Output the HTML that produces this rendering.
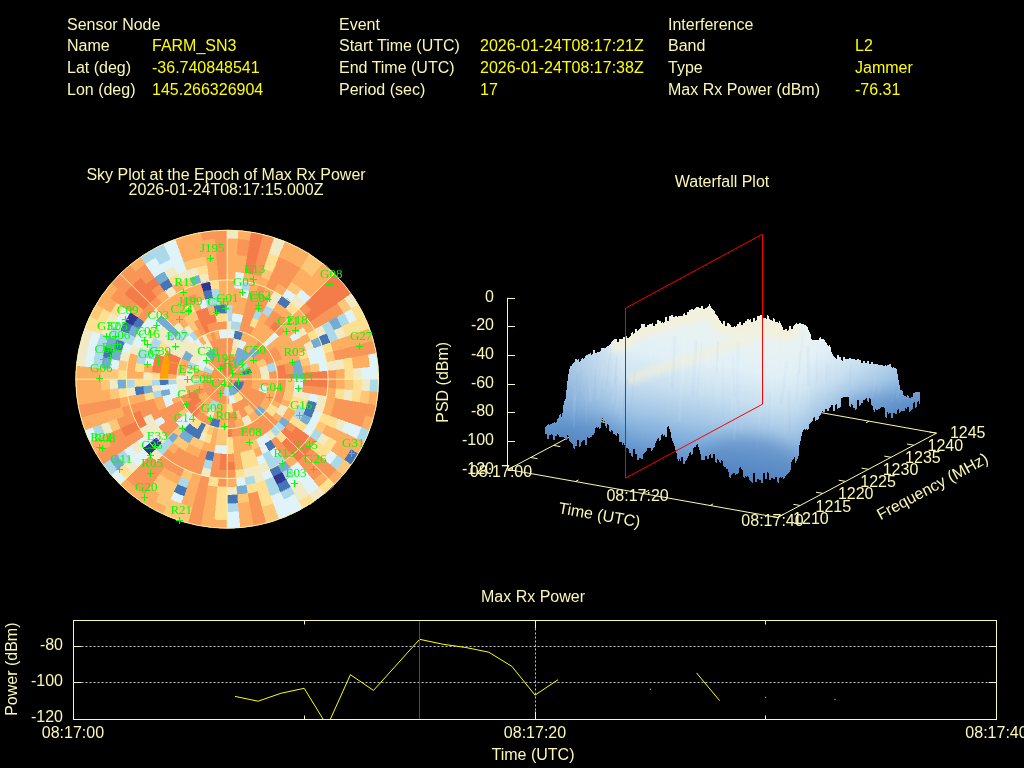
<!DOCTYPE html>
<html><head><meta charset="utf-8"><title>Interference Event</title>
<style>
html,body{margin:0;padding:0;background:#000;overflow:hidden}
svg{display:block;will-change:transform}
text{font-family:"Liberation Sans",sans-serif;font-size:16px}
</style></head><body>
<svg width="1024" height="768" viewBox="0 0 1024 768">
<rect width="1024" height="768" fill="#000"/>
<g shape-rendering="crispEdges">
<ellipse cx="227.2" cy="379.2" rx="151.4" ry="149.0" fill="#fdae61"/>
<path fill="#f47b4a" stroke="#f47b4a" stroke-width="0.4" d="M227.2,370.9L227.5,370.9L227.8,370.9L227.2,379.2L227.2,379.2L227.2,379.2ZM227.2,362.6L227.8,362.7L228.5,362.7L227.8,370.9L227.5,370.9L227.2,370.9ZM227.8,370.9L228.2,371.0L228.5,371.0L227.2,379.2L227.2,379.2L227.2,379.2ZM228.5,362.7L229.1,362.8L229.8,362.8L228.5,371.0L228.2,371.0L227.8,370.9ZM228.5,371.0L228.9,371.1L229.2,371.2L227.2,379.2L227.2,379.2L227.2,379.2ZM229.8,362.8L230.5,363.0L231.2,363.1L229.2,371.2L228.9,371.1L228.5,371.0ZM245.6,264.7L250.4,265.6L255.1,266.6L253.1,274.7L248.7,273.7L244.3,272.9ZM246.9,256.6L252.0,257.5L257.1,258.6L255.1,266.6L250.4,265.6L245.6,264.7ZM248.3,248.4L253.7,249.3L259.1,250.5L257.1,258.6L252.0,257.5L246.9,256.6ZM249.6,240.2L255.3,241.2L261.1,242.5L259.1,250.5L253.7,249.3L248.3,248.4ZM250.9,232.0L257.0,233.1L263.1,234.4L261.1,242.5L255.3,241.2L249.6,240.2ZM229.2,371.2L229.5,371.2L229.8,371.3L227.2,379.2L227.2,379.2L227.2,379.2ZM231.2,363.1L231.8,363.3L232.4,363.5L229.8,371.3L229.5,371.2L229.2,371.2ZM229.8,371.3L230.1,371.4L230.4,371.6L227.2,379.2L227.2,379.2L227.2,379.2ZM232.4,363.5L233.0,363.7L233.6,363.9L230.4,371.6L230.1,371.4L229.8,371.3ZM274.8,321.3L277.9,323.8L280.7,326.5L274.8,332.4L272.2,330.0L269.5,327.7ZM310.5,297.3L314.0,300.9L317.4,304.7L311.0,310.0L307.8,306.5L304.5,303.1ZM316.4,291.4L320.2,295.3L323.8,299.4L317.4,304.7L314.0,300.9L310.5,297.3ZM322.4,285.5L326.4,289.7L330.3,294.1L323.8,299.4L320.2,295.3L316.4,291.4ZM328.3,279.7L332.6,284.1L336.7,288.7L330.3,294.1L326.4,289.7L322.4,285.5ZM334.3,273.8L338.8,278.5L343.2,283.4L336.7,288.7L332.6,284.1L328.3,279.7ZM311.0,310.0L313.9,313.7L316.8,317.5L309.9,322.2L307.3,318.7L304.5,315.3ZM317.4,304.7L320.6,308.7L323.7,312.7L316.8,317.5L313.9,313.7L311.0,310.0ZM323.8,299.4L327.3,303.6L330.5,308.0L323.7,312.7L320.6,308.7L317.4,304.7ZM330.3,294.1L334.0,298.6L337.4,303.2L330.5,308.0L327.3,303.6L323.8,299.4ZM336.7,288.7L340.6,293.5L344.3,298.5L337.4,303.2L334.0,298.6L330.3,294.1ZM343.2,283.4L347.3,288.5L351.2,293.7L344.3,298.5L340.6,293.5L336.7,288.7ZM284.1,364.2L284.7,366.7L285.2,369.1L276.9,370.6L276.5,368.5L275.9,366.3ZM285.2,369.1L285.6,371.6L285.9,374.1L277.5,374.9L277.2,372.7L276.9,370.6ZM285.9,374.1L286.0,376.7L286.1,379.2L277.7,379.2L277.6,377.0L277.5,374.9ZM294.2,373.4L294.4,376.3L294.5,379.2L286.1,379.2L286.0,376.7L285.9,374.1ZM311.0,372.0L311.2,375.6L311.3,379.2L302.9,379.2L302.8,376.0L302.6,372.7ZM319.4,371.3L319.6,375.2L319.7,379.2L311.3,379.2L311.2,375.6L311.0,372.0ZM327.7,370.5L328.0,374.9L328.1,379.2L319.7,379.2L319.6,375.2L319.4,371.3ZM311.3,379.2L311.2,382.8L311.0,386.4L302.6,385.7L302.8,382.4L302.9,379.2ZM319.7,379.2L319.6,383.2L319.4,387.1L311.0,386.4L311.2,382.8L311.3,379.2ZM328.1,379.2L328.0,383.5L327.7,387.9L319.4,387.1L319.6,383.2L319.7,379.2ZM303.0,431.4L300.6,434.6L298.1,437.7L291.6,432.4L293.9,429.6L296.1,426.7ZM309.9,436.2L307.3,439.7L304.5,443.1L298.1,437.7L300.6,434.6L303.0,431.4ZM291.6,432.4L289.2,435.1L286.7,437.7L280.7,431.9L283.0,429.5L285.2,427.1ZM298.1,437.7L295.4,440.7L292.6,443.6L286.7,437.7L289.2,435.1L291.6,432.4ZM304.5,443.1L301.6,446.3L298.6,449.4L292.6,443.6L295.4,440.7L298.1,437.7ZM311.0,448.4L307.8,451.9L304.5,455.3L298.6,449.4L301.6,446.3L304.5,443.1ZM292.6,443.6L289.7,446.3L286.7,449.0L281.3,442.6L284.0,440.2L286.7,437.7ZM298.6,449.4L295.4,452.4L292.1,455.3L286.7,449.0L289.7,446.3L292.6,443.6ZM304.5,455.3L301.1,458.5L297.5,461.6L292.1,455.3L295.4,452.4L298.6,449.4ZM232.3,436.9L229.8,437.1L227.2,437.1L227.2,428.9L229.4,428.8L231.6,428.7ZM235.3,469.9L231.2,470.2L227.2,470.3L227.2,462.0L230.9,461.9L234.5,461.7ZM227.2,462.0L223.5,461.9L219.9,461.7L220.6,453.4L223.9,453.6L227.2,453.7ZM227.2,470.3L223.2,470.2L219.1,469.9L219.9,461.7L223.5,461.9L227.2,462.0ZM194.8,417.2L193.1,415.8L191.5,414.3L197.5,408.5L198.8,409.7L200.2,410.9ZM191.5,414.3L190.0,412.8L188.5,411.1L195.0,405.8L196.2,407.2L197.5,408.5ZM195.0,405.8L193.8,404.4L192.8,402.9L199.6,398.2L200.5,399.4L201.4,400.5ZM188.5,411.1L187.2,409.4L185.9,407.7L192.8,402.9L193.8,404.4L195.0,405.8ZM192.8,402.9L191.7,401.4L190.8,399.9L198.1,395.8L198.8,397.0L199.6,398.2ZM185.9,407.7L184.6,405.9L183.5,404.0L190.8,399.9L191.7,401.4L192.8,402.9ZM190.8,399.9L189.9,398.3L189.1,396.7L196.7,393.2L197.4,394.5L198.1,395.8ZM139.8,428.9L137.7,425.1L135.7,421.2L143.3,417.7L145.1,421.2L147.1,424.7ZM132.5,433.0L130.2,428.9L128.1,424.7L135.7,421.2L137.7,425.1L139.8,428.9ZM125.2,437.1L122.7,432.7L120.5,428.2L128.1,424.7L130.2,428.9L132.5,433.0ZM189.1,396.7L188.3,395.0L187.7,393.4L195.6,390.5L196.1,391.9L196.7,393.2ZM135.7,421.2L133.9,417.2L132.4,413.2L140.3,410.3L141.7,414.0L143.3,417.7ZM159.9,379.2L160.0,376.3L160.2,373.4L168.5,374.1L168.4,376.7L168.3,379.2ZM168.5,374.1L168.8,371.6L169.2,369.1L177.5,370.6L177.2,372.7L176.9,374.9ZM160.2,373.4L160.5,370.6L160.9,367.7L169.2,369.1L168.8,371.6L168.5,374.1ZM151.8,372.7L152.1,369.5L152.7,366.3L160.9,367.7L160.5,370.6L160.2,373.4ZM169.2,369.1L169.7,366.7L170.3,364.2L178.5,366.3L177.9,368.5L177.5,370.6ZM160.9,367.7L161.5,364.9L162.2,362.1L170.3,364.2L169.7,366.7L169.2,369.1ZM152.7,366.3L153.3,363.1L154.1,359.9L162.2,362.1L161.5,364.9L160.9,367.7ZM170.3,364.2L171.0,361.8L171.9,359.4L179.8,362.2L179.1,364.3L178.5,366.3ZM162.2,362.1L163.0,359.3L164.0,356.6L171.9,359.4L171.0,361.8L170.3,364.2ZM154.1,359.9L155.0,356.8L156.1,353.7L164.0,356.6L163.0,359.3L162.2,362.1ZM171.9,359.4L172.8,357.0L173.8,354.7L181.5,358.2L180.6,360.2L179.8,362.2ZM164.0,356.6L165.0,353.9L166.2,351.2L173.8,354.7L172.8,357.0L171.9,359.4ZM137.0,304.7L140.4,300.9L143.9,297.3L149.9,303.1L146.6,306.5L143.4,310.0ZM130.6,299.4L134.2,295.3L138.0,291.4L143.9,297.3L140.4,300.9L137.0,304.7ZM124.1,294.1L128.0,289.7L132.0,285.5L138.0,291.4L134.2,295.3L130.6,299.4ZM143.9,297.3L147.6,293.8L151.5,290.4L156.9,296.8L153.3,299.9L149.9,303.1ZM138.0,291.4L142.0,287.7L146.1,284.1L151.5,290.4L147.6,293.8L143.9,297.3ZM132.0,285.5L136.3,281.6L140.7,277.7L146.1,284.1L142.0,287.7L138.0,291.4ZM146.1,284.1L150.4,280.7L154.8,277.5L159.7,284.3L155.5,287.3L151.5,290.4ZM223.0,372.0L223.3,371.9L223.6,371.7L227.2,379.2L227.2,379.2L227.2,379.2ZM218.8,364.9L219.4,364.5L220.1,364.2L223.6,371.7L223.3,371.9L223.0,372.0ZM223.6,371.7L224.0,371.6L224.3,371.4L227.2,379.2L227.2,379.2L227.2,379.2ZM220.1,364.2L220.8,363.9L221.4,363.6L224.3,371.4L224.0,371.6L223.6,371.7ZM202.3,326.7L204.7,325.7L207.1,324.8L209.9,332.5L207.9,333.3L205.9,334.2ZM198.8,319.2L201.4,318.0L204.2,317.0L207.1,324.8L204.7,325.7L202.3,326.7ZM195.2,311.7L198.2,310.4L201.3,309.2L204.2,317.0L201.4,318.0L198.8,319.2ZM224.3,371.4L224.7,371.3L225.0,371.2L227.2,379.2L227.2,379.2L227.2,379.2ZM221.4,363.6L222.1,363.4L222.8,363.2L225.0,371.2L224.7,371.3L224.3,371.4ZM204.2,317.0L207.0,316.0L209.8,315.2L212.0,323.2L209.5,323.9L207.1,324.8ZM201.3,309.2L204.4,308.1L207.6,307.2L209.8,315.2L207.0,316.0L204.2,317.0ZM225.0,371.2L225.4,371.1L225.7,371.0L227.2,379.2L227.2,379.2L227.2,379.2ZM222.8,363.2L223.6,363.0L224.3,362.9L225.7,371.0L225.4,371.1L225.0,371.2ZM209.8,315.2L212.6,314.5L215.5,314.0L217.0,322.1L214.5,322.6L212.0,323.2ZM225.7,371.0L226.1,371.0L226.5,371.0L227.2,379.2L227.2,379.2L227.2,379.2ZM224.3,362.9L225.0,362.8L225.7,362.7L226.5,371.0L226.1,371.0L225.7,371.0ZM226.5,371.0L226.8,370.9L227.2,370.9L227.2,379.2L227.2,379.2L227.2,379.2ZM225.7,362.7L226.5,362.7L227.2,362.6L227.2,370.9L226.8,370.9L226.5,371.0Z"/>
<path fill="#f99557" stroke="#f99557" stroke-width="0.4" d="M227.2,354.4L228.1,354.4L229.1,354.4L228.5,362.7L227.8,362.7L227.2,362.6ZM227.2,346.1L228.5,346.1L229.7,346.2L229.1,354.4L228.1,354.4L227.2,354.4ZM227.2,337.8L228.8,337.8L230.4,337.9L229.7,346.2L228.5,346.1L227.2,346.1ZM229.1,354.4L230.1,354.5L231.1,354.7L229.8,362.8L229.1,362.8L228.5,362.7ZM229.7,346.2L231.1,346.3L232.5,346.5L231.1,354.7L230.1,354.5L229.1,354.4ZM230.4,337.9L232.1,338.1L233.8,338.3L232.5,346.5L231.1,346.3L229.7,346.2ZM237.3,247.1L242.8,247.6L248.3,248.4L246.9,256.6L241.8,255.9L236.7,255.4ZM237.9,238.9L243.8,239.4L249.6,240.2L248.3,248.4L242.8,247.6L237.3,247.1ZM231.1,354.7L232.2,354.9L233.2,355.1L231.2,363.1L230.5,363.0L229.8,362.8ZM233.2,355.1L234.1,355.3L235.0,355.6L232.4,363.5L231.8,363.3L231.2,363.1ZM241.1,322.9L243.3,323.5L245.5,324.1L242.9,332.0L241.0,331.4L239.2,330.9ZM243.1,314.9L245.6,315.5L248.1,316.3L245.5,324.1L243.3,323.5L241.1,322.9ZM245.1,306.8L247.9,307.6L250.7,308.4L248.1,316.3L245.6,315.5L243.1,314.9ZM247.1,298.8L250.2,299.6L253.3,300.5L250.7,308.4L247.9,307.6L245.1,306.8ZM249.1,290.7L252.5,291.6L255.9,292.7L253.3,300.5L250.2,299.6L247.1,298.8ZM255.1,266.6L259.5,267.7L263.8,269.0L261.2,276.9L257.2,275.7L253.1,274.7ZM257.1,258.6L261.8,259.8L266.4,261.2L263.8,269.0L259.5,267.7L255.1,266.6ZM259.1,250.5L264.1,251.8L269.0,253.3L266.4,261.2L261.8,259.8L257.1,258.6ZM261.1,242.5L266.4,243.9L271.6,245.4L269.0,253.3L264.1,251.8L259.1,250.5ZM263.1,234.4L268.7,235.9L274.2,237.6L271.6,245.4L266.4,243.9L261.1,242.5ZM235.0,355.6L236.0,355.9L236.9,356.3L233.6,363.9L233.0,363.7L232.4,363.5ZM245.5,324.1L247.6,324.9L249.7,325.7L246.5,333.3L244.7,332.6L242.9,332.0ZM248.1,316.3L250.5,317.1L253.0,318.0L249.7,325.7L247.6,324.9L245.5,324.1ZM250.7,308.4L253.5,309.3L256.2,310.4L253.0,318.0L250.5,317.1L248.1,316.3ZM253.3,300.5L256.4,301.6L259.4,302.7L256.2,310.4L253.5,309.3L250.7,308.4ZM255.9,292.7L259.3,293.8L262.6,295.1L259.4,302.7L256.4,301.6L253.3,300.5ZM258.6,284.8L262.2,286.0L265.8,287.4L262.6,295.1L259.3,293.8L255.9,292.7ZM230.4,371.6L230.8,371.7L231.1,371.9L227.2,379.2L227.2,379.2L227.2,379.2ZM233.6,363.9L234.3,364.2L235.0,364.5L231.1,371.9L230.8,371.7L230.4,371.6ZM249.7,325.7L252.1,326.7L254.4,327.8L250.5,335.1L248.5,334.2L246.5,333.3ZM259.4,302.7L262.7,304.2L266.0,305.8L262.2,313.1L259.2,311.7L256.2,310.4ZM262.6,295.1L266.3,296.7L269.9,298.4L266.0,305.8L262.7,304.2L259.4,302.7ZM269.0,279.8L273.4,281.7L277.7,283.7L273.8,291.1L269.9,289.2L265.8,287.4ZM272.3,272.1L277.0,274.2L281.6,276.4L277.7,283.7L273.4,281.7L269.0,279.8ZM275.5,264.5L280.5,266.7L285.5,269.1L281.6,276.4L277.0,274.2L272.3,272.1ZM278.7,256.8L284.1,259.2L289.3,261.7L285.5,269.1L280.5,266.7L275.5,264.5ZM231.1,371.9L231.4,372.0L231.8,372.3L227.2,379.2L227.2,379.2L227.2,379.2ZM235.0,364.5L235.7,364.9L236.4,365.3L231.8,372.3L231.4,372.0L231.1,371.9ZM281.6,276.4L286.5,279.1L291.3,282.0L286.8,288.9L282.3,286.2L277.7,283.7ZM285.5,269.1L290.8,271.9L295.9,275.1L291.3,282.0L286.5,279.1L281.6,276.4ZM289.3,261.7L295.0,264.8L300.5,268.1L295.9,275.1L290.8,271.9L285.5,269.1ZM231.8,372.3L232.1,372.5L232.5,372.8L227.2,379.2L227.2,379.2L227.2,379.2ZM236.4,365.3L237.1,365.8L237.8,366.3L232.5,372.8L232.1,372.5L231.8,372.3ZM268.4,316.7L271.7,318.9L274.8,321.3L269.5,327.7L266.8,325.6L263.8,323.7ZM273.0,309.8L276.6,312.2L280.1,314.9L274.8,321.3L271.7,318.9L268.4,316.7ZM232.5,372.8L232.8,373.0L233.1,373.3L227.2,379.2L227.2,379.2L227.2,379.2ZM237.8,366.3L238.5,366.9L239.1,367.5L233.1,373.3L232.8,373.0L232.5,372.8ZM243.1,359.9L244.1,360.7L245.0,361.6L239.1,367.5L238.5,366.9L237.8,366.3ZM259.0,340.6L261.0,342.3L262.9,344.1L256.9,349.9L255.3,348.4L253.7,347.0ZM280.1,314.9L283.5,317.7L286.7,320.7L280.7,326.5L277.9,323.8L274.8,321.3ZM233.1,373.3L233.4,373.6L233.6,373.9L227.2,379.2L227.2,379.2L227.2,379.2ZM239.1,367.5L239.6,368.0L240.1,368.6L233.6,373.9L233.4,373.6L233.1,373.3ZM245.0,361.6L245.8,362.4L246.5,363.2L240.1,368.6L239.6,368.0L239.1,367.5ZM262.9,344.1L264.4,345.6L265.9,347.3L259.4,352.6L258.2,351.2L256.9,349.9ZM280.7,326.5L283.0,328.9L285.2,331.3L278.7,336.6L276.8,334.5L274.8,332.4ZM304.5,303.1L307.8,306.5L311.0,310.0L304.5,315.3L301.6,312.1L298.6,309.0ZM233.6,373.9L233.9,374.2L234.1,374.5L227.2,379.2L227.2,379.2L227.2,379.2ZM240.1,368.6L240.5,369.1L241.0,369.7L234.1,374.5L233.9,374.2L233.6,373.9ZM259.4,352.6L260.6,354.0L261.6,355.5L254.8,360.2L253.9,359.0L253.0,357.9ZM265.9,347.3L267.2,349.0L268.5,350.7L261.6,355.5L260.6,354.0L259.4,352.6ZM234.1,374.5L234.3,374.8L234.5,375.1L227.2,379.2L227.2,379.2L227.2,379.2ZM241.0,369.7L241.4,370.3L241.8,370.9L234.5,375.1L234.3,374.8L234.1,374.5ZM261.6,355.5L262.7,357.0L263.6,358.5L256.3,362.6L255.6,361.4L254.8,360.2ZM268.5,350.7L269.8,352.5L270.9,354.4L263.6,358.5L262.7,357.0L261.6,355.5ZM275.4,346.0L276.9,348.1L278.2,350.2L270.9,354.4L269.8,352.5L268.5,350.7ZM316.8,317.5L319.4,321.4L321.9,325.4L314.6,329.5L312.3,325.8L309.9,322.2ZM323.7,312.7L326.5,316.9L329.2,321.3L321.9,325.4L319.4,321.4L316.8,317.5ZM330.5,308.0L333.6,312.5L336.5,317.1L329.2,321.3L326.5,316.9L323.7,312.7ZM337.4,303.2L340.7,308.0L343.7,313.0L336.5,317.1L333.6,312.5L330.5,308.0ZM234.5,375.1L234.7,375.4L234.8,375.7L227.2,379.2L227.2,379.2L227.2,379.2ZM241.8,370.9L242.1,371.6L242.4,372.2L234.8,375.7L234.7,375.4L234.5,375.1ZM249.1,366.8L249.6,367.7L250.1,368.7L242.4,372.2L242.1,371.6L241.8,370.9ZM270.9,354.4L272.0,356.3L272.9,358.2L265.3,361.7L264.5,360.1L263.6,358.5ZM278.2,350.2L279.4,352.4L280.6,354.7L272.9,358.2L272.0,356.3L270.9,354.4ZM234.8,375.7L235.0,376.0L235.1,376.4L227.2,379.2L227.2,379.2L227.2,379.2ZM242.4,372.2L242.7,372.9L243.0,373.5L235.1,376.4L235.0,376.0L234.8,375.7ZM272.9,358.2L273.8,360.2L274.6,362.2L266.7,365.0L266.1,363.4L265.3,361.7ZM280.6,354.7L281.6,357.0L282.5,359.4L274.6,362.2L273.8,360.2L272.9,358.2ZM235.1,376.4L235.2,376.7L235.3,377.1L227.2,379.2L227.2,379.2L227.2,379.2ZM243.0,373.5L243.2,374.2L243.4,374.9L235.3,377.1L235.2,376.7L235.1,376.4ZM235.3,377.1L235.4,377.4L235.5,377.8L227.2,379.2L227.2,379.2L227.2,379.2ZM243.4,374.9L243.6,375.6L243.8,376.3L235.5,377.8L235.4,377.4L235.3,377.1ZM251.6,372.8L251.8,373.8L252.0,374.9L243.8,376.3L243.6,375.6L243.4,374.9ZM292.2,362.1L292.9,364.9L293.5,367.7L285.2,369.1L284.7,366.7L284.1,364.2ZM340.9,349.2L342.2,354.1L343.2,359.1L334.9,360.5L334.0,355.9L332.8,351.3ZM349.1,347.1L350.4,352.3L351.4,357.6L343.2,359.1L342.2,354.1L340.9,349.2ZM357.2,344.9L358.6,350.5L359.7,356.2L351.4,357.6L350.4,352.3L349.1,347.1ZM365.3,342.8L366.8,348.7L368.0,354.8L359.7,356.2L358.6,350.5L357.2,344.9ZM373.4,340.6L375.0,347.0L376.3,353.3L368.0,354.8L366.8,348.7L365.3,342.8ZM235.5,377.8L235.5,378.1L235.6,378.5L227.2,379.2L227.2,379.2L227.2,379.2ZM243.8,376.3L243.9,377.0L244.0,377.8L235.6,378.5L235.5,378.1L235.5,377.8ZM252.0,374.9L252.2,376.0L252.3,377.0L244.0,377.8L243.9,377.0L243.8,376.3ZM276.9,370.6L277.2,372.7L277.5,374.9L269.1,375.6L268.9,373.8L268.6,372.0ZM293.5,367.7L293.9,370.6L294.2,373.4L285.9,374.1L285.6,371.6L285.2,369.1ZM235.6,378.5L235.6,378.8L235.6,379.2L227.2,379.2L227.2,379.2L227.2,379.2ZM244.0,377.8L244.0,378.5L244.0,379.2L235.6,379.2L235.6,378.8L235.6,378.5ZM252.3,377.0L252.4,378.1L252.4,379.2L244.0,379.2L244.0,378.5L244.0,377.8ZM277.5,374.9L277.6,377.0L277.7,379.2L269.3,379.2L269.2,377.4L269.1,375.6ZM336.1,369.8L336.4,374.5L336.5,379.2L328.1,379.2L328.0,374.9L327.7,370.5ZM235.6,379.2L235.6,379.6L235.6,379.9L227.2,379.2L227.2,379.2L227.2,379.2ZM244.0,379.2L244.0,379.9L244.0,380.6L235.6,379.9L235.6,379.6L235.6,379.2ZM252.4,379.2L252.4,380.3L252.3,381.4L244.0,380.6L244.0,379.9L244.0,379.2ZM286.1,379.2L286.0,381.7L285.9,384.3L277.5,383.5L277.6,381.4L277.7,379.2ZM336.5,379.2L336.4,383.9L336.1,388.6L327.7,387.9L328.0,383.5L328.1,379.2ZM235.6,379.9L235.5,380.3L235.5,380.6L227.2,379.2L227.2,379.2L227.2,379.2ZM244.0,380.6L243.9,381.4L243.8,382.1L235.5,380.6L235.5,380.3L235.6,379.9ZM252.3,381.4L252.2,382.4L252.0,383.5L243.8,382.1L243.9,381.4L244.0,380.6ZM285.9,384.3L285.6,386.8L285.2,389.3L276.9,387.8L277.2,385.7L277.5,383.5ZM311.0,386.4L310.6,390.0L310.0,393.6L301.7,392.1L302.3,388.9L302.6,385.7ZM319.4,387.1L318.9,391.1L318.3,395.0L310.0,393.6L310.6,390.0L311.0,386.4ZM327.7,387.9L327.3,392.2L326.6,396.4L318.3,395.0L318.9,391.1L319.4,387.1ZM235.5,380.6L235.4,381.0L235.3,381.3L227.2,379.2L227.2,379.2L227.2,379.2ZM252.0,383.5L251.8,384.6L251.6,385.6L243.4,383.5L243.6,382.8L243.8,382.1ZM285.2,389.3L284.7,391.7L284.1,394.2L275.9,392.1L276.5,389.9L276.9,387.8ZM343.2,399.3L342.2,404.3L340.9,409.2L332.8,407.1L334.0,402.5L334.9,397.9ZM351.4,400.8L350.4,406.1L349.1,411.3L340.9,409.2L342.2,404.3L343.2,399.3ZM359.7,402.2L358.6,407.9L357.2,413.5L349.1,411.3L350.4,406.1L351.4,400.8ZM368.0,403.6L366.8,409.7L365.3,415.6L357.2,413.5L358.6,407.9L359.7,402.2ZM376.3,405.1L375.0,411.4L373.4,417.8L365.3,415.6L366.8,409.7L368.0,403.6ZM235.3,381.3L235.2,381.7L235.1,382.0L227.2,379.2L227.2,379.2L227.2,379.2ZM251.6,385.6L251.3,386.7L250.9,387.7L243.0,384.9L243.2,384.2L243.4,383.5ZM284.1,394.2L283.4,396.6L282.5,399.0L274.6,396.2L275.3,394.1L275.9,392.1ZM340.9,409.2L339.5,414.0L337.9,418.8L330.0,416.0L331.5,411.6L332.8,407.1ZM349.1,411.3L347.5,416.5L345.8,421.7L337.9,418.8L339.5,414.0L340.9,409.2ZM357.2,413.5L355.5,419.0L353.7,424.5L345.8,421.7L347.5,416.5L349.1,411.3ZM365.3,415.6L363.6,421.5L361.6,427.3L353.7,424.5L355.5,419.0L357.2,413.5ZM235.1,382.0L235.0,382.4L234.8,382.7L227.2,379.2L227.2,379.2L227.2,379.2ZM250.9,387.7L250.5,388.7L250.1,389.7L242.4,386.2L242.7,385.5L243.0,384.9ZM258.8,390.5L258.3,391.9L257.7,393.2L250.1,389.7L250.5,388.7L250.9,387.7ZM266.7,393.4L266.1,395.0L265.3,396.7L257.7,393.2L258.3,391.9L258.8,390.5ZM282.5,399.0L281.6,401.4L280.6,403.7L272.9,400.2L273.8,398.2L274.6,396.2ZM234.8,382.7L234.7,383.0L234.5,383.3L227.2,379.2L227.2,379.2L227.2,379.2ZM250.1,389.7L249.6,390.7L249.1,391.6L241.8,387.5L242.1,386.8L242.4,386.2ZM257.7,393.2L257.0,394.5L256.3,395.8L249.1,391.6L249.6,390.7L250.1,389.7ZM265.3,396.7L264.5,398.3L263.6,399.9L256.3,395.8L257.0,394.5L257.7,393.2ZM234.5,383.3L234.3,383.6L234.1,383.9L227.2,379.2L227.2,379.2L227.2,379.2ZM249.1,391.6L248.5,392.5L247.9,393.4L241.0,388.7L241.4,388.1L241.8,387.5ZM256.3,395.8L255.6,397.0L254.8,398.2L247.9,393.4L248.5,392.5L249.1,391.6ZM263.6,399.9L262.7,401.4L261.6,402.9L254.8,398.2L255.6,397.0L256.3,395.8ZM234.1,383.9L233.9,384.2L233.6,384.5L227.2,379.2L227.2,379.2L227.2,379.2ZM247.9,393.4L247.2,394.3L246.5,395.2L240.1,389.8L240.5,389.3L241.0,388.7ZM254.8,398.2L253.9,399.4L253.0,400.5L246.5,395.2L247.2,394.3L247.9,393.4ZM261.6,402.9L260.6,404.4L259.4,405.8L253.0,400.5L253.9,399.4L254.8,398.2ZM296.1,426.7L293.9,429.6L291.6,432.4L285.2,427.1L287.3,424.6L289.2,421.9ZM316.8,440.9L313.9,444.7L311.0,448.4L304.5,443.1L307.3,439.7L309.9,436.2ZM233.6,384.5L233.4,384.8L233.1,385.1L227.2,379.2L227.2,379.2L227.2,379.2ZM246.5,395.2L245.8,396.0L245.0,396.8L239.1,390.9L239.6,390.4L240.1,389.8ZM253.0,400.5L252.0,401.6L251.0,402.6L245.0,396.8L245.8,396.0L246.5,395.2ZM259.4,405.8L258.2,407.2L256.9,408.5L251.0,402.6L252.0,401.6L253.0,400.5ZM272.3,416.4L270.6,418.3L268.8,420.2L262.9,414.3L264.4,412.8L265.9,411.1ZM278.7,421.8L276.8,423.9L274.8,426.0L268.8,420.2L270.6,418.3L272.3,416.4ZM317.4,453.7L314.0,457.5L310.5,461.1L304.5,455.3L307.8,451.9L311.0,448.4ZM323.8,459.0L320.2,463.1L316.4,467.0L310.5,461.1L314.0,457.5L317.4,453.7ZM330.3,464.3L326.4,468.7L322.4,472.9L316.4,467.0L320.2,463.1L323.8,459.0ZM336.7,469.7L332.6,474.3L328.3,478.7L322.4,472.9L326.4,468.7L330.3,464.3ZM233.1,385.1L232.9,385.3L232.6,385.5L227.2,379.2L227.2,379.2L227.2,379.2ZM245.0,396.8L244.2,397.5L243.4,398.2L238.0,391.9L238.6,391.4L239.1,390.9ZM251.0,402.6L249.9,403.6L248.8,404.6L243.4,398.2L244.2,397.5L245.0,396.8ZM256.9,408.5L255.6,409.7L254.2,410.9L248.8,404.6L249.9,403.6L251.0,402.6ZM268.8,420.2L267.0,421.9L265.0,423.6L259.6,417.2L261.3,415.8L262.9,414.3ZM274.8,426.0L272.7,428.0L270.5,429.9L265.0,423.6L267.0,421.9L268.8,420.2ZM310.5,461.1L306.8,464.6L302.9,468.0L297.5,461.6L301.1,458.5L304.5,455.3ZM316.4,467.0L312.4,470.7L308.3,474.3L302.9,468.0L306.8,464.6L310.5,461.1ZM322.4,472.9L318.1,476.8L313.7,480.7L308.3,474.3L312.4,470.7L316.4,467.0ZM232.6,385.5L232.3,385.8L232.0,386.0L227.2,379.2L227.2,379.2L227.2,379.2ZM248.8,404.6L247.7,405.5L246.5,406.3L241.7,399.5L242.6,398.9L243.4,398.2ZM265.0,423.6L263.0,425.2L261.0,426.7L256.1,419.9L257.9,418.6L259.6,417.2ZM270.5,429.9L268.2,431.7L265.8,433.4L261.0,426.7L263.0,425.2L265.0,423.6ZM281.3,442.6L278.4,444.9L275.4,447.0L270.6,440.2L273.3,438.3L275.9,436.3ZM286.7,449.0L283.5,451.4L280.3,453.8L275.4,447.0L278.4,444.9L281.3,442.6ZM292.1,455.3L288.6,458.0L285.1,460.6L280.3,453.8L283.5,451.4L286.7,449.0ZM232.0,386.0L231.7,386.2L231.4,386.4L227.2,379.2L227.2,379.2L227.2,379.2ZM246.5,406.3L245.3,407.1L244.0,407.9L239.8,400.7L240.8,400.1L241.7,399.5ZM261.0,426.7L258.8,428.1L256.6,429.4L252.4,422.2L254.3,421.1L256.1,419.9ZM265.8,433.4L263.4,435.1L260.8,436.6L256.6,429.4L258.8,428.1L261.0,426.7ZM231.4,386.4L231.1,386.5L230.8,386.7L227.2,379.2L227.2,379.2L227.2,379.2ZM244.0,407.9L242.7,408.6L241.4,409.2L237.9,401.7L238.9,401.2L239.8,400.7ZM248.2,415.0L246.6,415.9L245.0,416.7L241.4,409.2L242.7,408.6L244.0,407.9ZM256.6,429.4L254.4,430.6L252.1,431.7L248.5,424.2L250.5,423.3L252.4,422.2ZM230.8,386.7L230.4,386.8L230.1,387.0L227.2,379.2L227.2,379.2L227.2,379.2ZM241.4,409.2L240.1,409.8L238.7,410.3L235.8,402.5L236.9,402.1L237.9,401.7ZM245.0,416.7L243.3,417.4L241.6,418.1L238.7,410.3L240.1,409.8L241.4,409.2ZM252.1,431.7L249.7,432.7L247.3,433.6L244.5,425.9L246.5,425.1L248.5,424.2ZM230.1,387.0L229.7,387.1L229.4,387.2L227.2,379.2L227.2,379.2L227.2,379.2ZM238.7,410.3L237.3,410.8L235.9,411.2L233.7,403.2L234.8,402.9L235.8,402.5ZM247.3,433.6L244.9,434.5L242.4,435.2L240.3,427.2L242.4,426.6L244.5,425.9ZM229.4,387.2L229.0,387.3L228.7,387.4L227.2,379.2L227.2,379.2L227.2,379.2ZM235.9,411.2L234.5,411.5L233.0,411.8L231.6,403.7L232.7,403.4L233.7,403.2ZM238.1,419.2L236.3,419.6L234.5,420.0L233.0,411.8L234.5,411.5L235.9,411.2ZM242.4,435.2L239.9,435.8L237.4,436.3L236.0,428.1L238.1,427.7L240.3,427.2ZM259.9,499.1L254.5,500.4L249.1,501.5L247.6,493.3L252.7,492.3L257.7,491.1ZM262.0,507.1L256.3,508.5L250.6,509.6L249.1,501.5L254.5,500.4L259.9,499.1ZM264.2,515.1L258.1,516.6L252.0,517.8L250.6,509.6L256.3,508.5L262.0,507.1ZM266.4,523.1L260.0,524.7L253.5,525.9L252.0,517.8L258.1,516.6L264.2,515.1ZM228.7,387.4L228.3,387.4L227.9,387.4L227.2,379.2L227.2,379.2L227.2,379.2ZM234.5,420.0L232.7,420.2L230.9,420.4L230.1,412.2L231.6,412.0L233.0,411.8ZM236.0,428.1L233.8,428.4L231.6,428.7L230.9,420.4L232.7,420.2L234.5,420.0ZM237.4,436.3L234.9,436.6L232.3,436.9L231.6,428.7L233.8,428.4L236.0,428.1ZM227.9,387.4L227.6,387.5L227.2,387.5L227.2,379.2L227.2,379.2L227.2,379.2ZM229.4,403.9L228.3,404.0L227.2,404.0L227.2,395.8L227.9,395.7L228.7,395.7ZM230.9,420.4L229.0,420.5L227.2,420.6L227.2,412.3L228.7,412.3L230.1,412.2ZM231.6,428.7L229.4,428.8L227.2,428.9L227.2,420.6L229.0,420.5L230.9,420.4ZM234.5,461.7L230.9,461.9L227.2,462.0L227.2,453.7L230.5,453.6L233.8,453.4ZM236.0,478.2L231.6,478.4L227.2,478.5L227.2,470.3L231.2,470.2L235.3,469.9ZM227.2,387.5L226.8,387.5L226.5,387.4L227.2,379.2L227.2,379.2L227.2,379.2ZM227.2,404.0L226.1,404.0L225.0,403.9L225.7,395.7L226.5,395.7L227.2,395.8ZM227.2,478.5L222.8,478.4L218.4,478.2L219.1,469.9L223.2,470.2L227.2,470.3ZM227.2,486.8L222.4,486.7L217.7,486.4L218.4,478.2L222.8,478.4L227.2,478.5ZM226.5,387.4L226.1,387.4L225.7,387.4L227.2,379.2L227.2,379.2L227.2,379.2ZM225.0,403.9L223.9,403.8L222.8,403.7L224.3,395.5L225.0,395.6L225.7,395.7ZM219.9,461.7L216.2,461.3L212.6,460.7L214.1,452.6L217.3,453.1L220.6,453.4ZM219.1,469.9L215.1,469.5L211.1,468.9L212.6,460.7L216.2,461.3L219.9,461.7ZM218.4,478.2L214.0,477.7L209.7,477.0L211.1,468.9L215.1,469.5L219.1,469.9ZM225.7,387.4L225.4,387.3L225.0,387.2L227.2,379.2L227.2,379.2L227.2,379.2ZM222.8,403.7L221.7,403.4L220.7,403.2L222.8,395.2L223.6,395.4L224.3,395.5ZM208.2,485.2L203.5,484.3L198.9,483.1L201.1,475.1L205.4,476.2L209.7,477.0ZM206.8,493.3L201.7,492.3L196.7,491.1L198.9,483.1L203.5,484.3L208.2,485.2ZM205.3,501.5L199.9,500.4L194.5,499.1L196.7,491.1L201.7,492.3L206.8,493.3ZM203.8,509.6L198.1,508.5L192.4,507.1L194.5,499.1L199.9,500.4L205.3,501.5ZM202.4,517.8L196.3,516.6L190.2,515.1L192.4,507.1L198.1,508.5L203.8,509.6ZM200.9,525.9L194.4,524.7L188.0,523.1L190.2,515.1L196.3,516.6L202.4,517.8ZM225.0,387.2L224.7,387.1L224.3,387.0L227.2,379.2L227.2,379.2L227.2,379.2ZM222.8,395.2L222.1,395.0L221.4,394.8L224.3,387.0L224.7,387.1L225.0,387.2ZM220.7,403.2L219.6,402.9L218.6,402.5L221.4,394.8L222.1,395.0L222.8,395.2ZM205.4,459.2L201.9,458.1L198.4,457.0L201.3,449.2L204.4,450.3L207.6,451.2ZM203.3,467.2L199.4,466.0L195.6,464.8L198.4,457.0L201.9,458.1L205.4,459.2ZM201.1,475.1L196.8,473.9L192.7,472.5L195.6,464.8L199.4,466.0L203.3,467.2ZM224.3,387.0L224.0,386.8L223.6,386.7L227.2,379.2L227.2,379.2L227.2,379.2ZM221.4,394.8L220.8,394.5L220.1,394.2L223.6,386.7L224.0,386.8L224.3,387.0ZM218.6,402.5L217.5,402.1L216.5,401.7L220.1,394.2L220.8,394.5L221.4,394.8ZM209.9,425.9L207.9,425.1L205.9,424.2L209.4,416.7L211.1,417.4L212.8,418.1ZM195.6,464.8L191.8,463.3L188.1,461.7L191.7,454.2L195.0,455.7L198.4,457.0ZM192.7,472.5L188.6,471.0L184.5,469.2L188.1,461.7L191.8,463.3L195.6,464.8ZM223.6,386.7L223.3,386.5L223.0,386.4L227.2,379.2L227.2,379.2L227.2,379.2ZM220.1,394.2L219.4,393.9L218.8,393.5L223.0,386.4L223.3,386.5L223.6,386.7ZM216.5,401.7L215.5,401.2L214.6,400.7L218.8,393.5L219.4,393.9L220.1,394.2ZM205.9,424.2L203.9,423.3L202.0,422.2L206.2,415.0L207.8,415.9L209.4,416.7ZM188.1,461.7L184.5,460.0L180.9,458.1L185.1,450.9L188.4,452.6L191.7,454.2ZM184.5,469.2L180.6,467.3L176.7,465.2L180.9,458.1L184.5,460.0L188.1,461.7ZM181.0,476.7L176.7,474.7L172.5,472.4L176.7,465.2L180.6,467.3L184.5,469.2ZM223.0,386.4L222.7,386.2L222.4,386.0L227.2,379.2L227.2,379.2L227.2,379.2ZM218.8,393.5L218.2,393.2L217.6,392.8L222.4,386.0L222.7,386.2L223.0,386.4ZM214.6,400.7L213.6,400.1L212.7,399.5L217.6,392.8L218.2,393.2L218.8,393.5ZM202.0,422.2L200.1,421.1L198.3,419.9L203.1,413.1L204.6,414.1L206.2,415.0ZM180.9,458.1L177.5,456.0L174.1,453.8L179.0,447.0L182.0,449.0L185.1,450.9ZM176.7,465.2L173.0,463.0L169.3,460.6L174.1,453.8L177.5,456.0L180.9,458.1ZM172.5,472.4L168.4,470.0L164.5,467.3L169.3,460.6L173.0,463.0L176.7,465.2ZM222.4,386.0L222.1,385.8L221.8,385.5L227.2,379.2L227.2,379.2L227.2,379.2ZM217.6,392.8L217.0,392.3L216.4,391.9L221.8,385.5L222.1,385.8L222.4,386.0ZM212.7,399.5L211.8,398.9L211.0,398.2L216.4,391.9L217.0,392.3L217.6,392.8ZM198.3,419.9L196.5,418.6L194.8,417.2L200.2,410.9L201.6,412.0L203.1,413.1ZM169.3,460.6L165.8,458.0L162.3,455.3L167.7,449.0L170.9,451.4L174.1,453.8ZM164.5,467.3L160.6,464.6L156.9,461.6L162.3,455.3L165.8,458.0L169.3,460.6ZM159.7,474.1L155.5,471.1L151.5,468.0L156.9,461.6L160.6,464.6L164.5,467.3ZM154.8,480.9L150.4,477.7L146.1,474.3L151.5,468.0L155.5,471.1L159.7,474.1ZM150.0,487.7L145.3,484.3L140.7,480.7L146.1,474.3L150.4,477.7L154.8,480.9ZM145.2,494.5L140.2,490.8L135.3,487.0L140.7,480.7L145.3,484.3L150.0,487.7ZM221.8,385.5L221.5,385.3L221.3,385.1L227.2,379.2L227.2,379.2L227.2,379.2ZM216.4,391.9L215.8,391.4L215.3,390.9L221.3,385.1L221.5,385.3L221.8,385.5ZM211.0,398.2L210.2,397.5L209.4,396.8L215.3,390.9L215.8,391.4L216.4,391.9ZM200.2,410.9L198.8,409.7L197.5,408.5L203.4,402.6L204.5,403.6L205.6,404.6ZM151.5,468.0L147.6,464.6L143.9,461.1L149.9,455.3L153.3,458.5L156.9,461.6ZM146.1,474.3L142.0,470.7L138.0,467.0L143.9,461.1L147.6,464.6L151.5,468.0ZM140.7,480.7L136.3,476.8L132.0,472.9L138.0,467.0L142.0,470.7L146.1,474.3ZM135.3,487.0L130.6,483.0L126.1,478.7L132.0,472.9L136.3,476.8L140.7,480.7ZM221.3,385.1L221.0,384.8L220.8,384.5L227.2,379.2L227.2,379.2L227.2,379.2ZM215.3,390.9L214.8,390.4L214.3,389.8L220.8,384.5L221.0,384.8L221.3,385.1ZM209.4,396.8L208.6,396.0L207.9,395.2L214.3,389.8L214.8,390.4L215.3,390.9ZM197.5,408.5L196.2,407.2L195.0,405.8L201.4,400.5L202.4,401.6L203.4,402.6ZM173.7,431.9L171.4,429.5L169.2,427.1L175.7,421.8L177.6,423.9L179.6,426.0ZM167.7,437.7L165.2,435.1L162.8,432.4L169.2,427.1L171.4,429.5L173.7,431.9ZM220.8,384.5L220.5,384.2L220.3,383.9L227.2,379.2L227.2,379.2L227.2,379.2ZM214.3,389.8L213.9,389.3L213.4,388.7L220.3,383.9L220.5,384.2L220.8,384.5ZM207.9,395.2L207.2,394.3L206.5,393.4L213.4,388.7L213.9,389.3L214.3,389.8ZM175.7,421.8L173.8,419.5L172.1,417.2L179.0,412.4L180.5,414.5L182.1,416.4ZM169.2,427.1L167.1,424.6L165.2,421.9L172.1,417.2L173.8,419.5L175.7,421.8ZM162.8,432.4L160.5,429.6L158.3,426.7L165.2,421.9L167.1,424.6L169.2,427.1ZM220.3,383.9L220.1,383.6L219.9,383.3L227.2,379.2L227.2,379.2L227.2,379.2ZM213.4,388.7L213.0,388.1L212.6,387.5L219.9,383.3L220.1,383.6L220.3,383.9ZM206.5,393.4L205.9,392.5L205.3,391.6L212.6,387.5L213.0,388.1L213.4,388.7ZM179.0,412.4L177.5,410.3L176.2,408.2L183.5,404.0L184.6,405.9L185.9,407.7ZM172.1,417.2L170.4,414.8L168.9,412.3L176.2,408.2L177.5,410.3L179.0,412.4ZM165.2,421.9L163.4,419.2L161.6,416.5L168.9,412.3L170.4,414.8L172.1,417.2ZM137.6,440.9L135.0,437.0L132.5,433.0L139.8,428.9L142.1,432.6L144.5,436.2ZM130.7,445.7L127.9,441.5L125.2,437.1L132.5,433.0L135.0,437.0L137.6,440.9ZM123.9,450.4L120.8,445.9L117.9,441.3L125.2,437.1L127.9,441.5L130.7,445.7ZM117.0,455.2L113.7,450.4L110.7,445.4L117.9,441.3L120.8,445.9L123.9,450.4ZM110.1,459.9L106.6,454.8L103.4,449.6L110.7,445.4L113.7,450.4L117.0,455.2ZM103.2,464.7L99.5,459.3L96.1,453.7L103.4,449.6L106.6,454.8L110.1,459.9ZM219.9,383.3L219.7,383.0L219.6,382.7L227.2,379.2L227.2,379.2L227.2,379.2ZM212.6,387.5L212.3,386.8L212.0,386.2L219.6,382.7L219.7,383.0L219.9,383.3ZM205.3,391.6L204.8,390.7L204.3,389.7L212.0,386.2L212.3,386.8L212.6,387.5ZM198.1,395.8L197.4,394.5L196.7,393.2L204.3,389.7L204.8,390.7L205.3,391.6ZM183.5,404.0L182.4,402.1L181.5,400.2L189.1,396.7L189.9,398.3L190.8,399.9ZM176.2,408.2L175.0,406.0L173.8,403.7L181.5,400.2L182.4,402.1L183.5,404.0ZM168.9,412.3L167.5,409.8L166.2,407.2L173.8,403.7L175.0,406.0L176.2,408.2ZM161.6,416.5L160.1,413.6L158.6,410.7L166.2,407.2L167.5,409.8L168.9,412.3ZM154.4,420.6L152.6,417.4L151.0,414.2L158.6,410.7L160.1,413.6L161.6,416.5ZM117.9,441.3L115.3,436.5L112.9,431.7L120.5,428.2L122.7,432.7L125.2,437.1ZM110.7,445.4L107.8,440.4L105.2,435.2L112.9,431.7L115.3,436.5L117.9,441.3ZM219.6,382.7L219.4,382.4L219.3,382.0L227.2,379.2L227.2,379.2L227.2,379.2ZM212.0,386.2L211.7,385.5L211.4,384.9L219.3,382.0L219.4,382.4L219.6,382.7ZM204.3,389.7L203.9,388.7L203.5,387.7L211.4,384.9L211.7,385.5L212.0,386.2ZM196.7,393.2L196.1,391.9L195.6,390.5L203.5,387.7L203.9,388.7L204.3,389.7ZM181.5,400.2L180.6,398.2L179.8,396.2L187.7,393.4L188.3,395.0L189.1,396.7ZM151.0,414.2L149.5,410.9L148.2,407.5L156.1,404.7L157.3,407.7L158.6,410.7ZM143.3,417.7L141.7,414.0L140.3,410.3L148.2,407.5L149.5,410.9L151.0,414.2ZM128.1,424.7L126.2,420.4L124.4,416.0L132.4,413.2L133.9,417.2L135.7,421.2ZM120.5,428.2L118.4,423.5L116.5,418.8L124.4,416.0L126.2,420.4L128.1,424.7ZM219.3,382.0L219.2,381.7L219.1,381.3L227.2,379.2L227.2,379.2L227.2,379.2ZM211.4,384.9L211.2,384.2L211.0,383.5L219.1,381.3L219.2,381.7L219.3,382.0ZM203.5,387.7L203.1,386.7L202.8,385.6L211.0,383.5L211.2,384.2L211.4,384.9ZM148.2,407.5L147.0,404.1L146.0,400.6L154.1,398.5L155.0,401.6L156.1,404.7ZM140.3,410.3L139.0,406.6L137.8,402.8L146.0,400.6L147.0,404.1L148.2,407.5ZM132.4,413.2L130.9,409.1L129.7,404.9L137.8,402.8L139.0,406.6L140.3,410.3ZM124.4,416.0L122.9,411.6L121.6,407.1L129.7,404.9L130.9,409.1L132.4,413.2ZM219.1,381.3L219.0,381.0L218.9,380.6L227.2,379.2L227.2,379.2L227.2,379.2ZM211.0,383.5L210.8,382.8L210.6,382.1L218.9,380.6L219.0,381.0L219.1,381.3ZM202.8,385.6L202.6,384.6L202.4,383.5L210.6,382.1L210.8,382.8L211.0,383.5ZM113.5,409.2L112.2,404.3L111.2,399.3L119.5,397.9L120.4,402.5L121.6,407.1ZM105.3,411.3L104.0,406.1L103.0,400.8L111.2,399.3L112.2,404.3L113.5,409.2ZM97.2,413.5L95.8,407.9L94.7,402.2L103.0,400.8L104.0,406.1L105.3,411.3ZM89.1,415.6L87.6,409.7L86.4,403.6L94.7,402.2L95.8,407.9L97.2,413.5ZM81.0,417.8L79.4,411.4L78.1,405.1L86.4,403.6L87.6,409.7L89.1,415.6ZM218.9,380.6L218.9,380.3L218.8,379.9L227.2,379.2L227.2,379.2L227.2,379.2ZM210.6,382.1L210.5,381.4L210.4,380.6L218.8,379.9L218.9,380.3L218.9,380.6ZM202.4,383.5L202.2,382.4L202.1,381.4L210.4,380.6L210.5,381.4L210.6,382.1ZM218.8,379.9L218.8,379.6L218.8,379.2L227.2,379.2L227.2,379.2L227.2,379.2ZM210.4,380.6L210.4,379.9L210.4,379.2L218.8,379.2L218.8,379.6L218.8,379.9ZM202.1,381.4L202.0,380.3L202.0,379.2L210.4,379.2L210.4,379.9L210.4,380.6ZM218.8,379.2L218.8,378.8L218.8,378.5L227.2,379.2L227.2,379.2L227.2,379.2ZM210.4,379.2L210.4,378.5L210.4,377.8L218.8,378.5L218.8,378.8L218.8,379.2ZM202.0,379.2L202.0,378.1L202.1,377.0L210.4,377.8L210.4,378.5L210.4,379.2ZM218.8,378.5L218.9,378.1L218.9,377.8L227.2,379.2L227.2,379.2L227.2,379.2ZM210.4,377.8L210.5,377.0L210.6,376.3L218.9,377.8L218.9,378.1L218.8,378.5ZM202.1,377.0L202.2,376.0L202.4,374.9L210.6,376.3L210.5,377.0L210.4,377.8ZM218.9,377.8L219.0,377.4L219.1,377.1L227.2,379.2L227.2,379.2L227.2,379.2ZM210.6,376.3L210.8,375.6L211.0,374.9L219.1,377.1L219.0,377.4L218.9,377.8ZM202.4,374.9L202.6,373.8L202.8,372.8L211.0,374.9L210.8,375.6L210.6,376.3ZM219.1,377.1L219.2,376.7L219.3,376.4L227.2,379.2L227.2,379.2L227.2,379.2ZM211.0,374.9L211.2,374.2L211.4,373.5L219.3,376.4L219.2,376.7L219.1,377.1ZM219.3,376.4L219.4,376.0L219.6,375.7L227.2,379.2L227.2,379.2L227.2,379.2ZM211.4,373.5L211.7,372.9L212.0,372.2L219.6,375.7L219.4,376.0L219.3,376.4ZM219.6,375.7L219.7,375.4L219.9,375.1L227.2,379.2L227.2,379.2L227.2,379.2ZM212.0,372.2L212.3,371.6L212.6,370.9L219.9,375.1L219.7,375.4L219.6,375.7ZM219.9,375.1L220.1,374.8L220.3,374.5L227.2,379.2L227.2,379.2L227.2,379.2ZM212.6,370.9L213.0,370.3L213.4,369.7L220.3,374.5L220.1,374.8L219.9,375.1ZM220.3,374.5L220.5,374.2L220.8,373.9L227.2,379.2L227.2,379.2L227.2,379.2ZM213.4,369.7L213.9,369.1L214.3,368.6L220.8,373.9L220.5,374.2L220.3,374.5ZM137.6,317.5L140.5,313.7L143.4,310.0L149.9,315.3L147.1,318.7L144.5,322.2ZM123.9,308.0L127.1,303.6L130.6,299.4L137.0,304.7L133.8,308.7L130.7,312.7ZM117.0,303.2L120.4,298.6L124.1,294.1L130.6,299.4L127.1,303.6L123.9,308.0ZM110.1,298.5L113.8,293.5L117.7,288.7L124.1,294.1L120.4,298.6L117.0,303.2ZM220.8,373.9L221.0,373.6L221.3,373.3L227.2,379.2L227.2,379.2L227.2,379.2ZM214.3,368.6L214.8,368.0L215.3,367.5L221.3,373.3L221.0,373.6L220.8,373.9ZM207.9,363.2L208.6,362.4L209.4,361.6L215.3,367.5L214.8,368.0L214.3,368.6ZM143.4,310.0L146.6,306.5L149.9,303.1L155.8,309.0L152.8,312.1L149.9,315.3ZM117.7,288.7L121.8,284.1L126.1,279.7L132.0,285.5L128.0,289.7L124.1,294.1ZM111.2,283.4L115.6,278.5L120.1,273.8L126.1,279.7L121.8,284.1L117.7,288.7ZM221.3,373.3L221.5,373.1L221.8,372.9L227.2,379.2L227.2,379.2L227.2,379.2ZM215.3,367.5L215.8,367.0L216.4,366.5L221.8,372.9L221.5,373.1L221.3,373.3ZM209.4,361.6L210.2,360.9L211.0,360.2L216.4,366.5L215.8,367.0L215.3,367.5ZM149.9,303.1L153.3,299.9L156.9,296.8L162.3,303.1L159.0,306.0L155.8,309.0ZM126.1,279.7L130.6,275.4L135.3,271.4L140.7,277.7L136.3,281.6L132.0,285.5ZM120.1,273.8L124.9,269.3L129.9,265.1L135.3,271.4L130.6,275.4L126.1,279.7ZM221.8,372.9L222.1,372.6L222.4,372.4L227.2,379.2L227.2,379.2L227.2,379.2ZM216.4,366.5L217.0,366.1L217.6,365.6L222.4,372.4L222.1,372.6L221.8,372.9ZM211.0,360.2L211.8,359.5L212.7,358.9L217.6,365.6L217.0,366.1L216.4,366.5ZM151.5,290.4L155.5,287.3L159.7,284.3L164.5,291.1L160.6,293.8L156.9,296.8ZM140.7,277.7L145.3,274.1L150.0,270.7L154.8,277.5L150.4,280.7L146.1,284.1ZM135.3,271.4L140.2,267.6L145.2,263.9L150.0,270.7L145.3,274.1L140.7,277.7ZM222.4,372.4L222.7,372.2L223.0,372.0L227.2,379.2L227.2,379.2L227.2,379.2ZM217.6,365.6L218.2,365.2L218.8,364.9L223.0,372.0L222.7,372.2L222.4,372.4ZM212.7,358.9L213.6,358.3L214.6,357.7L218.8,364.9L218.2,365.2L217.6,365.6ZM214.6,357.7L215.5,357.2L216.5,356.7L220.1,364.2L219.4,364.5L218.8,364.9ZM197.8,329.0L200.0,327.8L202.3,326.7L205.9,334.2L203.9,335.1L202.0,336.2ZM193.6,321.8L196.1,320.5L198.8,319.2L202.3,326.7L200.0,327.8L197.8,329.0ZM180.9,300.3L184.5,298.4L188.1,296.7L191.7,304.2L188.4,305.8L185.1,307.5ZM216.5,356.7L217.5,356.3L218.6,355.9L221.4,363.6L220.8,363.9L220.1,364.2ZM213.0,349.2L214.3,348.6L215.7,348.1L218.6,355.9L217.5,356.3L216.5,356.7ZM209.4,341.7L211.1,341.0L212.8,340.3L215.7,348.1L214.3,348.6L213.0,349.2ZM188.1,296.7L191.8,295.1L195.6,293.6L198.4,301.4L195.0,302.7L191.7,304.2ZM218.6,355.9L219.6,355.5L220.7,355.2L222.8,363.2L222.1,363.4L221.4,363.6ZM215.7,348.1L217.1,347.6L218.5,347.2L220.7,355.2L219.6,355.5L218.6,355.9ZM212.8,340.3L214.6,339.7L216.3,339.2L218.5,347.2L217.1,347.6L215.7,348.1ZM209.9,332.5L212.0,331.8L214.1,331.2L216.3,339.2L214.6,339.7L212.8,340.3ZM207.1,324.8L209.5,323.9L212.0,323.2L214.1,331.2L212.0,331.8L209.9,332.5ZM220.7,355.2L221.7,355.0L222.8,354.7L224.3,362.9L223.6,363.0L222.8,363.2ZM218.5,347.2L219.9,346.9L221.4,346.6L222.8,354.7L221.7,355.0L220.7,355.2ZM216.3,339.2L218.1,338.8L219.9,338.4L221.4,346.6L219.9,346.9L218.5,347.2ZM212.0,323.2L214.5,322.6L217.0,322.1L218.4,330.3L216.3,330.7L214.1,331.2ZM222.8,354.7L223.9,354.6L225.0,354.5L225.7,362.7L225.0,362.8L224.3,362.9ZM221.4,346.6L222.8,346.4L224.3,346.2L225.0,354.5L223.9,354.6L222.8,354.7ZM219.9,338.4L221.7,338.2L223.5,338.0L224.3,346.2L222.8,346.4L221.4,346.6ZM217.0,322.1L219.5,321.8L222.1,321.5L222.8,329.7L220.6,330.0L218.4,330.3ZM200.9,232.5L207.4,231.5L214.0,230.8L214.7,239.0L208.5,239.7L202.4,240.6ZM225.0,354.5L226.1,354.4L227.2,354.4L227.2,362.6L226.5,362.7L225.7,362.7ZM224.3,346.2L225.7,346.1L227.2,346.1L227.2,354.4L226.1,354.4L225.0,354.5ZM223.5,338.0L225.4,337.9L227.2,337.8L227.2,346.1L225.7,346.1L224.3,346.2ZM222.1,321.5L224.6,321.3L227.2,321.3L227.2,329.5L225.0,329.6L222.8,329.7ZM217.7,272.0L222.4,271.7L227.2,271.6L227.2,279.9L222.8,280.0L218.4,280.2ZM216.9,263.8L222.1,263.4L227.2,263.3L227.2,271.6L222.4,271.7L217.7,272.0ZM216.2,255.5L221.7,255.2L227.2,255.0L227.2,263.3L222.1,263.4L216.9,263.8ZM215.5,247.3L221.3,246.9L227.2,246.8L227.2,255.0L221.7,255.2L216.2,255.5ZM214.7,239.0L221.0,238.6L227.2,238.5L227.2,246.8L221.3,246.9L215.5,247.3ZM214.0,230.8L220.6,230.3L227.2,230.2L227.2,238.5L221.0,238.6L214.7,239.0Z"/>
<path fill="#e0f3f8" stroke="#e0f3f8" stroke-width="0.4" d="M227.2,329.5L229.1,329.6L231.0,329.7L230.4,337.9L228.8,337.8L227.2,337.8ZM231.0,329.7L233.0,329.9L235.1,330.1L233.8,338.3L232.1,338.1L230.4,337.9ZM232.2,313.2L235.0,313.4L237.7,313.8L236.4,322.0L234.0,321.6L231.6,321.4ZM234.8,280.1L238.9,280.5L243.0,281.1L241.7,289.3L237.9,288.8L234.1,288.4ZM235.4,271.9L239.9,272.3L244.3,272.9L243.0,281.1L238.9,280.5L234.8,280.1ZM237.7,313.8L240.4,314.3L243.1,314.9L241.1,322.9L238.8,322.4L236.4,322.0ZM241.7,289.3L245.4,289.9L249.1,290.7L247.1,298.8L243.8,298.0L240.4,297.4ZM240.3,339.9L241.8,340.4L243.3,341.0L240.1,348.6L238.9,348.1L237.7,347.7ZM243.3,341.0L245.0,341.7L246.6,342.5L242.7,349.8L241.4,349.2L240.1,348.6ZM286.8,288.9L291.5,292.1L296.0,295.6L290.7,302.0L286.5,298.8L282.2,295.9ZM301.3,289.1L306.0,293.1L310.5,297.3L304.5,303.1L300.4,299.2L296.0,295.6ZM268.8,338.2L270.6,340.1L272.3,342.0L265.9,347.3L264.4,345.6L262.9,344.1ZM274.8,332.4L276.8,334.5L278.7,336.6L272.3,342.0L270.6,340.1L268.8,338.2ZM296.1,331.7L298.1,334.7L300.0,337.8L292.8,341.9L291.0,339.2L289.2,336.5ZM351.0,308.8L354.0,314.2L356.8,319.7L349.2,323.2L346.6,318.0L343.7,313.0ZM314.1,348.1L315.4,351.8L316.6,355.6L308.4,357.8L307.4,354.3L306.2,350.9ZM322.0,345.2L323.5,349.3L324.7,353.5L316.6,355.6L315.4,351.8L314.1,348.1ZM316.6,355.6L317.5,359.5L318.3,363.4L310.0,364.8L309.3,361.3L308.4,357.8ZM324.7,353.5L325.7,357.7L326.6,362.0L318.3,363.4L317.5,359.5L316.6,355.6ZM326.6,362.0L327.3,366.2L327.7,370.5L319.4,371.3L318.9,367.3L318.3,363.4ZM376.3,353.3L377.3,359.8L378.0,366.2L369.6,366.9L369.0,360.8L368.0,354.8ZM369.6,366.9L370.1,373.1L370.2,379.2L361.8,379.2L361.6,373.4L361.3,367.7ZM378.0,366.2L378.5,372.7L378.6,379.2L370.2,379.2L370.1,373.1L369.6,366.9ZM302.9,379.2L302.8,382.4L302.6,385.7L294.2,385.0L294.4,382.1L294.5,379.2ZM302.6,385.7L302.3,388.9L301.7,392.1L293.5,390.7L293.9,387.8L294.2,385.0ZM268.6,386.4L268.3,388.2L267.8,389.9L259.7,387.8L260.0,386.4L260.3,384.9ZM318.3,395.0L317.5,398.9L316.6,402.8L308.4,400.6L309.3,397.1L310.0,393.6ZM267.8,389.9L267.3,391.6L266.7,393.4L258.8,390.5L259.3,389.2L259.7,387.8ZM322.0,413.2L320.5,417.2L318.7,421.2L311.1,417.7L312.7,414.0L314.1,410.3ZM353.7,424.5L351.5,429.9L349.2,435.2L341.5,431.7L343.8,426.7L345.8,421.7ZM361.6,427.3L359.3,433.1L356.8,438.7L349.2,435.2L351.5,429.9L353.7,424.5ZM318.7,421.2L316.7,425.1L314.6,428.9L307.3,424.7L309.3,421.2L311.1,417.7ZM314.6,428.9L312.3,432.6L309.9,436.2L303.0,431.4L305.2,428.1L307.3,424.7ZM337.4,455.2L334.0,459.8L330.3,464.3L323.8,459.0L327.3,454.8L330.5,450.4ZM302.9,468.0L298.9,471.1L294.7,474.1L289.9,467.3L293.8,464.6L297.5,461.6ZM308.3,474.3L304.0,477.7L299.6,480.9L294.7,474.1L298.9,471.1L302.9,468.0ZM313.7,480.7L309.1,484.3L304.4,487.7L299.6,480.9L304.0,477.7L308.3,474.3ZM319.1,487.0L314.2,490.8L309.2,494.5L304.4,487.7L309.1,484.3L313.7,480.7ZM270.6,440.2L267.9,442.0L265.0,443.7L260.8,436.6L263.4,435.1L265.8,433.4ZM280.3,453.8L276.9,456.0L273.5,458.1L269.3,450.9L272.4,449.0L275.4,447.0ZM299.6,480.9L295.0,483.9L290.3,486.7L286.1,479.6L290.5,476.9L294.7,474.1ZM265.0,443.7L262.2,445.3L259.2,446.7L255.6,439.2L258.3,437.9L260.8,436.6ZM269.3,450.9L266.0,452.6L262.7,454.2L259.2,446.7L262.2,445.3L265.0,443.7ZM298.7,501.1L293.2,504.0L287.6,506.7L284.1,499.2L289.3,496.7L294.5,493.9ZM302.9,508.2L297.1,511.4L291.2,514.2L287.6,506.7L293.2,504.0L298.7,501.1ZM266.3,461.7L262.6,463.3L258.8,464.8L256.0,457.0L259.4,455.7L262.7,454.2ZM273.4,476.7L269.0,478.6L264.6,480.3L261.7,472.5L265.8,471.0L269.9,469.2ZM284.1,499.2L278.7,501.6L273.2,503.7L270.4,495.9L275.5,493.9L280.5,491.7ZM287.6,506.7L281.9,509.2L276.1,511.4L273.2,503.7L278.7,501.6L284.1,499.2ZM291.2,514.2L285.1,516.9L279.0,519.2L276.1,511.4L281.9,509.2L287.6,506.7ZM235.8,402.5L234.8,402.9L233.7,403.2L231.6,395.2L232.3,395.0L233.0,394.8ZM233.7,403.2L232.7,403.4L231.6,403.7L230.1,395.5L230.8,395.4L231.6,395.2ZM231.6,403.7L230.5,403.8L229.4,403.9L228.7,395.7L229.4,395.6L230.1,395.5ZM246.2,485.2L241.5,485.9L236.7,486.4L236.0,478.2L240.4,477.7L244.7,477.0ZM239.7,519.4L233.4,519.8L227.2,519.9L227.2,511.6L233.1,511.5L238.9,511.1ZM240.4,527.6L233.8,528.1L227.2,528.2L227.2,519.9L233.4,519.8L239.7,519.4ZM227.2,453.7L223.9,453.6L220.6,453.4L221.3,445.2L224.3,445.4L227.2,445.4ZM220.6,453.4L217.3,453.1L214.1,452.6L215.5,444.4L218.4,444.9L221.3,445.2ZM181.2,503.7L175.7,501.6L170.3,499.2L173.9,491.7L178.9,493.9L184.0,495.9ZM189.4,423.6L187.4,421.9L185.6,420.2L191.5,414.3L193.1,415.8L194.8,417.2ZM183.9,429.9L181.7,428.0L179.6,426.0L185.6,420.2L187.4,421.9L189.4,423.6ZM185.6,420.2L183.8,418.3L182.1,416.4L188.5,411.1L190.0,412.8L191.5,414.3ZM179.6,426.0L177.6,423.9L175.7,421.8L182.1,416.4L183.8,418.3L185.6,420.2ZM143.9,461.1L140.4,457.5L137.0,453.7L143.4,448.4L146.6,451.9L149.9,455.3ZM138.0,467.0L134.2,463.1L130.6,459.0L137.0,453.7L140.4,457.5L143.9,461.1ZM120.1,484.6L115.6,479.9L111.2,475.0L117.7,469.7L121.8,474.3L126.1,478.7ZM149.9,443.1L147.1,439.7L144.5,436.2L151.4,431.4L153.8,434.6L156.3,437.7ZM143.4,448.4L140.5,444.7L137.6,440.9L144.5,436.2L147.1,439.7L149.9,443.1ZM130.6,459.0L127.1,454.8L123.9,450.4L130.7,445.7L133.8,449.7L137.0,453.7ZM158.3,426.7L156.3,423.7L154.4,420.6L161.6,416.5L163.4,419.2L165.2,421.9ZM166.2,407.2L165.0,404.5L164.0,401.8L171.9,399.0L172.8,401.4L173.8,403.7ZM90.0,442.2L87.3,436.2L84.9,430.2L92.8,427.3L95.1,433.1L97.6,438.7ZM171.9,399.0L171.0,396.6L170.3,394.2L178.5,392.1L179.1,394.1L179.8,396.2ZM164.0,401.8L163.0,399.1L162.2,396.3L170.3,394.2L171.0,396.6L171.9,399.0ZM170.3,394.2L169.7,391.7L169.2,389.3L177.5,387.8L177.9,389.9L178.5,392.1ZM169.2,389.3L168.8,386.8L168.5,384.3L176.9,383.5L177.2,385.7L177.5,387.8ZM160.9,390.7L160.5,387.8L160.2,385.0L168.5,384.3L168.8,386.8L169.2,389.3ZM176.7,379.2L176.8,377.0L176.9,374.9L185.3,375.6L185.2,377.4L185.1,379.2ZM109.9,369.1L110.5,364.1L111.2,359.1L119.5,360.5L118.8,365.2L118.3,369.8ZM84.8,366.9L85.4,360.8L86.4,354.8L94.7,356.2L93.8,361.9L93.1,367.7ZM144.4,364.8L145.1,361.3L146.0,357.8L154.1,359.9L153.3,363.1L152.7,366.3ZM86.4,354.8L87.6,348.7L89.1,342.8L97.2,344.9L95.8,350.5L94.7,356.2ZM121.6,351.3L122.9,346.8L124.4,342.4L132.4,345.2L130.9,349.3L129.7,353.5ZM89.1,342.8L90.8,336.9L92.8,331.1L100.7,333.9L98.9,339.4L97.2,344.9ZM132.4,345.2L133.9,341.2L135.7,337.2L143.3,340.7L141.7,344.4L140.3,348.1ZM196.7,365.2L197.4,363.9L198.1,362.6L205.3,366.8L204.8,367.7L204.3,368.7ZM135.7,337.2L137.7,333.3L139.8,329.5L147.1,333.7L145.1,337.2L143.3,340.7ZM112.9,326.7L115.3,321.9L117.9,317.1L125.2,321.3L122.7,325.7L120.5,330.2ZM198.1,362.6L198.8,361.4L199.6,360.2L206.5,365.0L205.9,365.9L205.3,366.8ZM139.8,329.5L142.1,325.8L144.5,322.2L151.4,327.0L149.2,330.3L147.1,333.7ZM117.9,317.1L120.8,312.5L123.9,308.0L130.7,312.7L127.9,316.9L125.2,321.3ZM199.6,360.2L200.5,359.0L201.4,357.9L207.9,363.2L207.2,364.1L206.5,365.0ZM151.4,327.0L153.8,323.8L156.3,320.7L162.8,326.0L160.5,328.8L158.3,331.7ZM144.5,322.2L147.1,318.7L149.9,315.3L156.3,320.7L153.8,323.8L151.4,327.0ZM201.4,357.9L202.4,356.8L203.4,355.8L209.4,361.6L208.6,362.4L207.9,363.2ZM185.6,338.2L187.4,336.5L189.4,334.8L194.8,341.2L193.1,342.6L191.5,344.1ZM194.8,341.2L196.5,339.8L198.3,338.5L203.1,345.3L201.6,346.4L200.2,347.5ZM150.0,270.7L154.9,267.5L159.9,264.5L164.1,271.7L159.4,274.5L154.8,277.5ZM145.2,263.9L150.4,260.5L155.7,257.3L159.9,264.5L154.9,267.5L150.0,270.7ZM159.9,264.5L165.1,261.7L170.3,259.2L173.9,266.7L168.9,269.1L164.1,271.7ZM173.9,266.7L178.9,264.5L184.0,262.5L186.9,270.3L182.1,272.1L177.4,274.2ZM170.3,259.2L175.7,256.8L181.2,254.7L184.0,262.5L178.9,264.5L173.9,266.7ZM166.8,251.7L172.5,249.2L178.3,247.0L181.2,254.7L175.7,256.8L170.3,259.2ZM163.2,244.2L169.3,241.5L175.4,239.2L178.3,247.0L172.5,249.2L166.8,251.7ZM198.4,301.4L201.9,300.3L205.4,299.2L207.6,307.2L204.4,308.1L201.3,309.2ZM218.4,330.3L220.6,330.0L222.8,329.7L223.5,338.0L221.7,338.2L219.9,338.4ZM222.8,329.7L225.0,329.6L227.2,329.5L227.2,337.8L225.4,337.9L223.5,338.0Z"/>
<path fill="#f0eac6" stroke="#f0eac6" stroke-width="0.4" d="M227.2,321.3L229.4,321.3L231.6,321.4L231.0,329.7L229.1,329.6L227.2,329.5ZM227.2,230.2L232.9,230.3L238.6,230.6L237.9,238.9L232.6,238.6L227.2,238.5ZM233.8,338.3L235.5,338.6L237.2,339.0L235.2,347.0L233.8,346.7L232.5,346.5ZM237.2,339.0L238.7,339.4L240.3,339.9L237.7,347.7L236.4,347.4L235.2,347.0ZM271.6,245.4L276.8,247.2L281.9,249.2L278.7,256.8L273.9,255.0L269.0,253.3ZM274.2,237.6L279.7,239.5L285.1,241.5L281.9,249.2L276.8,247.2L271.6,245.4ZM269.9,298.4L273.8,300.5L277.6,302.8L273.0,309.8L269.6,307.7L266.0,305.8ZM273.8,291.1L278.0,293.4L282.2,295.9L277.6,302.8L273.8,300.5L269.9,298.4ZM296.0,295.6L300.4,299.2L304.5,303.1L298.6,309.0L294.7,305.4L290.7,302.0ZM303.0,327.0L305.2,330.3L307.3,333.7L300.0,337.8L298.1,334.7L296.1,331.7ZM351.2,293.7L354.9,299.1L358.3,304.7L351.0,308.8L347.8,303.6L344.3,298.5ZM321.9,325.4L324.2,329.5L326.3,333.7L318.7,337.2L316.7,333.3L314.6,329.5ZM311.1,340.7L312.7,344.4L314.1,348.1L306.2,350.9L304.9,347.5L303.4,344.2ZM341.5,326.7L343.8,331.7L345.8,336.7L337.9,339.6L336.0,334.9L333.9,330.2ZM266.7,365.0L267.3,366.8L267.8,368.5L259.7,370.6L259.3,369.2L258.8,367.9ZM267.8,368.5L268.3,370.2L268.6,372.0L260.3,373.5L260.0,372.0L259.7,370.6ZM268.6,372.0L268.9,373.8L269.1,375.6L260.7,376.3L260.6,374.9L260.3,373.5ZM334.9,360.5L335.6,365.2L336.1,369.8L327.7,370.5L327.3,366.2L326.6,362.0ZM343.2,359.1L343.9,364.1L344.5,369.1L336.1,369.8L335.6,365.2L334.9,360.5ZM269.1,375.6L269.2,377.4L269.3,379.2L260.8,379.2L260.8,377.8L260.7,376.3ZM361.3,367.7L361.6,373.4L361.8,379.2L353.4,379.2L353.2,373.8L352.9,368.4ZM370.2,379.2L370.1,385.3L369.6,391.5L361.3,390.7L361.6,385.0L361.8,379.2ZM352.9,390.0L352.3,395.4L351.4,400.8L343.2,399.3L343.9,394.3L344.5,389.3ZM301.7,392.1L301.1,395.3L300.3,398.5L292.2,396.3L292.9,393.5L293.5,390.7ZM310.0,393.6L309.3,397.1L308.4,400.6L300.3,398.5L301.1,395.3L301.7,392.1ZM326.6,396.4L325.7,400.7L324.7,404.9L316.6,402.8L317.5,398.9L318.3,395.0ZM324.7,404.9L323.5,409.1L322.0,413.2L314.1,410.3L315.4,406.6L316.6,402.8ZM345.8,421.7L343.8,426.7L341.5,431.7L333.9,428.2L336.0,423.5L337.9,418.8ZM288.2,407.2L286.9,409.8L285.5,412.3L278.2,408.2L279.4,406.0L280.6,403.7ZM285.5,412.3L284.0,414.8L282.3,417.2L275.4,412.4L276.9,410.3L278.2,408.2ZM329.2,437.1L326.5,441.5L323.7,445.7L316.8,440.9L319.4,437.0L321.9,433.0ZM275.9,436.3L273.3,438.3L270.6,440.2L265.8,433.4L268.2,431.7L270.5,429.9ZM324.5,493.3L319.4,497.4L314.0,501.3L309.2,494.5L314.2,490.8L319.1,487.0ZM304.4,487.7L299.5,490.9L294.5,493.9L290.3,486.7L295.0,483.9L299.6,480.9ZM309.2,494.5L304.0,497.9L298.7,501.1L294.5,493.9L299.5,490.9L304.4,487.7ZM252.4,422.2L250.5,423.3L248.5,424.2L245.0,416.7L246.6,415.9L248.2,415.0ZM248.5,424.2L246.5,425.1L244.5,425.9L241.6,418.1L243.3,417.4L245.0,416.7ZM269.9,469.2L265.8,471.0L261.7,472.5L258.8,464.8L262.6,463.3L266.3,461.7ZM261.7,472.5L257.6,473.9L253.3,475.1L251.1,467.2L255.0,466.0L258.8,464.8ZM264.6,480.3L260.1,481.8L255.5,483.1L253.3,475.1L257.6,473.9L261.7,472.5ZM253.3,475.1L249.0,476.2L244.7,477.0L243.3,468.9L247.2,468.1L251.1,467.2ZM237.5,494.6L232.3,495.0L227.2,495.1L227.2,486.8L232.0,486.7L236.7,486.4ZM209.7,477.0L205.4,476.2L201.1,475.1L203.3,467.2L207.2,468.1L211.1,468.9ZM212.8,418.1L211.1,417.4L209.4,416.7L213.0,409.2L214.3,409.8L215.7,410.3ZM204.2,441.4L201.4,440.4L198.8,439.2L202.3,431.7L204.7,432.7L207.1,433.6ZM209.4,416.7L207.8,415.9L206.2,415.0L210.4,407.9L211.7,408.6L213.0,409.2ZM156.9,461.6L153.3,458.5L149.9,455.3L155.8,449.4L159.0,452.4L162.3,455.3ZM161.8,443.6L159.0,440.7L156.3,437.7L162.8,432.4L165.2,435.1L167.7,437.7ZM132.0,472.9L128.0,468.7L124.1,464.3L130.6,459.0L134.2,463.1L138.0,467.0ZM156.3,437.7L153.8,434.6L151.4,431.4L158.3,426.7L160.5,429.6L162.8,432.4ZM137.0,453.7L133.8,449.7L130.7,445.7L137.6,440.9L140.5,444.7L143.4,448.4ZM151.4,431.4L149.2,428.1L147.1,424.7L154.4,420.6L156.3,423.7L158.3,426.7ZM144.5,436.2L142.1,432.6L139.8,428.9L147.1,424.7L149.2,428.1L151.4,431.4ZM147.1,424.7L145.1,421.2L143.3,417.7L151.0,414.2L152.6,417.4L154.4,420.6ZM105.2,435.2L102.9,429.9L100.7,424.5L108.6,421.7L110.6,426.7L112.9,431.7ZM179.8,396.2L179.1,394.1L178.5,392.1L186.6,389.9L187.1,391.6L187.7,393.4ZM178.5,392.1L177.9,389.9L177.5,387.8L185.8,386.4L186.1,388.2L186.6,389.9ZM185.8,386.4L185.5,384.6L185.3,382.8L193.7,382.1L193.8,383.5L194.1,384.9ZM177.5,387.8L177.2,385.7L176.9,383.5L185.3,382.8L185.5,384.6L185.8,386.4ZM152.7,392.1L152.1,388.9L151.8,385.7L160.2,385.0L160.5,387.8L160.9,390.7ZM127.8,396.4L127.1,392.2L126.7,387.9L135.0,387.1L135.5,391.1L136.1,395.0ZM185.3,382.8L185.2,381.0L185.1,379.2L193.6,379.2L193.6,380.6L193.7,382.1ZM176.9,383.5L176.8,381.4L176.7,379.2L185.1,379.2L185.2,381.0L185.3,382.8ZM109.9,389.3L109.6,384.3L109.4,379.2L117.9,379.2L118.0,383.9L118.3,388.6ZM185.1,379.2L185.2,377.4L185.3,375.6L193.7,376.3L193.6,377.8L193.6,379.2ZM143.1,379.2L143.2,375.6L143.4,372.0L151.8,372.7L151.6,376.0L151.5,379.2ZM185.3,375.6L185.5,373.8L185.8,372.0L194.1,373.5L193.8,374.9L193.7,376.3ZM76.4,366.2L77.1,359.8L78.1,353.3L86.4,354.8L85.4,360.8L84.8,366.9ZM185.8,372.0L186.1,370.2L186.6,368.5L194.7,370.6L194.4,372.0L194.1,373.5ZM119.5,360.5L120.4,355.9L121.6,351.3L129.7,353.5L128.7,357.7L127.8,362.0ZM78.1,353.3L79.4,347.0L81.0,340.6L89.1,342.8L87.6,348.7L86.4,354.8ZM194.7,370.6L195.1,369.2L195.6,367.9L203.5,370.7L203.1,371.7L202.8,372.8ZM129.7,353.5L130.9,349.3L132.4,345.2L140.3,348.1L139.0,351.8L137.8,355.6ZM81.0,340.6L82.8,334.4L84.9,328.2L92.8,331.1L90.8,336.9L89.1,342.8ZM195.6,367.9L196.1,366.5L196.7,365.2L204.3,368.7L203.9,369.7L203.5,370.7ZM156.1,353.7L157.3,350.7L158.6,347.7L166.2,351.2L165.0,353.9L164.0,356.6ZM140.3,348.1L141.7,344.4L143.3,340.7L151.0,344.2L149.5,347.5L148.2,350.9ZM100.7,333.9L102.9,328.5L105.2,323.2L112.9,326.7L110.6,331.7L108.6,336.7ZM189.1,361.7L189.9,360.1L190.8,358.5L198.1,362.6L197.4,363.9L196.7,365.2ZM173.8,354.7L175.0,352.4L176.2,350.2L183.5,354.4L182.4,356.3L181.5,358.2ZM166.2,351.2L167.5,348.6L168.9,346.1L176.2,350.2L175.0,352.4L173.8,354.7ZM143.3,340.7L145.1,337.2L147.1,333.7L154.4,337.8L152.6,341.0L151.0,344.2ZM105.2,323.2L107.8,318.0L110.7,313.0L117.9,317.1L115.3,321.9L112.9,326.7ZM205.3,366.8L205.9,365.9L206.5,365.0L213.4,369.7L213.0,370.3L212.6,370.9ZM190.8,358.5L191.7,357.0L192.8,355.5L199.6,360.2L198.8,361.4L198.1,362.6ZM176.2,350.2L177.5,348.1L179.0,346.0L185.9,350.7L184.6,352.5L183.5,354.4ZM168.9,346.1L170.4,343.6L172.1,341.2L179.0,346.0L177.5,348.1L176.2,350.2ZM161.6,341.9L163.4,339.2L165.2,336.5L172.1,341.2L170.4,343.6L168.9,346.1ZM154.4,337.8L156.3,334.7L158.3,331.7L165.2,336.5L163.4,339.2L161.6,341.9ZM206.5,365.0L207.2,364.1L207.9,363.2L214.3,368.6L213.9,369.1L213.4,369.7ZM192.8,355.5L193.8,354.0L195.0,352.6L201.4,357.9L200.5,359.0L199.6,360.2ZM185.9,350.7L187.2,349.0L188.5,347.3L195.0,352.6L193.8,354.0L192.8,355.5ZM179.0,346.0L180.5,343.9L182.1,342.0L188.5,347.3L187.2,349.0L185.9,350.7ZM172.1,341.2L173.8,338.9L175.7,336.6L182.1,342.0L180.5,343.9L179.0,346.0ZM158.3,331.7L160.5,328.8L162.8,326.0L169.2,331.3L167.1,333.8L165.2,336.5ZM195.0,352.6L196.2,351.2L197.5,349.9L203.4,355.8L202.4,356.8L201.4,357.9ZM188.5,347.3L190.0,345.6L191.5,344.1L197.5,349.9L196.2,351.2L195.0,352.6ZM182.1,342.0L183.8,340.1L185.6,338.2L191.5,344.1L190.0,345.6L188.5,347.3ZM149.9,315.3L152.8,312.1L155.8,309.0L161.8,314.8L159.0,317.7L156.3,320.7ZM203.4,355.8L204.5,354.8L205.6,353.8L211.0,360.2L210.2,360.9L209.4,361.6ZM197.5,349.9L198.8,348.7L200.2,347.5L205.6,353.8L204.5,354.8L203.4,355.8ZM191.5,344.1L193.1,342.6L194.8,341.2L200.2,347.5L198.8,348.7L197.5,349.9ZM173.7,326.5L176.1,324.3L178.5,322.1L183.9,328.5L181.7,330.4L179.6,332.4ZM200.2,347.5L201.6,346.4L203.1,345.3L207.9,352.1L206.7,352.9L205.6,353.8ZM183.9,328.5L186.2,326.7L188.6,325.0L193.4,331.7L191.4,333.2L189.4,334.8ZM203.1,345.3L204.6,344.3L206.2,343.4L210.4,350.5L209.1,351.3L207.9,352.1ZM164.5,291.1L168.4,288.4L172.5,286.0L176.7,293.2L173.0,295.4L169.3,297.8ZM206.2,343.4L207.8,342.5L209.4,341.7L213.0,349.2L211.7,349.8L210.4,350.5ZM202.0,336.2L203.9,335.1L205.9,334.2L209.4,341.7L207.8,342.5L206.2,343.4ZM164.1,271.7L168.9,269.1L173.9,266.7L177.4,274.2L172.8,276.4L168.3,278.8ZM177.4,274.2L182.1,272.1L186.9,270.3L189.8,278.1L185.4,279.8L181.0,281.7ZM186.9,270.3L191.8,268.7L196.7,267.3L198.9,275.3L194.3,276.6L189.8,278.1ZM198.9,275.3L203.5,274.1L208.2,273.2L209.7,281.4L205.4,282.2L201.1,283.3Z"/>
<path fill="#abd9e9" stroke="#abd9e9" stroke-width="0.4" d="M227.2,313.0L229.7,313.0L232.2,313.2L231.6,321.4L229.4,321.3L227.2,321.3ZM227.2,304.7L230.0,304.8L232.9,304.9L232.2,313.2L229.7,313.0L227.2,313.0ZM231.6,321.4L234.0,321.6L236.4,322.0L235.1,330.1L233.0,329.9L231.0,329.7ZM236.4,322.0L238.8,322.4L241.1,322.9L239.2,330.9L237.1,330.5L235.1,330.1ZM243.0,281.1L247.1,281.8L251.1,282.7L249.1,290.7L245.4,289.9L241.7,289.3ZM256.2,310.4L259.2,311.7L262.2,313.1L258.3,320.5L255.6,319.2L253.0,318.0ZM266.0,305.8L269.6,307.7L273.0,309.8L268.4,316.7L265.3,314.8L262.2,313.1ZM246.5,363.2L247.2,364.1L247.9,365.0L241.0,369.7L240.5,369.1L240.1,368.6ZM247.9,365.0L248.5,365.9L249.1,366.8L241.8,370.9L241.4,370.3L241.0,369.7ZM329.2,321.3L331.7,325.7L333.9,330.2L326.3,333.7L324.2,329.5L321.9,325.4ZM343.7,313.0L346.6,318.0L349.2,323.2L341.5,326.7L339.1,321.9L336.5,317.1ZM333.9,330.2L336.0,334.9L337.9,339.6L330.0,342.4L328.2,338.0L326.3,333.7ZM274.6,362.2L275.3,364.3L275.9,366.3L267.8,368.5L267.3,366.8L266.7,365.0ZM275.9,366.3L276.5,368.5L276.9,370.6L268.6,372.0L268.3,370.2L267.8,368.5ZM378.6,379.2L378.5,385.7L378.0,392.2L369.6,391.5L370.1,385.3L370.2,379.2ZM306.2,407.5L304.9,410.9L303.4,414.2L295.8,410.7L297.1,407.7L298.3,404.7ZM369.5,430.2L367.1,436.2L364.4,442.2L356.8,438.7L359.3,433.1L361.6,427.3ZM303.4,414.2L301.8,417.4L300.0,420.6L292.8,416.4L294.3,413.6L295.8,410.7ZM321.9,433.0L319.4,437.0L316.8,440.9L309.9,436.2L312.3,432.6L314.6,428.9ZM344.3,459.9L340.6,464.9L336.7,469.7L330.3,464.3L334.0,459.8L337.4,455.2ZM285.2,427.1L283.0,429.5L280.7,431.9L274.8,426.0L276.8,423.9L278.7,421.8ZM280.7,431.9L278.3,434.1L275.9,436.3L270.5,429.9L272.7,428.0L274.8,426.0ZM285.1,460.6L281.4,463.0L277.7,465.2L273.5,458.1L276.9,456.0L280.3,453.8ZM294.7,474.1L290.5,476.9L286.1,479.6L281.9,472.4L286.0,470.0L289.9,467.3ZM273.5,458.1L269.9,460.0L266.3,461.7L262.7,454.2L266.0,452.6L269.3,450.9ZM277.7,465.2L273.8,467.3L269.9,469.2L266.3,461.7L269.9,460.0L273.5,458.1ZM294.5,493.9L289.3,496.7L284.1,499.2L280.5,491.7L285.5,489.3L290.3,486.7ZM277.0,484.2L272.3,486.3L267.5,488.1L264.6,480.3L269.0,478.6L273.4,476.7ZM280.5,491.7L275.5,493.9L270.4,495.9L267.5,488.1L272.3,486.3L277.0,484.2ZM255.5,483.1L250.9,484.3L246.2,485.2L244.7,477.0L249.0,476.2L253.3,475.1ZM230.1,395.5L229.4,395.6L228.7,395.7L227.9,387.4L228.3,387.4L228.7,387.4ZM228.7,395.7L227.9,395.7L227.2,395.8L227.2,387.5L227.6,387.5L227.9,387.4ZM238.9,511.1L233.1,511.5L227.2,511.6L227.2,503.4L232.7,503.2L238.2,502.9ZM227.2,395.8L226.5,395.7L225.7,395.7L226.5,387.4L226.8,387.5L227.2,387.5ZM225.7,395.7L225.0,395.6L224.3,395.5L225.7,387.4L226.1,387.4L226.5,387.4ZM224.3,395.5L223.6,395.4L222.8,395.2L225.0,387.2L225.4,387.3L225.7,387.4ZM211.1,468.9L207.2,468.1L203.3,467.2L205.4,459.2L209.0,460.0L212.6,460.7ZM215.7,410.3L214.3,409.8L213.0,409.2L216.5,401.7L217.5,402.1L218.6,402.5ZM186.9,488.1L182.1,486.3L177.4,484.2L181.0,476.7L185.4,478.6L189.8,480.3ZM213.0,409.2L211.7,408.6L210.4,407.9L214.6,400.7L215.5,401.2L216.5,401.7ZM210.4,407.9L209.1,407.1L207.9,406.3L212.7,399.5L213.6,400.1L214.6,400.7ZM167.7,449.0L164.7,446.3L161.8,443.6L167.7,437.7L170.4,440.2L173.1,442.6ZM162.3,455.3L159.0,452.4L155.8,449.4L161.8,443.6L164.7,446.3L167.7,449.0ZM124.1,464.3L120.4,459.8L117.0,455.2L123.9,450.4L127.1,454.8L130.6,459.0ZM111.2,475.0L107.1,469.9L103.2,464.7L110.1,459.9L113.8,464.9L117.7,469.7ZM97.6,438.7L95.1,433.1L92.8,427.3L100.7,424.5L102.9,429.9L105.2,435.2ZM154.1,398.5L153.3,395.3L152.7,392.1L160.9,390.7L161.5,393.5L162.2,396.3ZM194.1,384.9L193.8,383.5L193.7,382.1L202.1,381.4L202.2,382.4L202.4,383.5ZM193.7,382.1L193.6,380.6L193.6,379.2L202.0,379.2L202.0,380.3L202.1,381.4ZM168.5,384.3L168.4,381.7L168.3,379.2L176.7,379.2L176.8,381.4L176.9,383.5ZM151.8,385.7L151.6,382.4L151.5,379.2L159.9,379.2L160.0,382.1L160.2,385.0ZM126.7,387.9L126.4,383.5L126.3,379.2L134.7,379.2L134.8,383.2L135.0,387.1ZM93.1,367.7L93.8,361.9L94.7,356.2L103.0,357.6L102.1,363.0L101.5,368.4ZM136.1,363.4L136.9,359.5L137.8,355.6L146.0,357.8L145.1,361.3L144.4,364.8ZM94.7,356.2L95.8,350.5L97.2,344.9L105.3,347.1L104.0,352.3L103.0,357.6ZM202.8,372.8L203.1,371.7L203.5,370.7L211.4,373.5L211.2,374.2L211.0,374.9ZM186.6,368.5L187.1,366.8L187.7,365.0L195.6,367.9L195.1,369.2L194.7,370.6ZM146.0,357.8L147.0,354.3L148.2,350.9L156.1,353.7L155.0,356.8L154.1,359.9ZM137.8,355.6L139.0,351.8L140.3,348.1L148.2,350.9L147.0,354.3L146.0,357.8ZM97.2,344.9L98.9,339.4L100.7,333.9L108.6,336.7L106.9,341.9L105.3,347.1ZM203.5,370.7L203.9,369.7L204.3,368.7L212.0,372.2L211.7,372.9L211.4,373.5ZM187.7,365.0L188.3,363.4L189.1,361.7L196.7,365.2L196.1,366.5L195.6,367.9ZM148.2,350.9L149.5,347.5L151.0,344.2L158.6,347.7L157.3,350.7L156.1,353.7ZM124.4,342.4L126.2,338.0L128.1,333.7L135.7,337.2L133.9,341.2L132.4,345.2ZM116.5,339.6L118.4,334.9L120.5,330.2L128.1,333.7L126.2,338.0L124.4,342.4ZM108.6,336.7L110.6,331.7L112.9,326.7L120.5,330.2L118.4,334.9L116.5,339.6ZM204.3,368.7L204.8,367.7L205.3,366.8L212.6,370.9L212.3,371.6L212.0,372.2ZM151.0,344.2L152.6,341.0L154.4,337.8L161.6,341.9L160.1,344.8L158.6,347.7ZM165.2,336.5L167.1,333.8L169.2,331.3L175.7,336.6L173.8,338.9L172.1,341.2ZM175.7,336.6L177.6,334.5L179.6,332.4L185.6,338.2L183.8,340.1L182.1,342.0ZM179.6,332.4L181.7,330.4L183.9,328.5L189.4,334.8L187.4,336.5L185.6,338.2ZM189.4,334.8L191.4,333.2L193.4,331.7L198.3,338.5L196.5,339.8L194.8,341.2ZM140.4,257.1L145.9,253.5L151.5,250.2L155.7,257.3L150.4,260.5L145.2,263.9ZM155.7,257.3L161.2,254.4L166.8,251.7L170.3,259.2L165.1,261.7L159.9,264.5ZM151.5,250.2L157.3,247.0L163.2,244.2L166.8,251.7L161.2,254.4L155.7,257.3ZM205.4,299.2L209.0,298.4L212.6,297.7L214.1,305.8L210.8,306.5L207.6,307.2ZM212.6,297.7L216.2,297.1L219.9,296.7L220.6,305.0L217.3,305.3L214.1,305.8ZM211.1,289.5L215.1,288.9L219.1,288.5L219.9,296.7L216.2,297.1L212.6,297.7Z"/>
<path fill="#fdae61" stroke="#fdae61" stroke-width="0.4" d="M227.2,296.4L230.4,296.5L233.5,296.7L232.9,304.9L230.0,304.8L227.2,304.7ZM227.2,288.1L230.7,288.2L234.1,288.4L233.5,296.7L230.4,296.5L227.2,296.4ZM227.2,279.9L231.0,279.9L234.8,280.1L234.1,288.4L230.7,288.2L227.2,288.1ZM227.2,271.6L231.3,271.7L235.4,271.9L234.8,280.1L231.0,279.9L227.2,279.9ZM227.2,263.3L231.6,263.4L236.0,263.6L235.4,271.9L231.3,271.7L227.2,271.6ZM227.2,255.0L231.9,255.1L236.7,255.4L236.0,263.6L231.6,263.4L227.2,263.3ZM227.2,246.8L232.2,246.8L237.3,247.1L236.7,255.4L231.9,255.1L227.2,255.0ZM227.2,238.5L232.6,238.6L237.9,238.9L237.3,247.1L232.2,246.8L227.2,246.8ZM232.9,304.9L236.0,305.2L239.0,305.6L237.7,313.8L235.0,313.4L232.2,313.2ZM233.5,296.7L236.9,297.0L240.4,297.4L239.0,305.6L236.0,305.2L232.9,304.9ZM234.1,288.4L237.9,288.8L241.7,289.3L240.4,297.4L236.9,297.0L233.5,296.7ZM236.0,263.6L240.8,264.1L245.6,264.7L244.3,272.9L239.9,272.3L235.4,271.9ZM236.7,255.4L241.8,255.9L246.9,256.6L245.6,264.7L240.8,264.1L236.0,263.6ZM238.6,230.6L244.7,231.2L250.9,232.0L249.6,240.2L243.8,239.4L237.9,238.9ZM239.0,305.6L242.1,306.2L245.1,306.8L243.1,314.9L240.4,314.3L237.7,313.8ZM240.4,297.4L243.8,298.0L247.1,298.8L245.1,306.8L242.1,306.2L239.0,305.6ZM244.3,272.9L248.7,273.7L253.1,274.7L251.1,282.7L247.1,281.8L243.0,281.1ZM251.1,282.7L254.9,283.7L258.6,284.8L255.9,292.7L252.5,291.6L249.1,290.7ZM253.1,274.7L257.2,275.7L261.2,276.9L258.6,284.8L254.9,283.7L251.1,282.7ZM242.9,332.0L244.7,332.6L246.5,333.3L243.3,341.0L241.8,340.4L240.3,339.9ZM261.2,276.9L265.1,278.3L269.0,279.8L265.8,287.4L262.2,286.0L258.6,284.8ZM246.5,333.3L248.5,334.2L250.5,335.1L246.6,342.5L245.0,341.7L243.3,341.0ZM265.8,287.4L269.9,289.2L273.8,291.1L269.9,298.4L266.3,296.7L262.6,295.1ZM281.9,249.2L287.6,251.7L293.2,254.4L289.3,261.7L284.1,259.2L278.7,256.8ZM285.1,241.5L291.2,244.2L297.1,247.0L293.2,254.4L287.6,251.7L281.9,249.2ZM246.6,342.5L248.4,343.4L250.1,344.5L245.5,351.4L244.1,350.6L242.7,349.8ZM250.5,335.1L252.6,336.3L254.7,337.5L250.1,344.5L248.4,343.4L246.6,342.5ZM254.4,327.8L256.9,329.1L259.3,330.6L254.7,337.5L252.6,336.3L250.5,335.1ZM258.3,320.5L261.1,322.0L263.8,323.7L259.3,330.6L256.9,329.1L254.4,327.8ZM262.2,313.1L265.3,314.8L268.4,316.7L263.8,323.7L261.1,322.0L258.3,320.5ZM277.7,283.7L282.3,286.2L286.8,288.9L282.2,295.9L278.0,293.4L273.8,291.1ZM293.2,254.4L299.2,257.6L305.1,261.2L300.5,268.1L295.0,264.8L289.3,261.7ZM297.1,247.0L303.5,250.5L309.7,254.2L305.1,261.2L299.2,257.6L293.2,254.4ZM250.1,344.5L251.9,345.7L253.7,347.0L248.4,353.5L247.0,352.4L245.5,351.4ZM254.7,337.5L256.9,339.0L259.0,340.6L253.7,347.0L251.9,345.7L250.1,344.5ZM259.3,330.6L261.8,332.3L264.3,334.2L259.0,340.6L256.9,339.0L254.7,337.5ZM263.8,323.7L266.8,325.6L269.5,327.7L264.3,334.2L261.8,332.3L259.3,330.6ZM277.6,302.8L281.6,305.5L285.4,308.4L280.1,314.9L276.6,312.2L273.0,309.8ZM295.9,275.1L301.4,278.7L306.6,282.7L301.3,289.1L296.4,285.4L291.3,282.0ZM300.5,268.1L306.3,272.1L311.9,276.3L306.6,282.7L301.4,278.7L295.9,275.1ZM264.3,334.2L266.6,336.1L268.8,338.2L262.9,344.1L261.0,342.3L259.0,340.6ZM269.5,327.7L272.2,330.0L274.8,332.4L268.8,338.2L266.6,336.1L264.3,334.2ZM285.4,308.4L289.1,311.5L292.6,314.8L286.7,320.7L283.5,317.7L280.1,314.9ZM306.6,282.7L311.6,286.9L316.4,291.4L310.5,297.3L306.0,293.1L301.3,289.1ZM311.9,276.3L317.3,280.8L322.4,285.5L316.4,291.4L311.6,286.9L306.6,282.7ZM317.2,269.8L322.9,274.6L328.3,279.7L322.4,285.5L317.3,280.8L311.9,276.3ZM322.5,263.4L328.5,268.5L334.3,273.8L328.3,279.7L322.9,274.6L317.2,269.8ZM251.0,355.8L252.0,356.8L253.0,357.9L246.5,363.2L245.8,362.4L245.0,361.6ZM286.7,320.7L289.2,323.3L291.6,326.0L285.2,331.3L283.0,328.9L280.7,326.5ZM292.6,314.8L295.4,317.7L298.1,320.7L291.6,326.0L289.2,323.3L286.7,320.7ZM298.6,309.0L301.6,312.1L304.5,315.3L298.1,320.7L295.4,317.7L292.6,314.8ZM253.0,357.9L253.9,359.0L254.8,360.2L247.9,365.0L247.2,364.1L246.5,363.2ZM272.3,342.0L273.9,343.9L275.4,346.0L268.5,350.7L267.2,349.0L265.9,347.3ZM278.7,336.6L280.6,338.9L282.3,341.2L275.4,346.0L273.9,343.9L272.3,342.0ZM285.2,331.3L287.3,333.8L289.2,336.5L282.3,341.2L280.6,338.9L278.7,336.6ZM291.6,326.0L293.9,328.8L296.1,331.7L289.2,336.5L287.3,333.8L285.2,331.3ZM298.1,320.7L300.6,323.8L303.0,327.0L296.1,331.7L293.9,328.8L291.6,326.0ZM304.5,315.3L307.3,318.7L309.9,322.2L303.0,327.0L300.6,323.8L298.1,320.7ZM254.8,360.2L255.6,361.4L256.3,362.6L249.1,366.8L248.5,365.9L247.9,365.0ZM282.3,341.2L284.0,343.6L285.5,346.1L278.2,350.2L276.9,348.1L275.4,346.0ZM289.2,336.5L291.0,339.2L292.8,341.9L285.5,346.1L284.0,343.6L282.3,341.2ZM309.9,322.2L312.3,325.8L314.6,329.5L307.3,333.7L305.2,330.3L303.0,327.0ZM256.3,362.6L257.0,363.9L257.7,365.2L250.1,368.7L249.6,367.7L249.1,366.8ZM285.5,346.1L286.9,348.6L288.2,351.2L280.6,354.7L279.4,352.4L278.2,350.2ZM292.8,341.9L294.3,344.8L295.8,347.7L288.2,351.2L286.9,348.6L285.5,346.1ZM300.0,337.8L301.8,341.0L303.4,344.2L295.8,347.7L294.3,344.8L292.8,341.9ZM307.3,333.7L309.3,337.2L311.1,340.7L303.4,344.2L301.8,341.0L300.0,337.8ZM257.7,365.2L258.3,366.5L258.8,367.9L250.9,370.7L250.5,369.7L250.1,368.7ZM288.2,351.2L289.4,353.9L290.4,356.6L282.5,359.4L281.6,357.0L280.6,354.7ZM295.8,347.7L297.1,350.7L298.3,353.7L290.4,356.6L289.4,353.9L288.2,351.2ZM303.4,344.2L304.9,347.5L306.2,350.9L298.3,353.7L297.1,350.7L295.8,347.7ZM258.8,367.9L259.3,369.2L259.7,370.6L251.6,372.8L251.3,371.7L250.9,370.7ZM282.5,359.4L283.4,361.8L284.1,364.2L275.9,366.3L275.3,364.3L274.6,362.2ZM290.4,356.6L291.4,359.3L292.2,362.1L284.1,364.2L283.4,361.8L282.5,359.4ZM298.3,353.7L299.4,356.8L300.3,359.9L292.2,362.1L291.4,359.3L290.4,356.6ZM337.9,339.6L339.5,344.4L340.9,349.2L332.8,351.3L331.5,346.8L330.0,342.4ZM345.8,336.7L347.5,341.9L349.1,347.1L340.9,349.2L339.5,344.4L337.9,339.6ZM353.7,333.9L355.5,339.4L357.2,344.9L349.1,347.1L347.5,341.9L345.8,336.7ZM361.6,331.1L363.6,336.9L365.3,342.8L357.2,344.9L355.5,339.4L353.7,333.9ZM369.5,328.2L371.6,334.4L373.4,340.6L365.3,342.8L363.6,336.9L361.6,331.1ZM259.7,370.6L260.0,372.0L260.3,373.5L252.0,374.9L251.8,373.8L251.6,372.8ZM260.3,373.5L260.6,374.9L260.7,376.3L252.3,377.0L252.2,376.0L252.0,374.9ZM310.0,364.8L310.6,368.4L311.0,372.0L302.6,372.7L302.3,369.5L301.7,366.3ZM359.7,356.2L360.6,361.9L361.3,367.7L352.9,368.4L352.3,363.0L351.4,357.6ZM368.0,354.8L369.0,360.8L369.6,366.9L361.3,367.7L360.6,361.9L359.7,356.2ZM260.7,376.3L260.8,377.8L260.8,379.2L252.4,379.2L252.4,378.1L252.3,377.0ZM344.5,369.1L344.8,374.1L345.0,379.2L336.5,379.2L336.4,374.5L336.1,369.8ZM260.8,379.2L260.8,380.6L260.7,382.1L252.3,381.4L252.4,380.3L252.4,379.2ZM269.3,379.2L269.2,381.0L269.1,382.8L260.7,382.1L260.8,380.6L260.8,379.2ZM277.7,379.2L277.6,381.4L277.5,383.5L269.1,382.8L269.2,381.0L269.3,379.2ZM345.0,379.2L344.8,384.3L344.5,389.3L336.1,388.6L336.4,383.9L336.5,379.2ZM260.7,382.1L260.6,383.5L260.3,384.9L252.0,383.5L252.2,382.4L252.3,381.4ZM269.1,382.8L268.9,384.6L268.6,386.4L260.3,384.9L260.6,383.5L260.7,382.1ZM277.5,383.5L277.2,385.7L276.9,387.8L268.6,386.4L268.9,384.6L269.1,382.8ZM336.1,388.6L335.6,393.2L334.9,397.9L326.6,396.4L327.3,392.2L327.7,387.9ZM378.0,392.2L377.3,398.6L376.3,405.1L368.0,403.6L369.0,397.6L369.6,391.5ZM260.3,384.9L260.0,386.4L259.7,387.8L251.6,385.6L251.8,384.6L252.0,383.5ZM276.9,387.8L276.5,389.9L275.9,392.1L267.8,389.9L268.3,388.2L268.6,386.4ZM334.9,397.9L334.0,402.5L332.8,407.1L324.7,404.9L325.7,400.7L326.6,396.4ZM259.7,387.8L259.3,389.2L258.8,390.5L250.9,387.7L251.3,386.7L251.6,385.6ZM275.9,392.1L275.3,394.1L274.6,396.2L266.7,393.4L267.3,391.6L267.8,389.9ZM332.8,407.1L331.5,411.6L330.0,416.0L322.0,413.2L323.5,409.1L324.7,404.9ZM373.4,417.8L371.6,424.0L369.5,430.2L361.6,427.3L363.6,421.5L365.3,415.6ZM274.6,396.2L273.8,398.2L272.9,400.2L265.3,396.7L266.1,395.0L266.7,393.4ZM290.4,401.8L289.4,404.5L288.2,407.2L280.6,403.7L281.6,401.4L282.5,399.0ZM272.9,400.2L272.0,402.1L270.9,404.0L263.6,399.9L264.5,398.3L265.3,396.7ZM280.6,403.7L279.4,406.0L278.2,408.2L270.9,404.0L272.0,402.1L272.9,400.2ZM295.8,410.7L294.3,413.6L292.8,416.4L285.5,412.3L286.9,409.8L288.2,407.2ZM333.9,428.2L331.7,432.7L329.2,437.1L321.9,433.0L324.2,428.9L326.3,424.7ZM341.5,431.7L339.1,436.5L336.5,441.3L329.2,437.1L331.7,432.7L333.9,428.2ZM349.2,435.2L346.6,440.4L343.7,445.4L336.5,441.3L339.1,436.5L341.5,431.7ZM356.8,438.7L354.0,444.2L351.0,449.6L343.7,445.4L346.6,440.4L349.2,435.2ZM364.4,442.2L361.5,448.0L358.3,453.7L351.0,449.6L354.0,444.2L356.8,438.7ZM270.9,404.0L269.8,405.9L268.5,407.7L261.6,402.9L262.7,401.4L263.6,399.9ZM292.8,416.4L291.0,419.2L289.2,421.9L282.3,417.2L284.0,414.8L285.5,412.3ZM343.7,445.4L340.7,450.4L337.4,455.2L330.5,450.4L333.6,445.9L336.5,441.3ZM351.0,449.6L347.8,454.8L344.3,459.9L337.4,455.2L340.7,450.4L343.7,445.4ZM268.5,407.7L267.2,409.4L265.9,411.1L259.4,405.8L260.6,404.4L261.6,402.9ZM282.3,417.2L280.6,419.5L278.7,421.8L272.3,416.4L273.9,414.5L275.4,412.4ZM343.2,475.0L338.8,479.9L334.3,484.6L328.3,478.7L332.6,474.3L336.7,469.7ZM328.3,478.7L323.8,483.0L319.1,487.0L313.7,480.7L318.1,476.8L322.4,472.9ZM259.6,417.2L257.9,418.6L256.1,419.9L251.3,413.1L252.8,412.0L254.2,410.9ZM297.5,461.6L293.8,464.6L289.9,467.3L285.1,460.6L288.6,458.0L292.1,455.3ZM256.1,419.9L254.3,421.1L252.4,422.2L248.2,415.0L249.8,414.1L251.3,413.1ZM260.8,436.6L258.3,437.9L255.6,439.2L252.1,431.7L254.4,430.6L256.6,429.4ZM255.6,439.2L253.0,440.4L250.2,441.4L247.3,433.6L249.7,432.7L252.1,431.7ZM262.7,454.2L259.4,455.7L256.0,457.0L253.1,449.2L256.2,448.0L259.2,446.7ZM244.5,425.9L242.4,426.6L240.3,427.2L238.1,419.2L239.8,418.7L241.6,418.1ZM250.2,441.4L247.4,442.4L244.6,443.2L242.4,435.2L244.9,434.5L247.3,433.6ZM253.1,449.2L250.0,450.3L246.8,451.2L244.6,443.2L247.4,442.4L250.2,441.4ZM240.3,427.2L238.1,427.7L236.0,428.1L234.5,420.0L236.3,419.6L238.1,419.2ZM244.6,443.2L241.8,443.9L238.9,444.4L237.4,436.3L239.9,435.8L242.4,435.2ZM246.8,451.2L243.6,451.9L240.3,452.6L238.9,444.4L241.8,443.9L244.6,443.2ZM238.9,444.4L236.0,444.9L233.1,445.2L232.3,436.9L234.9,436.6L237.4,436.3ZM240.3,452.6L237.1,453.1L233.8,453.4L233.1,445.2L236.0,444.9L238.9,444.4ZM241.8,460.7L238.2,461.3L234.5,461.7L233.8,453.4L237.1,453.1L240.3,452.6ZM243.3,468.9L239.3,469.5L235.3,469.9L234.5,461.7L238.2,461.3L241.8,460.7ZM250.6,509.6L244.8,510.5L238.9,511.1L238.2,502.9L243.7,502.3L249.1,501.5ZM252.0,517.8L245.9,518.7L239.7,519.4L238.9,511.1L244.8,510.5L250.6,509.6ZM253.5,525.9L247.0,526.9L240.4,527.6L239.7,519.4L245.9,518.7L252.0,517.8ZM236.7,486.4L232.0,486.7L227.2,486.8L227.2,478.5L231.6,478.4L236.0,478.2ZM227.2,412.3L225.7,412.3L224.3,412.2L225.0,403.9L226.1,404.0L227.2,404.0ZM227.2,420.6L225.4,420.5L223.5,420.4L224.3,412.2L225.7,412.3L227.2,412.3ZM227.2,428.9L225.0,428.8L222.8,428.7L223.5,420.4L225.4,420.5L227.2,420.6ZM227.2,528.2L220.6,528.1L214.0,527.6L214.7,519.4L221.0,519.8L227.2,519.9ZM224.3,412.2L222.8,412.0L221.4,411.8L222.8,403.7L223.9,403.8L225.0,403.9ZM223.5,420.4L221.7,420.2L219.9,420.0L221.4,411.8L222.8,412.0L224.3,412.2ZM222.8,428.7L220.6,428.4L218.4,428.1L219.9,420.0L221.7,420.2L223.5,420.4ZM216.9,494.6L211.8,494.1L206.8,493.3L208.2,485.2L212.9,485.9L217.7,486.4ZM216.2,502.9L210.7,502.3L205.3,501.5L206.8,493.3L211.8,494.1L216.9,494.6ZM215.5,511.1L209.6,510.5L203.8,509.6L205.3,501.5L210.7,502.3L216.2,502.9ZM214.7,519.4L208.5,518.7L202.4,517.8L203.8,509.6L209.6,510.5L215.5,511.1ZM214.0,527.6L207.4,526.9L200.9,525.9L202.4,517.8L208.5,518.7L214.7,519.4ZM221.4,411.8L219.9,411.5L218.5,411.2L220.7,403.2L221.7,403.4L222.8,403.7ZM219.9,420.0L218.1,419.6L216.3,419.2L218.5,411.2L219.9,411.5L221.4,411.8ZM217.0,436.3L214.5,435.8L212.0,435.2L214.1,427.2L216.3,427.7L218.4,428.1ZM215.5,444.4L212.6,443.9L209.8,443.2L212.0,435.2L214.5,435.8L217.0,436.3ZM214.1,452.6L210.8,451.9L207.6,451.2L209.8,443.2L212.6,443.9L215.5,444.4ZM218.5,411.2L217.1,410.8L215.7,410.3L218.6,402.5L219.6,402.9L220.7,403.2ZM216.3,419.2L214.6,418.7L212.8,418.1L215.7,410.3L217.1,410.8L218.5,411.2ZM207.6,451.2L204.4,450.3L201.3,449.2L204.2,441.4L207.0,442.4L209.8,443.2ZM198.9,483.1L194.3,481.8L189.8,480.3L192.7,472.5L196.8,473.9L201.1,475.1ZM196.7,491.1L191.8,489.7L186.9,488.1L189.8,480.3L194.3,481.8L198.9,483.1ZM194.5,499.1L189.3,497.6L184.0,495.9L186.9,488.1L191.8,489.7L196.7,491.1ZM192.4,507.1L186.7,505.5L181.2,503.7L184.0,495.9L189.3,497.6L194.5,499.1ZM198.4,457.0L195.0,455.7L191.7,454.2L195.2,446.7L198.2,448.0L201.3,449.2ZM191.7,454.2L188.4,452.6L185.1,450.9L189.3,443.7L192.2,445.3L195.2,446.7ZM177.4,484.2L172.8,482.0L168.3,479.6L172.5,472.4L176.7,474.7L181.0,476.7ZM163.2,514.2L157.3,511.4L151.5,508.2L155.7,501.1L161.2,504.0L166.8,506.7ZM206.2,415.0L204.6,414.1L203.1,413.1L207.9,406.3L209.1,407.1L210.4,407.9ZM168.3,479.6L163.9,476.9L159.7,474.1L164.5,467.3L168.4,470.0L172.5,472.4ZM155.7,501.1L150.4,497.9L145.2,494.5L150.0,487.7L154.9,490.9L159.9,493.9ZM151.5,508.2L145.9,504.9L140.4,501.3L145.2,494.5L150.4,497.9L155.7,501.1ZM207.9,406.3L206.7,405.5L205.6,404.6L211.0,398.2L211.8,398.9L212.7,399.5ZM203.1,413.1L201.6,412.0L200.2,410.9L205.6,404.6L206.7,405.5L207.9,406.3ZM174.1,453.8L170.9,451.4L167.7,449.0L173.1,442.6L176.0,444.9L179.0,447.0ZM140.4,501.3L135.0,497.4L129.9,493.3L135.3,487.0L140.2,490.8L145.2,494.5ZM205.6,404.6L204.5,403.6L203.4,402.6L209.4,396.8L210.2,397.5L211.0,398.2ZM129.9,493.3L124.9,489.1L120.1,484.6L126.1,478.7L130.6,483.0L135.3,487.0ZM203.4,402.6L202.4,401.6L201.4,400.5L207.9,395.2L208.6,396.0L209.4,396.8ZM201.4,400.5L200.5,399.4L199.6,398.2L206.5,393.4L207.2,394.3L207.9,395.2ZM199.6,398.2L198.8,397.0L198.1,395.8L205.3,391.6L205.9,392.5L206.5,393.4ZM103.4,449.6L100.4,444.2L97.6,438.7L105.2,435.2L107.8,440.4L110.7,445.4ZM96.1,453.7L92.9,448.0L90.0,442.2L97.6,438.7L100.4,444.2L103.4,449.6ZM173.8,403.7L172.8,401.4L171.9,399.0L179.8,396.2L180.6,398.2L181.5,400.2ZM158.6,410.7L157.3,407.7L156.1,404.7L164.0,401.8L165.0,404.5L166.2,407.2ZM195.6,390.5L195.1,389.2L194.7,387.8L202.8,385.6L203.1,386.7L203.5,387.7ZM187.7,393.4L187.1,391.6L186.6,389.9L194.7,387.8L195.1,389.2L195.6,390.5ZM156.1,404.7L155.0,401.6L154.1,398.5L162.2,396.3L163.0,399.1L164.0,401.8ZM116.5,418.8L114.9,414.0L113.5,409.2L121.6,407.1L122.9,411.6L124.4,416.0ZM108.6,421.7L106.9,416.5L105.3,411.3L113.5,409.2L114.9,414.0L116.5,418.8ZM100.7,424.5L98.9,419.0L97.2,413.5L105.3,411.3L106.9,416.5L108.6,421.7ZM92.8,427.3L90.8,421.5L89.1,415.6L97.2,413.5L98.9,419.0L100.7,424.5ZM84.9,430.2L82.8,424.0L81.0,417.8L89.1,415.6L90.8,421.5L92.8,427.3ZM194.7,387.8L194.4,386.4L194.1,384.9L202.4,383.5L202.6,384.6L202.8,385.6ZM186.6,389.9L186.1,388.2L185.8,386.4L194.1,384.9L194.4,386.4L194.7,387.8ZM137.8,402.8L136.9,398.9L136.1,395.0L144.4,393.6L145.1,397.1L146.0,400.6ZM129.7,404.9L128.7,400.7L127.8,396.4L136.1,395.0L136.9,398.9L137.8,402.8ZM121.6,407.1L120.4,402.5L119.5,397.9L127.8,396.4L128.7,400.7L129.7,404.9ZM103.0,400.8L102.1,395.4L101.5,390.0L109.9,389.3L110.5,394.3L111.2,399.3ZM94.7,402.2L93.8,396.5L93.1,390.7L101.5,390.0L102.1,395.4L103.0,400.8ZM86.4,403.6L85.4,397.6L84.8,391.5L93.1,390.7L93.8,396.5L94.7,402.2ZM78.1,405.1L77.1,398.6L76.4,392.2L84.8,391.5L85.4,397.6L86.4,403.6ZM93.1,390.7L92.8,385.0L92.6,379.2L101.0,379.2L101.2,384.6L101.5,390.0ZM84.8,391.5L84.3,385.3L84.2,379.2L92.6,379.2L92.8,385.0L93.1,390.7ZM76.4,392.2L75.9,385.7L75.8,379.2L84.2,379.2L84.3,385.3L84.8,391.5ZM193.6,379.2L193.6,377.8L193.7,376.3L202.1,377.0L202.0,378.1L202.0,379.2ZM168.3,379.2L168.4,376.7L168.5,374.1L176.9,374.9L176.8,377.0L176.7,379.2ZM134.7,379.2L134.8,375.2L135.0,371.3L143.4,372.0L143.2,375.6L143.1,379.2ZM126.3,379.2L126.4,374.9L126.7,370.5L135.0,371.3L134.8,375.2L134.7,379.2ZM92.6,379.2L92.8,373.4L93.1,367.7L101.5,368.4L101.2,373.8L101.0,379.2ZM84.2,379.2L84.3,373.1L84.8,366.9L93.1,367.7L92.8,373.4L92.6,379.2ZM75.8,379.2L75.9,372.7L76.4,366.2L84.8,366.9L84.3,373.1L84.2,379.2ZM193.7,376.3L193.8,374.9L194.1,373.5L202.4,374.9L202.2,376.0L202.1,377.0ZM176.9,374.9L177.2,372.7L177.5,370.6L185.8,372.0L185.5,373.8L185.3,375.6ZM143.4,372.0L143.8,368.4L144.4,364.8L152.7,366.3L152.1,369.5L151.8,372.7ZM126.7,370.5L127.1,366.2L127.8,362.0L136.1,363.4L135.5,367.3L135.0,371.3ZM194.1,373.5L194.4,372.0L194.7,370.6L202.8,372.8L202.6,373.8L202.4,374.9ZM177.5,370.6L177.9,368.5L178.5,366.3L186.6,368.5L186.1,370.2L185.8,372.0ZM127.8,362.0L128.7,357.7L129.7,353.5L137.8,355.6L136.9,359.5L136.1,363.4ZM178.5,366.3L179.1,364.3L179.8,362.2L187.7,365.0L187.1,366.8L186.6,368.5ZM179.8,362.2L180.6,360.2L181.5,358.2L189.1,361.7L188.3,363.4L187.7,365.0ZM103.4,308.8L106.6,303.6L110.1,298.5L117.0,303.2L113.7,308.0L110.7,313.0ZM96.1,304.7L99.5,299.1L103.2,293.7L110.1,298.5L106.6,303.6L103.4,308.8ZM130.7,312.7L133.8,308.7L137.0,304.7L143.4,310.0L140.5,313.7L137.6,317.5ZM103.2,293.7L107.1,288.5L111.2,283.4L117.7,288.7L113.8,293.5L110.1,298.5ZM167.7,320.7L170.4,318.2L173.1,315.8L178.5,322.1L176.1,324.3L173.7,326.5ZM161.8,314.8L164.7,312.1L167.7,309.4L173.1,315.8L170.4,318.2L167.7,320.7ZM155.8,309.0L159.0,306.0L162.3,303.1L167.7,309.4L164.7,312.1L161.8,314.8ZM178.5,322.1L181.1,320.1L183.8,318.2L188.6,325.0L186.2,326.7L183.9,328.5ZM173.1,315.8L176.0,313.5L179.0,311.4L183.8,318.2L181.1,320.1L178.5,322.1ZM167.7,309.4L170.9,307.0L174.1,304.6L179.0,311.4L176.0,313.5L173.1,315.8ZM162.3,303.1L165.8,300.4L169.3,297.8L174.1,304.6L170.9,307.0L167.7,309.4ZM156.9,296.8L160.6,293.8L164.5,291.1L169.3,297.8L165.8,300.4L162.3,303.1ZM129.9,265.1L135.0,261.0L140.4,257.1L145.2,263.9L140.2,267.6L135.3,271.4ZM198.3,338.5L200.1,337.3L202.0,336.2L206.2,343.4L204.6,344.3L203.1,345.3ZM193.4,331.7L195.6,330.3L197.8,329.0L202.0,336.2L200.1,337.3L198.3,338.5ZM179.0,311.4L182.0,309.4L185.1,307.5L189.3,314.7L186.5,316.4L183.8,318.2ZM174.1,304.6L177.5,302.4L180.9,300.3L185.1,307.5L182.0,309.4L179.0,311.4ZM169.3,297.8L173.0,295.4L176.7,293.2L180.9,300.3L177.5,302.4L174.1,304.6ZM176.7,293.2L180.6,291.1L184.5,289.2L188.1,296.7L184.5,298.4L180.9,300.3ZM172.5,286.0L176.7,283.7L181.0,281.7L184.5,289.2L180.6,291.1L176.7,293.2ZM205.9,334.2L207.9,333.3L209.9,332.5L212.8,340.3L211.1,341.0L209.4,341.7ZM191.7,304.2L195.0,302.7L198.4,301.4L201.3,309.2L198.2,310.4L195.2,311.7ZM184.5,289.2L188.6,287.4L192.7,285.9L195.6,293.6L191.8,295.1L188.1,296.7ZM195.6,293.6L199.4,292.4L203.3,291.2L205.4,299.2L201.9,300.3L198.4,301.4ZM192.7,285.9L196.8,284.5L201.1,283.3L203.3,291.2L199.4,292.4L195.6,293.6ZM181.2,254.7L186.7,252.9L192.4,251.3L194.5,259.3L189.3,260.8L184.0,262.5ZM178.3,247.0L184.2,245.0L190.2,243.3L192.4,251.3L186.7,252.9L181.2,254.7ZM175.4,239.2L181.7,237.1L188.0,235.3L190.2,243.3L184.2,245.0L178.3,247.0ZM214.1,331.2L216.3,330.7L218.4,330.3L219.9,338.4L218.1,338.8L216.3,339.2ZM207.6,307.2L210.8,306.5L214.1,305.8L215.5,314.0L212.6,314.5L209.8,315.2ZM192.4,251.3L198.1,249.9L203.8,248.8L205.3,256.9L199.9,258.0L194.5,259.3ZM190.2,243.3L196.3,241.8L202.4,240.6L203.8,248.8L198.1,249.9L192.4,251.3ZM188.0,235.3L194.4,233.7L200.9,232.5L202.4,240.6L196.3,241.8L190.2,243.3ZM208.2,273.2L212.9,272.5L217.7,272.0L218.4,280.2L214.0,280.7L209.7,281.4ZM206.8,265.1L211.8,264.3L216.9,263.8L217.7,272.0L212.9,272.5L208.2,273.2ZM205.3,256.9L210.7,256.1L216.2,255.5L216.9,263.8L211.8,264.3L206.8,265.1ZM203.8,248.8L209.6,247.9L215.5,247.3L216.2,255.5L210.7,256.1L205.3,256.9ZM202.4,240.6L208.5,239.7L214.7,239.0L215.5,247.3L209.6,247.9L203.8,248.8ZM219.9,296.7L223.5,296.5L227.2,296.4L227.2,304.7L223.9,304.8L220.6,305.0ZM219.1,288.5L223.2,288.2L227.2,288.1L227.2,296.4L223.5,296.5L219.9,296.7ZM218.4,280.2L222.8,280.0L227.2,279.9L227.2,288.1L223.2,288.2L219.1,288.5Z"/>
<path fill="#fee090" stroke="#fee090" stroke-width="0.4" d="M232.5,346.5L233.8,346.7L235.2,347.0L233.2,355.1L232.2,354.9L231.1,354.7ZM235.2,347.0L236.4,347.4L237.7,347.7L235.0,355.6L234.1,355.3L233.2,355.1ZM266.4,261.2L271.0,262.7L275.5,264.5L272.3,272.1L268.1,270.5L263.8,269.0ZM269.0,253.3L273.9,255.0L278.7,256.8L275.5,264.5L271.0,262.7L266.4,261.2ZM253.0,318.0L255.6,319.2L258.3,320.5L254.4,327.8L252.1,326.7L249.7,325.7ZM290.7,302.0L294.7,305.4L298.6,309.0L292.6,314.8L289.1,311.5L285.4,308.4ZM314.6,329.5L316.7,333.3L318.7,337.2L311.1,340.7L309.3,337.2L307.3,333.7ZM358.3,304.7L361.5,310.4L364.4,316.2L356.8,319.7L354.0,314.2L351.0,308.8ZM349.2,323.2L351.5,328.5L353.7,333.9L345.8,336.7L343.8,331.7L341.5,326.7ZM356.8,319.7L359.3,325.3L361.6,331.1L353.7,333.9L351.5,328.5L349.2,323.2ZM364.4,316.2L367.1,322.2L369.5,328.2L361.6,331.1L359.3,325.3L356.8,319.7ZM306.2,350.9L307.4,354.3L308.4,357.8L300.3,359.9L299.4,356.8L298.3,353.7ZM330.0,342.4L331.5,346.8L332.8,351.3L324.7,353.5L323.5,349.3L322.0,345.2ZM351.4,357.6L352.3,363.0L352.9,368.4L344.5,369.1L343.9,364.1L343.2,359.1ZM352.9,368.4L353.2,373.8L353.4,379.2L345.0,379.2L344.8,374.1L344.5,369.1ZM361.8,379.2L361.6,385.0L361.3,390.7L352.9,390.0L353.2,384.6L353.4,379.2ZM344.5,389.3L343.9,394.3L343.2,399.3L334.9,397.9L335.6,393.2L336.1,388.6ZM361.3,390.7L360.6,396.5L359.7,402.2L351.4,400.8L352.3,395.4L352.9,390.0ZM300.3,398.5L299.4,401.6L298.3,404.7L290.4,401.8L291.4,399.1L292.2,396.3ZM308.4,400.6L307.4,404.1L306.2,407.5L298.3,404.7L299.4,401.6L300.3,398.5ZM298.3,404.7L297.1,407.7L295.8,410.7L288.2,407.2L289.4,404.5L290.4,401.8ZM330.0,416.0L328.2,420.4L326.3,424.7L318.7,421.2L320.5,417.2L322.0,413.2ZM337.9,418.8L336.0,423.5L333.9,428.2L326.3,424.7L328.2,420.4L330.0,416.0ZM278.2,408.2L276.9,410.3L275.4,412.4L268.5,407.7L269.8,405.9L270.9,404.0ZM300.0,420.6L298.1,423.7L296.1,426.7L289.2,421.9L291.0,419.2L292.8,416.4ZM307.3,424.7L305.2,428.1L303.0,431.4L296.1,426.7L298.1,423.7L300.0,420.6ZM336.5,441.3L333.6,445.9L330.5,450.4L323.7,445.7L326.5,441.5L329.2,437.1ZM275.4,412.4L273.9,414.5L272.3,416.4L265.9,411.1L267.2,409.4L268.5,407.7ZM323.7,445.7L320.6,449.7L317.4,453.7L311.0,448.4L313.9,444.7L316.8,440.9ZM330.5,450.4L327.3,454.8L323.8,459.0L317.4,453.7L320.6,449.7L323.7,445.7ZM286.7,437.7L284.0,440.2L281.3,442.6L275.9,436.3L278.3,434.1L280.7,431.9ZM334.3,484.6L329.5,489.1L324.5,493.3L319.1,487.0L323.8,483.0L328.3,478.7ZM243.4,398.2L242.6,398.9L241.7,399.5L236.8,392.8L237.4,392.3L238.0,391.9ZM241.7,399.5L240.8,400.1L239.8,400.7L235.6,393.5L236.2,393.2L236.8,392.8ZM314.0,501.3L308.5,504.9L302.9,508.2L298.7,501.1L304.0,497.9L309.2,494.5ZM239.8,400.7L238.9,401.2L237.9,401.7L234.3,394.2L235.0,393.9L235.6,393.5ZM237.9,401.7L236.9,402.1L235.8,402.5L233.0,394.8L233.6,394.5L234.3,394.2ZM256.0,457.0L252.5,458.1L249.0,459.2L246.8,451.2L250.0,450.3L253.1,449.2ZM258.8,464.8L255.0,466.0L251.1,467.2L249.0,459.2L252.5,458.1L256.0,457.0ZM267.5,488.1L262.6,489.7L257.7,491.1L255.5,483.1L260.1,481.8L264.6,480.3ZM270.4,495.9L265.1,497.6L259.9,499.1L257.7,491.1L262.6,489.7L267.5,488.1ZM273.2,503.7L267.7,505.5L262.0,507.1L259.9,499.1L265.1,497.6L270.4,495.9ZM249.0,459.2L245.4,460.0L241.8,460.7L240.3,452.6L243.6,451.9L246.8,451.2ZM251.1,467.2L247.2,468.1L243.3,468.9L241.8,460.7L245.4,460.0L249.0,459.2ZM257.7,491.1L252.7,492.3L247.6,493.3L246.2,485.2L250.9,484.3L255.5,483.1ZM233.0,411.8L231.6,412.0L230.1,412.2L229.4,403.9L230.5,403.8L231.6,403.7ZM244.7,477.0L240.4,477.7L236.0,478.2L235.3,469.9L239.3,469.5L243.3,468.9ZM230.1,412.2L228.7,412.3L227.2,412.3L227.2,404.0L228.3,404.0L229.4,403.9ZM233.1,445.2L230.1,445.4L227.2,445.4L227.2,437.1L229.8,437.1L232.3,436.9ZM233.8,453.4L230.5,453.6L227.2,453.7L227.2,445.4L230.1,445.4L233.1,445.2ZM227.2,495.1L222.1,495.0L216.9,494.6L217.7,486.4L222.4,486.7L227.2,486.8ZM227.2,503.4L221.7,503.2L216.2,502.9L216.9,494.6L222.1,495.0L227.2,495.1ZM227.2,511.6L221.3,511.5L215.5,511.1L216.2,502.9L221.7,503.2L227.2,503.4ZM227.2,519.9L221.0,519.8L214.7,519.4L215.5,511.1L221.3,511.5L227.2,511.6ZM217.7,486.4L212.9,485.9L208.2,485.2L209.7,477.0L214.0,477.7L218.4,478.2ZM209.8,443.2L207.0,442.4L204.2,441.4L207.1,433.6L209.5,434.5L212.0,435.2ZM207.1,433.6L204.7,432.7L202.3,431.7L205.9,424.2L207.9,425.1L209.9,425.9ZM197.8,429.4L195.6,428.1L193.4,426.7L198.3,419.9L200.1,421.1L202.0,422.2ZM193.4,426.7L191.4,425.2L189.4,423.6L194.8,417.2L196.5,418.6L198.3,419.9ZM126.1,478.7L121.8,474.3L117.7,469.7L124.1,464.3L128.0,468.7L132.0,472.9ZM146.0,400.6L145.1,397.1L144.4,393.6L152.7,392.1L153.3,395.3L154.1,398.5ZM119.5,397.9L118.8,393.2L118.3,388.6L126.7,387.9L127.1,392.2L127.8,396.4ZM143.4,386.4L143.2,382.8L143.1,379.2L151.5,379.2L151.6,382.4L151.8,385.7ZM135.0,387.1L134.8,383.2L134.7,379.2L143.1,379.2L143.2,382.8L143.4,386.4ZM151.5,379.2L151.6,376.0L151.8,372.7L160.2,373.4L160.0,376.3L159.9,379.2ZM117.9,379.2L118.0,374.5L118.3,369.8L126.7,370.5L126.4,374.9L126.3,379.2ZM135.0,371.3L135.5,367.3L136.1,363.4L144.4,364.8L143.8,368.4L143.4,372.0ZM92.8,331.1L95.1,325.3L97.6,319.7L105.2,323.2L102.9,328.5L100.7,333.9ZM84.9,328.2L87.3,322.2L90.0,316.2L97.6,319.7L95.1,325.3L92.8,331.1ZM158.6,347.7L160.1,344.8L161.6,341.9L168.9,346.1L167.5,348.6L166.2,351.2ZM97.6,319.7L100.4,314.2L103.4,308.8L110.7,313.0L107.8,318.0L105.2,323.2ZM147.1,333.7L149.2,330.3L151.4,327.0L158.3,331.7L156.3,334.7L154.4,337.8ZM110.7,313.0L113.7,308.0L117.0,303.2L123.9,308.0L120.8,312.5L117.9,317.1ZM185.1,307.5L188.4,305.8L191.7,304.2L195.2,311.7L192.2,313.1L189.3,314.7ZM168.3,278.8L172.8,276.4L177.4,274.2L181.0,281.7L176.7,283.7L172.5,286.0ZM196.7,267.3L201.7,266.1L206.8,265.1L208.2,273.2L203.5,274.1L198.9,275.3ZM215.5,314.0L218.4,313.5L221.3,313.2L222.1,321.5L219.5,321.8L217.0,322.1ZM209.7,281.4L214.0,280.7L218.4,280.2L219.1,288.5L215.1,288.9L211.1,289.5ZM221.3,313.2L224.3,313.0L227.2,313.0L227.2,321.3L224.6,321.3L222.1,321.5Z"/>
<path fill="#4575b4" stroke="#4575b4" stroke-width="0.4" d="M235.1,330.1L237.1,330.5L239.2,330.9L237.2,339.0L235.5,338.6L233.8,338.3ZM239.2,330.9L241.0,331.4L242.9,332.0L240.3,339.9L238.7,339.4L237.2,339.0ZM282.2,295.9L286.5,298.8L290.7,302.0L285.4,308.4L281.6,305.5L277.6,302.8ZM250.1,368.7L250.5,369.7L250.9,370.7L243.0,373.5L242.7,372.9L242.4,372.2ZM326.3,333.7L328.2,338.0L330.0,342.4L322.0,345.2L320.5,341.2L318.7,337.2ZM250.9,370.7L251.3,371.7L251.6,372.8L243.4,374.9L243.2,374.2L243.0,373.5ZM243.8,382.1L243.6,382.8L243.4,383.5L235.3,381.3L235.4,381.0L235.5,380.6ZM243.4,383.5L243.2,384.2L243.0,384.9L235.1,382.0L235.2,381.7L235.3,381.3ZM316.6,402.8L315.4,406.6L314.1,410.3L306.2,407.5L307.4,404.1L308.4,400.6ZM243.0,384.9L242.7,385.5L242.4,386.2L234.8,382.7L235.0,382.4L235.1,382.0ZM314.1,410.3L312.7,414.0L311.1,417.7L303.4,414.2L304.9,410.9L306.2,407.5ZM242.4,386.2L242.1,386.8L241.8,387.5L234.5,383.3L234.7,383.0L234.8,382.7ZM241.8,387.5L241.4,388.1L241.0,388.7L234.1,383.9L234.3,383.6L234.5,383.3ZM358.3,453.7L354.9,459.3L351.2,464.7L344.3,459.9L347.8,454.8L351.0,449.6ZM241.0,388.7L240.5,389.3L240.1,389.8L233.6,384.5L233.9,384.2L234.1,383.9ZM240.1,389.8L239.6,390.4L239.1,390.9L233.1,385.1L233.4,384.8L233.6,384.5ZM239.1,390.9L238.6,391.4L238.0,391.9L232.6,385.5L232.9,385.3L233.1,385.1ZM275.4,447.0L272.4,449.0L269.3,450.9L265.0,443.7L267.9,442.0L270.6,440.2ZM281.9,472.4L277.7,474.7L273.4,476.7L269.9,469.2L273.8,467.3L277.7,465.2ZM290.3,486.7L285.5,489.3L280.5,491.7L277.0,484.2L281.6,482.0L286.1,479.6ZM238.2,502.9L232.7,503.2L227.2,503.4L227.2,495.1L232.3,495.0L237.5,494.6ZM218.4,428.1L216.3,427.7L214.1,427.2L216.3,419.2L218.1,419.6L219.9,420.0ZM212.6,460.7L209.0,460.0L205.4,459.2L207.6,451.2L210.8,451.9L214.1,452.6ZM214.1,427.2L212.0,426.6L209.9,425.9L212.8,418.1L214.6,418.7L216.3,419.2ZM184.0,495.9L178.9,493.9L173.9,491.7L177.4,484.2L182.1,486.3L186.9,488.1ZM202.3,431.7L200.0,430.6L197.8,429.4L202.0,422.2L203.9,423.3L205.9,424.2ZM198.8,439.2L196.1,437.9L193.6,436.6L197.8,429.4L200.0,430.6L202.3,431.7ZM193.6,436.6L191.0,435.1L188.6,433.4L193.4,426.7L195.6,428.1L197.8,429.4ZM188.6,433.4L186.2,431.7L183.9,429.9L189.4,423.6L191.4,425.2L193.4,426.7ZM136.1,395.0L135.5,391.1L135.0,387.1L143.4,386.4L143.8,390.0L144.4,393.6ZM160.2,385.0L160.0,382.1L159.9,379.2L168.3,379.2L168.4,381.7L168.5,384.3ZM103.0,357.6L104.0,352.3L105.3,347.1L113.5,349.2L112.2,354.1L111.2,359.1ZM113.5,349.2L114.9,344.4L116.5,339.6L124.4,342.4L122.9,346.8L121.6,351.3ZM120.5,330.2L122.7,325.7L125.2,321.3L132.5,325.4L130.2,329.5L128.1,333.7ZM132.5,325.4L135.0,321.4L137.6,317.5L144.5,322.2L142.1,325.8L139.8,329.5ZM159.7,284.3L163.9,281.5L168.3,278.8L172.5,286.0L168.4,288.4L164.5,291.1ZM203.3,291.2L207.2,290.3L211.1,289.5L212.6,297.7L209.0,298.4L205.4,299.2ZM214.1,305.8L217.3,305.3L220.6,305.0L221.3,313.2L218.4,313.5L215.5,314.0ZM220.6,305.0L223.9,304.8L227.2,304.7L227.2,313.0L224.3,313.0L221.3,313.2Z"/>
<path fill="#74add1" stroke="#74add1" stroke-width="0.4" d="M237.7,347.7L238.9,348.1L240.1,348.6L236.9,356.3L236.0,355.9L235.0,355.6ZM236.9,356.3L237.9,356.7L238.9,357.2L235.0,364.5L234.3,364.2L233.6,363.9ZM240.1,348.6L241.4,349.2L242.7,349.8L238.9,357.2L237.9,356.7L236.9,356.3ZM238.9,357.2L239.9,357.7L240.9,358.4L236.4,365.3L235.7,364.9L235.0,364.5ZM242.7,349.8L244.1,350.6L245.5,351.4L240.9,358.4L239.9,357.7L238.9,357.2ZM240.9,358.4L242.0,359.1L243.1,359.9L237.8,366.3L237.1,365.8L236.4,365.3ZM245.5,351.4L247.0,352.4L248.4,353.5L243.1,359.9L242.0,359.1L240.9,358.4ZM248.4,353.5L249.7,354.6L251.0,355.8L245.0,361.6L244.1,360.7L243.1,359.9ZM253.7,347.0L255.3,348.4L256.9,349.9L251.0,355.8L249.7,354.6L248.4,353.5ZM256.9,349.9L258.2,351.2L259.4,352.6L253.0,357.9L252.0,356.8L251.0,355.8ZM336.5,317.1L339.1,321.9L341.5,326.7L333.9,330.2L331.7,325.7L329.2,321.3ZM318.7,337.2L320.5,341.2L322.0,345.2L314.1,348.1L312.7,344.4L311.1,340.7ZM300.3,359.9L301.1,363.1L301.7,366.3L293.5,367.7L292.9,364.9L292.2,362.1ZM301.7,366.3L302.3,369.5L302.6,372.7L294.2,373.4L293.9,370.6L293.5,367.7ZM302.6,372.7L302.8,376.0L302.9,379.2L294.5,379.2L294.4,376.3L294.2,373.4ZM311.1,417.7L309.3,421.2L307.3,424.7L300.0,420.6L301.8,417.4L303.4,414.2ZM289.2,421.9L287.3,424.6L285.2,427.1L278.7,421.8L280.6,419.5L282.3,417.2ZM265.9,411.1L264.4,412.8L262.9,414.3L256.9,408.5L258.2,407.2L259.4,405.8ZM262.9,414.3L261.3,415.8L259.6,417.2L254.2,410.9L255.6,409.7L256.9,408.5ZM238.0,391.9L237.4,392.3L236.8,392.8L232.0,386.0L232.3,385.8L232.6,385.5ZM236.8,392.8L236.2,393.2L235.6,393.5L231.4,386.4L231.7,386.2L232.0,386.0ZM289.9,467.3L286.0,470.0L281.9,472.4L277.7,465.2L281.4,463.0L285.1,460.6ZM235.6,393.5L235.0,393.9L234.3,394.2L230.8,386.7L231.1,386.5L231.4,386.4ZM234.3,394.2L233.6,394.5L233.0,394.8L230.1,387.0L230.4,386.8L230.8,386.7ZM233.0,394.8L232.3,395.0L231.6,395.2L229.4,387.2L229.7,387.1L230.1,387.0ZM231.6,395.2L230.8,395.4L230.1,395.5L228.7,387.4L229.0,387.3L229.4,387.2ZM247.6,493.3L242.6,494.1L237.5,494.6L236.7,486.4L241.5,485.9L246.2,485.2ZM189.3,443.7L186.5,442.0L183.8,440.2L188.6,433.4L191.0,435.1L193.6,436.6ZM183.8,440.2L181.1,438.3L178.5,436.3L183.9,429.9L186.2,431.7L188.6,433.4ZM173.1,442.6L170.4,440.2L167.7,437.7L173.7,431.9L176.1,434.1L178.5,436.3ZM117.7,469.7L113.8,464.9L110.1,459.9L117.0,455.2L120.4,459.8L124.1,464.3ZM162.2,396.3L161.5,393.5L160.9,390.7L169.2,389.3L169.7,391.7L170.3,394.2ZM144.4,393.6L143.8,390.0L143.4,386.4L151.8,385.7L152.1,388.9L152.7,392.1ZM118.3,388.6L118.0,383.9L117.9,379.2L126.3,379.2L126.4,383.5L126.7,387.9ZM101.5,368.4L102.1,363.0L103.0,357.6L111.2,359.1L110.5,364.1L109.9,369.1ZM111.2,359.1L112.2,354.1L113.5,349.2L121.6,351.3L120.4,355.9L119.5,360.5ZM105.3,347.1L106.9,341.9L108.6,336.7L116.5,339.6L114.9,344.4L113.5,349.2ZM181.5,358.2L182.4,356.3L183.5,354.4L190.8,358.5L189.9,360.1L189.1,361.7ZM128.1,333.7L130.2,329.5L132.5,325.4L139.8,329.5L137.7,333.3L135.7,337.2ZM183.5,354.4L184.6,352.5L185.9,350.7L192.8,355.5L191.7,357.0L190.8,358.5ZM169.2,331.3L171.4,328.9L173.7,326.5L179.6,332.4L177.6,334.5L175.7,336.6ZM162.8,326.0L165.2,323.3L167.7,320.7L173.7,326.5L171.4,328.9L169.2,331.3ZM156.3,320.7L159.0,317.7L161.8,314.8L167.7,320.7L165.2,323.3L162.8,326.0ZM205.6,353.8L206.7,352.9L207.9,352.1L212.7,358.9L211.8,359.5L211.0,360.2ZM207.9,352.1L209.1,351.3L210.4,350.5L214.6,357.7L213.6,358.3L212.7,358.9ZM154.8,277.5L159.4,274.5L164.1,271.7L168.3,278.8L163.9,281.5L159.7,284.3ZM210.4,350.5L211.7,349.8L213.0,349.2L216.5,356.7L215.5,357.2L214.6,357.7ZM189.8,278.1L194.3,276.6L198.9,275.3L201.1,283.3L196.8,284.5L192.7,285.9Z"/>
<path fill="#fdc778" stroke="#fdc778" stroke-width="0.4" d="M263.8,269.0L268.1,270.5L272.3,272.1L269.0,279.8L265.1,278.3L261.2,276.9ZM291.3,282.0L296.4,285.4L301.3,289.1L296.0,295.6L291.5,292.1L286.8,288.9ZM305.1,261.2L311.2,265.4L317.2,269.8L311.9,276.3L306.3,272.1L300.5,268.1ZM309.7,254.2L316.2,258.7L322.5,263.4L317.2,269.8L311.2,265.4L305.1,261.2ZM344.3,298.5L347.8,303.6L351.0,308.8L343.7,313.0L340.7,308.0L337.4,303.2ZM263.6,358.5L264.5,360.1L265.3,361.7L257.7,365.2L257.0,363.9L256.3,362.6ZM265.3,361.7L266.1,363.4L266.7,365.0L258.8,367.9L258.3,366.5L257.7,365.2ZM308.4,357.8L309.3,361.3L310.0,364.8L301.7,366.3L301.1,363.1L300.3,359.9ZM332.8,351.3L334.0,355.9L334.9,360.5L326.6,362.0L325.7,357.7L324.7,353.5ZM318.3,363.4L318.9,367.3L319.4,371.3L311.0,372.0L310.6,368.4L310.0,364.8ZM294.5,379.2L294.4,382.1L294.2,385.0L285.9,384.3L286.0,381.7L286.1,379.2ZM353.4,379.2L353.2,384.6L352.9,390.0L344.5,389.3L344.8,384.3L345.0,379.2ZM294.2,385.0L293.9,387.8L293.5,390.7L285.2,389.3L285.6,386.8L285.9,384.3ZM369.6,391.5L369.0,397.6L368.0,403.6L359.7,402.2L360.6,396.5L361.3,390.7ZM293.5,390.7L292.9,393.5L292.2,396.3L284.1,394.2L284.7,391.7L285.2,389.3ZM292.2,396.3L291.4,399.1L290.4,401.8L282.5,399.0L283.4,396.6L284.1,394.2ZM326.3,424.7L324.2,428.9L321.9,433.0L314.6,428.9L316.7,425.1L318.7,421.2ZM351.2,464.7L347.3,469.9L343.2,475.0L336.7,469.7L340.6,464.9L344.3,459.9ZM254.2,410.9L252.8,412.0L251.3,413.1L246.5,406.3L247.7,405.5L248.8,404.6ZM251.3,413.1L249.8,414.1L248.2,415.0L244.0,407.9L245.3,407.1L246.5,406.3ZM259.2,446.7L256.2,448.0L253.1,449.2L250.2,441.4L253.0,440.4L255.6,439.2ZM241.6,418.1L239.8,418.7L238.1,419.2L235.9,411.2L237.3,410.8L238.7,410.3ZM276.1,511.4L270.2,513.4L264.2,515.1L262.0,507.1L267.7,505.5L273.2,503.7ZM279.0,519.2L272.7,521.3L266.4,523.1L264.2,515.1L270.2,513.4L276.1,511.4ZM249.1,501.5L243.7,502.3L238.2,502.9L237.5,494.6L242.6,494.1L247.6,493.3ZM227.2,437.1L224.6,437.1L222.1,436.9L222.8,428.7L225.0,428.8L227.2,428.9ZM227.2,445.4L224.3,445.4L221.3,445.2L222.1,436.9L224.6,437.1L227.2,437.1ZM222.1,436.9L219.5,436.6L217.0,436.3L218.4,428.1L220.6,428.4L222.8,428.7ZM221.3,445.2L218.4,444.9L215.5,444.4L217.0,436.3L219.5,436.6L222.1,436.9ZM212.0,435.2L209.5,434.5L207.1,433.6L209.9,425.9L212.0,426.6L214.1,427.2ZM190.2,515.1L184.2,513.4L178.3,511.4L181.2,503.7L186.7,505.5L192.4,507.1ZM188.0,523.1L181.7,521.3L175.4,519.2L178.3,511.4L184.2,513.4L190.2,515.1ZM201.3,449.2L198.2,448.0L195.2,446.7L198.8,439.2L201.4,440.4L204.2,441.4ZM189.8,480.3L185.4,478.6L181.0,476.7L184.5,469.2L188.6,471.0L192.7,472.5ZM178.3,511.4L172.5,509.2L166.8,506.7L170.3,499.2L175.7,501.6L181.2,503.7ZM175.4,519.2L169.3,516.9L163.2,514.2L166.8,506.7L172.5,509.2L178.3,511.4ZM195.2,446.7L192.2,445.3L189.3,443.7L193.6,436.6L196.1,437.9L198.8,439.2ZM173.9,491.7L168.9,489.3L164.1,486.7L168.3,479.6L172.8,482.0L177.4,484.2ZM170.3,499.2L165.1,496.7L159.9,493.9L164.1,486.7L168.9,489.3L173.9,491.7ZM166.8,506.7L161.2,504.0L155.7,501.1L159.9,493.9L165.1,496.7L170.3,499.2ZM185.1,450.9L182.0,449.0L179.0,447.0L183.8,440.2L186.5,442.0L189.3,443.7ZM164.1,486.7L159.4,483.9L154.8,480.9L159.7,474.1L163.9,476.9L168.3,479.6ZM159.9,493.9L154.9,490.9L150.0,487.7L154.8,480.9L159.4,483.9L164.1,486.7ZM179.0,447.0L176.0,444.9L173.1,442.6L178.5,436.3L181.1,438.3L183.8,440.2ZM178.5,436.3L176.1,434.1L173.7,431.9L179.6,426.0L181.7,428.0L183.9,429.9ZM182.1,416.4L180.5,414.5L179.0,412.4L185.9,407.7L187.2,409.4L188.5,411.1ZM112.9,431.7L110.6,426.7L108.6,421.7L116.5,418.8L118.4,423.5L120.5,428.2ZM111.2,399.3L110.5,394.3L109.9,389.3L118.3,388.6L118.8,393.2L119.5,397.9ZM101.5,390.0L101.2,384.6L101.0,379.2L109.4,379.2L109.6,384.3L109.9,389.3ZM109.4,379.2L109.6,374.1L109.9,369.1L118.3,369.8L118.0,374.5L117.9,379.2ZM101.0,379.2L101.2,373.8L101.5,368.4L109.9,369.1L109.6,374.1L109.4,379.2ZM118.3,369.8L118.8,365.2L119.5,360.5L127.8,362.0L127.1,366.2L126.7,370.5ZM90.0,316.2L92.9,310.4L96.1,304.7L103.4,308.8L100.4,314.2L97.6,319.7ZM188.6,325.0L191.0,323.3L193.6,321.8L197.8,329.0L195.6,330.3L193.4,331.7ZM183.8,318.2L186.5,316.4L189.3,314.7L193.6,321.8L191.0,323.3L188.6,325.0ZM189.3,314.7L192.2,313.1L195.2,311.7L198.8,319.2L196.1,320.5L193.6,321.8ZM181.0,281.7L185.4,279.8L189.8,278.1L192.7,285.9L188.6,287.4L184.5,289.2ZM184.0,262.5L189.3,260.8L194.5,259.3L196.7,267.3L191.8,268.7L186.9,270.3ZM194.5,259.3L199.9,258.0L205.3,256.9L206.8,265.1L201.7,266.1L196.7,267.3Z"/>
<path fill="#313695" stroke="#313695" stroke-width="0.4" d="M286.1,479.6L281.6,482.0L277.0,484.2L273.4,476.7L277.7,474.7L281.9,472.4ZM155.8,449.4L152.8,446.3L149.9,443.1L156.3,437.7L159.0,440.7L161.8,443.6ZM149.9,455.3L146.6,451.9L143.4,448.4L149.9,443.1L152.8,446.3L155.8,449.4ZM125.2,321.3L127.9,316.9L130.7,312.7L137.6,317.5L135.0,321.4L132.5,325.4ZM201.1,283.3L205.4,282.2L209.7,281.4L211.1,289.5L207.2,290.3L203.3,291.2Z"/>
</g>
<path fill="#ffa200" d="M160.2,379.2L160.3,376.9L160.4,374.6L160.6,372.3L160.9,370.0L161.3,367.8L161.7,365.5L162.2,363.3L162.8,361.0L163.5,358.8L164.3,356.7L165.1,354.5L166.0,352.4L167.0,350.3L168.1,350.8L167.4,353.0L168.0,355.7L168.6,358.2L169.4,360.7L170.3,363.1L169.7,365.1L169.3,367.1L168.9,369.1L168.6,371.1L168.3,373.1L168.1,375.1L168.0,377.2L168.0,379.2Z"/>
<line x1="227.2" y1="379.2" x2="171" y2="362" stroke="#ffa200" stroke-width="1"/>
<g fill="none" stroke="#fdf0a8" stroke-width="1">
<ellipse cx="227.2" cy="379.2" rx="50.5" ry="49.7"/>
<ellipse cx="227.2" cy="379.2" rx="100.9" ry="99.3"/>
<ellipse cx="227.2" cy="379.2" rx="151.4" ry="149.0"/>
<line x1="227.2" y1="379.2" x2="227.2" y2="230.2"/>
<line x1="227.2" y1="379.2" x2="334.3" y2="273.8"/>
<line x1="227.2" y1="379.2" x2="378.6" y2="379.2"/>
<line x1="227.2" y1="379.2" x2="334.3" y2="484.6"/>
<line x1="227.2" y1="379.2" x2="227.2" y2="528.2"/>
<line x1="227.2" y1="379.2" x2="120.1" y2="484.6"/>
<line x1="227.2" y1="379.2" x2="75.8" y2="379.2"/>
<line x1="227.2" y1="379.2" x2="120.1" y2="273.8"/>
</g>
<g stroke="#00ff00" stroke-width="1" fill="none">
<path d="M207.0,258.5h7M210.5,255.0v7M180.0,292.5h7M183.5,289.0v7M185.0,311.5h7M188.5,308.0v7M176.0,319.5h7M179.5,316.0v7M213.0,312.5h7M216.5,309.0v7M222.0,308.5h7M225.5,305.0v7M250.0,279.5h7M253.5,276.0v7M239.0,292.5h7M242.5,289.0v7M255.0,305.5h7M258.5,302.0v7M255.0,308.5h7M258.5,305.0v7M326.0,284.5h7M329.5,281.0v7M283.0,331.5h7M286.5,328.0v7M292.0,330.5h7M295.5,327.0v7M250.0,360.5h7M253.5,357.0v7M289.0,362.5h7M292.5,359.0v7M295.0,388.5h7M298.5,385.0v7M266.0,397.5h7M269.5,394.0v7M356.0,346.5h7M359.5,343.0v7M296.0,415.5h7M299.5,412.0v7M302.0,455.5h7M305.5,452.0v7M310.0,469.5h7M313.5,466.0v7M279.0,463.5h7M282.5,460.0v7M291.0,483.5h7M294.5,480.0v7M348.0,453.5h7M351.5,450.0v7M246.0,442.5h7M249.5,439.0v7M217.0,393.5h7M220.5,390.0v7M235.0,381.5h7M238.5,378.0v7M229.0,373.5h7M232.5,370.0v7M217.0,368.5h7M220.5,365.0v7M203.0,360.5h7M206.5,357.0v7M184.0,379.5h7M187.5,376.0v7M196.0,389.5h7M199.5,386.0v7M183.0,404.5h7M186.5,401.0v7M207.0,418.5h7M210.5,415.0v7M221.0,426.5h7M224.5,423.0v7M179.0,428.5h7M182.5,425.0v7M152.0,446.5h7M155.5,443.0v7M147.0,455.5h7M150.5,452.0v7M147.0,473.5h7M150.5,470.0v7M141.0,497.5h7M144.5,494.0v7M176.0,520.5h7M179.5,517.0v7M116.0,469.5h7M119.5,466.0v7M96.0,447.5h7M99.5,444.0v7M99.0,448.5h7M102.5,445.0v7M96.0,378.5h7M99.5,375.0v7M100.0,359.5h7M103.5,356.0v7M107.0,357.5h7M110.5,354.0v7M103.0,336.5h7M106.5,333.0v7M112.0,336.5h7M115.5,333.0v7M114.0,344.5h7M117.5,341.0v7M122.0,319.5h7M125.5,316.0v7M153.0,325.5h7M156.5,322.0v7M141.0,340.5h7M144.5,337.0v7M144.0,344.5h7M147.5,341.0v7M172.0,346.5h7M175.5,343.0v7M144.0,364.5h7M147.5,361.0v7M155.0,361.5h7M158.5,358.0v7"/>
</g>
<g fill="#00ff00" style="font-family:'Liberation Serif',serif;font-size:13px" text-anchor="middle">
<text x="212.2" y="252.0" style="font-family:'Liberation Serif',serif;font-size:13px">J195</text>
<text x="185.2" y="286.0" style="font-family:'Liberation Serif',serif;font-size:13px">R15</text>
<text x="190.2" y="304.8" style="font-family:'Liberation Serif',serif;font-size:13px">J199</text>
<text x="181.4" y="313.0" style="font-family:'Liberation Serif',serif;font-size:13px">C24</text>
<text x="218.0" y="305.9" style="font-family:'Liberation Serif',serif;font-size:13px">C56</text>
<text x="227.4" y="301.8" style="font-family:'Liberation Serif',serif;font-size:13px">G01</text>
<text x="254.9" y="272.9" style="font-family:'Liberation Serif',serif;font-size:13px">E13</text>
<text x="244.1" y="286.0" style="font-family:'Liberation Serif',serif;font-size:13px">G03</text>
<text x="260.0" y="298.9" style="font-family:'Liberation Serif',serif;font-size:13px">C62</text>
<text x="260.6" y="302.4" style="font-family:'Liberation Serif',serif;font-size:13px">C04</text>
<text x="331.3" y="278.2" style="font-family:'Liberation Serif',serif;font-size:13px">G08</text>
<text x="288.2" y="324.9" style="font-family:'Liberation Serif',serif;font-size:13px">C21</text>
<text x="297.3" y="324.3" style="font-family:'Liberation Serif',serif;font-size:13px">E18</text>
<text x="255.2" y="354.3" style="font-family:'Liberation Serif',serif;font-size:13px">C50</text>
<text x="294.3" y="355.8" style="font-family:'Liberation Serif',serif;font-size:13px">R03</text>
<text x="300.6" y="382.2" style="font-family:'Liberation Serif',serif;font-size:13px">J193</text>
<text x="271.2" y="391.1" style="font-family:'Liberation Serif',serif;font-size:13px">G04</text>
<text x="361.1" y="340.0" style="font-family:'Liberation Serif',serif;font-size:13px">G27</text>
<text x="301.1" y="409.0" style="font-family:'Liberation Serif',serif;font-size:13px">G16</text>
<text x="307.2" y="448.7" style="font-family:'Liberation Serif',serif;font-size:13px">C45</text>
<text x="315.2" y="463.1" style="font-family:'Liberation Serif',serif;font-size:13px">G26</text>
<text x="284.4" y="457.2" style="font-family:'Liberation Serif',serif;font-size:13px">R13</text>
<text x="296.1" y="477.2" style="font-family:'Liberation Serif',serif;font-size:13px">E03</text>
<text x="353.3" y="447.2" style="font-family:'Liberation Serif',serif;font-size:13px">G31</text>
<text x="251.2" y="436.0" style="font-family:'Liberation Serif',serif;font-size:13px">E08</text>
<text x="222.2" y="387.0" style="font-family:'Liberation Serif',serif;font-size:13px">C42</text>
<text x="240.5" y="375.1" style="font-family:'Liberation Serif',serif;font-size:13px">C26</text>
<text x="234.0" y="366.9" style="font-family:'Liberation Serif',serif;font-size:13px">R14</text>
<text x="222.4" y="362.0" style="font-family:'Liberation Serif',serif;font-size:13px">J196</text>
<text x="208.0" y="354.6" style="font-family:'Liberation Serif',serif;font-size:13px">C38</text>
<text x="189.1" y="373.2" style="font-family:'Liberation Serif',serif;font-size:13px">E26</text>
<text x="201.4" y="382.9" style="font-family:'Liberation Serif',serif;font-size:13px">C08</text>
<text x="188.2" y="397.9" style="font-family:'Liberation Serif',serif;font-size:13px">C13</text>
<text x="211.9" y="412.0" style="font-family:'Liberation Serif',serif;font-size:13px">G09</text>
<text x="226.3" y="420.2" style="font-family:'Liberation Serif',serif;font-size:13px">R04</text>
<text x="184.5" y="422.0" style="font-family:'Liberation Serif',serif;font-size:13px">C14</text>
<text x="157.2" y="439.9" style="font-family:'Liberation Serif',serif;font-size:13px">E33</text>
<text x="152.0" y="449.4" style="font-family:'Liberation Serif',serif;font-size:13px">C35</text>
<text x="152.2" y="467.0" style="font-family:'Liberation Serif',serif;font-size:13px">R05</text>
<text x="146.2" y="490.9" style="font-family:'Liberation Serif',serif;font-size:13px">G20</text>
<text x="181.3" y="513.8" style="font-family:'Liberation Serif',serif;font-size:13px">R21</text>
<text x="121.2" y="463.0" style="font-family:'Liberation Serif',serif;font-size:13px">G11</text>
<text x="101.1" y="440.8" style="font-family:'Liberation Serif',serif;font-size:13px">R22</text>
<text x="104.7" y="441.8" style="font-family:'Liberation Serif',serif;font-size:13px">R08</text>
<text x="101.2" y="371.9" style="font-family:'Liberation Serif',serif;font-size:13px">G06</text>
<text x="105.4" y="352.9" style="font-family:'Liberation Serif',serif;font-size:13px">C60</text>
<text x="112.2" y="351.0" style="font-family:'Liberation Serif',serif;font-size:13px">E02</text>
<text x="108.2" y="330.0" style="font-family:'Liberation Serif',serif;font-size:13px">G32</text>
<text x="117.2" y="329.7" style="font-family:'Liberation Serif',serif;font-size:13px">E05</text>
<text x="119.4" y="338.5" style="font-family:'Liberation Serif',serif;font-size:13px">C06</text>
<text x="127.6" y="313.5" style="font-family:'Liberation Serif',serif;font-size:13px">C09</text>
<text x="158.3" y="318.8" style="font-family:'Liberation Serif',serif;font-size:13px">C03</text>
<text x="146.3" y="334.6" style="font-family:'Liberation Serif',serif;font-size:13px">C07</text>
<text x="149.2" y="337.6" style="font-family:'Liberation Serif',serif;font-size:13px">C16</text>
<text x="177.0" y="339.9" style="font-family:'Liberation Serif',serif;font-size:13px">E07</text>
<text x="149.2" y="358.1" style="font-family:'Liberation Serif',serif;font-size:13px">G07</text>
<text x="160.1" y="354.8" style="font-family:'Liberation Serif',serif;font-size:13px">C39</text>
</g>
<path d="M508.0,469.5L667.0,385.2L936.5,433.2M530.7,457.5l6.9,1.2M553.4,445.4l6.9,1.2M576.1,433.4l6.9,1.2M598.9,421.3l6.9,1.2M621.6,409.3l6.9,1.2M644.3,397.2l6.9,1.2M667.0,385.2l6.9,1.2M667.0,385.2l-6.2,3.3M801.8,409.2l-6.2,3.3M734.4,397.2l-3.1,1.6M869.1,421.2l-3.1,1.6" stroke="#fbf8b4" stroke-width="1" fill="none"/>
<defs><linearGradient id="wg1" gradientUnits="userSpaceOnUse" x1="625.2" y1="478.2" x2="658.5" y2="291.1"><stop offset="0.000" stop-color="#4a7dbc"/><stop offset="0.104" stop-color="#5587c3"/><stop offset="0.181" stop-color="#6b9bd0"/><stop offset="0.259" stop-color="#82afdc"/><stop offset="0.363" stop-color="#a3c6e6"/><stop offset="0.518" stop-color="#c9e0f0"/><stop offset="0.674" stop-color="#e1f0f7"/><stop offset="0.829" stop-color="#e8f2f2"/><stop offset="0.985" stop-color="#ecf2ec"/></linearGradient><linearGradient id="wg2" gradientUnits="userSpaceOnUse" x1="779.0" y1="505.6" x2="690.0" y2="337.7"><stop offset="0.000" stop-color="#4a7dbc"/><stop offset="0.093" stop-color="#5587c3"/><stop offset="0.163" stop-color="#6b9bd0"/><stop offset="0.233" stop-color="#82afdc"/><stop offset="0.326" stop-color="#a3c6e6"/><stop offset="0.465" stop-color="#c9e0f0"/><stop offset="0.605" stop-color="#e1f0f7"/><stop offset="0.744" stop-color="#e8f2f2"/><stop offset="0.884" stop-color="#ecf2ec"/></linearGradient><clipPath id="wfc"><path d="M545,427.0L546,427.0L546,426.0L547,426.0L547,425.0L548,425.0L548,424.0L549,424.0L549,425.0L550,425.0L550,424.0L551,424.0L551,424.0L552,424.0L552,423.0L553,423.0L553,423.0L554,423.0L554,422.0L555,422.0L555,423.0L556,423.0L556,422.0L557,422.0L557,419.0L558,419.0L558,418.0L559,418.0L559,415.0L560,415.0L560,414.0L561,414.0L561,417.0L562,417.0L562,413.0L563,413.0L563,405.0L564,405.0L564,401.0L565,401.0L565,399.0L566,399.0L566,390.0L567,390.0L567,381.0L568,381.0L568,374.0L569,374.0L569,369.0L570,369.0L570,366.0L571,366.0L571,366.0L572,366.0L572,364.0L573,364.0L573,363.0L574,363.0L574,362.0L575,362.0L575,359.0L576,359.0L576,359.0L577,359.0L577,360.0L578,360.0L578,359.0L579,359.0L579,362.0L580,362.0L580,361.0L581,361.0L581,359.0L582,359.0L582,358.0L583,358.0L583,359.0L584,359.0L584,358.0L585,358.0L585,356.0L586,356.0L586,355.0L587,355.0L587,355.0L588,355.0L588,354.0L589,354.0L589,354.0L590,354.0L590,353.0L591,353.0L591,355.0L592,355.0L592,354.0L593,354.0L593,350.0L594,350.0L594,350.0L595,350.0L595,353.0L596,353.0L596,353.0L597,353.0L597,352.0L598,352.0L598,352.0L599,352.0L599,352.0L600,352.0L600,351.0L601,351.0L601,348.0L602,348.0L602,348.0L603,348.0L603,348.0L604,348.0L604,348.0L605,348.0L605,348.0L606,348.0L606,347.0L607,347.0L607,346.0L608,346.0L608,346.0L609,346.0L609,345.0L610,345.0L610,344.0L611,344.0L611,342.0L612,342.0L612,341.0L613,341.0L613,340.0L614,340.0L614,339.0L615,339.0L615,339.0L616,339.0L616,339.0L617,339.0L617,342.0L618,342.0L618,342.0L619,342.0L619,339.0L620,339.0L620,339.0L621,339.0L621,339.0L622,339.0L622,339.0L623,339.0L623,337.0L624,337.0L624,337.0L625,337.0L625,337.0L626,337.0L626,336.0L627,336.0L627,338.0L628,338.0L628,338.0L629,338.0L629,337.0L630,337.0L630,336.0L631,336.0L631,333.0L632,333.0L632,332.0L633,332.0L633,334.0L634,334.0L634,333.0L635,333.0L635,329.0L636,329.0L636,329.0L637,329.0L637,331.0L638,331.0L638,330.0L639,330.0L639,329.0L640,329.0L640,328.0L641,328.0L641,324.0L642,324.0L642,324.0L643,324.0L643,324.0L644,324.0L644,324.0L645,324.0L645,327.0L646,327.0L646,327.0L647,327.0L647,325.0L648,325.0L648,325.0L649,325.0L649,324.0L650,324.0L650,324.0L651,324.0L651,324.0L652,324.0L652,323.0L653,323.0L653,326.0L654,326.0L654,326.0L655,326.0L655,324.0L656,324.0L656,324.0L657,324.0L657,320.0L658,320.0L658,320.0L659,320.0L659,321.0L660,321.0L660,321.0L661,321.0L661,323.0L662,323.0L662,322.0L663,322.0L663,323.0L664,323.0L664,322.0L665,322.0L665,317.0L666,317.0L666,317.0L667,317.0L667,321.0L668,321.0L668,321.0L669,321.0L669,316.0L670,316.0L670,316.0L671,316.0L671,315.0L672,315.0L672,315.0L673,315.0L673,317.0L674,317.0L674,317.0L675,317.0L675,316.0L676,316.0L676,316.0L677,316.0L677,317.0L678,317.0L678,316.0L679,316.0L679,316.0L680,316.0L680,316.0L681,316.0L681,316.0L682,316.0L682,316.0L683,316.0L683,314.0L684,314.0L684,313.0L685,313.0L685,315.0L686,315.0L686,315.0L687,315.0L687,312.0L688,312.0L688,312.0L689,312.0L689,310.0L690,310.0L690,310.0L691,310.0L691,309.0L692,309.0L692,309.0L693,309.0L693,310.0L694,310.0L694,309.0L695,309.0L695,308.0L696,308.0L696,307.0L697,307.0L697,307.0L698,307.0L698,307.0L699,307.0L699,308.0L700,308.0L700,308.0L701,308.0L701,306.0L702,306.0L702,306.0L703,306.0L703,309.0L704,309.0L704,309.0L705,309.0L705,308.0L706,308.0L706,308.0L707,308.0L707,307.0L708,307.0L708,306.0L709,306.0L709,304.0L710,304.0L710,306.0L711,306.0L711,308.0L712,308.0L712,309.0L713,309.0L713,310.0L714,310.0L714,311.0L715,311.0L715,314.0L716,314.0L716,315.0L717,315.0L717,316.0L718,316.0L718,318.0L719,318.0L719,320.0L720,320.0L720,321.0L721,321.0L721,323.0L722,323.0L722,324.0L723,324.0L723,321.0L724,321.0L724,321.0L725,321.0L725,326.0L726,326.0L726,326.0L727,326.0L727,323.0L728,323.0L728,323.0L729,323.0L729,324.0L730,324.0L730,325.0L731,325.0L731,327.0L732,327.0L732,327.0L733,327.0L733,327.0L734,327.0L734,326.0L735,326.0L735,327.0L736,327.0L736,326.0L737,326.0L737,324.0L738,324.0L738,324.0L739,324.0L739,322.0L740,322.0L740,322.0L741,322.0L741,325.0L742,325.0L742,325.0L743,325.0L743,323.0L744,323.0L744,323.0L745,323.0L745,321.0L746,321.0L746,321.0L747,321.0L747,319.0L748,319.0L748,319.0L749,319.0L749,320.0L750,320.0L750,319.0L751,319.0L751,322.0L752,322.0L752,322.0L753,322.0L753,318.0L754,318.0L754,318.0L755,318.0L755,321.0L756,321.0L756,320.0L757,320.0L757,316.0L758,316.0L758,316.0L759,316.0L759,316.0L760,316.0L760,315.0L761,315.0L761,315.0L762,315.0L762,315.0L763,315.0L763,318.0L764,318.0L764,318.0L765,318.0L765,318.0L766,318.0L766,319.0L767,319.0L767,315.0L768,315.0L768,316.0L769,316.0L769,319.0L770,319.0L770,320.0L771,320.0L771,320.0L772,320.0L772,321.0L773,321.0L773,318.0L774,318.0L774,319.0L775,319.0L775,322.0L776,322.0L776,322.0L777,322.0L777,322.0L778,322.0L778,323.0L779,323.0L779,321.0L780,321.0L780,323.0L781,323.0L781,325.0L782,325.0L782,327.0L783,327.0L783,330.0L784,330.0L784,330.0L785,330.0L785,329.0L786,329.0L786,329.0L787,329.0L787,331.0L788,331.0L788,330.0L789,330.0L789,326.0L790,326.0L790,326.0L791,326.0L791,329.0L792,329.0L792,329.0L793,329.0L793,326.0L794,326.0L794,325.0L795,325.0L795,324.0L796,324.0L796,323.0L797,323.0L797,324.0L798,324.0L798,324.0L799,324.0L799,323.0L800,323.0L800,323.0L801,323.0L801,324.0L802,324.0L802,324.0L803,324.0L803,324.0L804,324.0L804,325.0L805,325.0L805,325.0L806,325.0L806,326.0L807,326.0L807,327.0L808,327.0L808,330.0L809,330.0L809,332.0L810,332.0L810,334.0L811,334.0L811,339.0L812,339.0L812,340.0L813,340.0L813,340.0L814,340.0L814,340.0L815,340.0L815,340.0L816,340.0L816,340.0L817,340.0L817,340.0L818,340.0L818,340.0L819,340.0L819,338.0L820,338.0L820,337.0L821,337.0L821,339.0L822,339.0L822,339.0L823,339.0L823,339.0L824,339.0L824,340.0L825,340.0L825,342.0L826,342.0L826,343.0L827,343.0L827,345.0L828,345.0L828,346.0L829,346.0L829,345.0L830,345.0L830,347.0L831,347.0L831,352.0L832,352.0L832,354.0L833,354.0L833,356.0L834,356.0L834,357.0L835,357.0L835,358.0L836,358.0L836,359.0L837,359.0L837,355.0L838,355.0L838,355.0L839,355.0L839,357.0L840,357.0L840,357.0L841,357.0L841,360.0L842,360.0L842,361.0L843,361.0L843,357.0L844,357.0L844,357.0L845,357.0L845,359.0L846,359.0L846,359.0L847,359.0L847,359.0L848,359.0L848,359.0L849,359.0L849,358.0L850,358.0L850,358.0L851,358.0L851,359.0L852,359.0L852,359.0L853,359.0L853,359.0L854,359.0L854,359.0L855,359.0L855,360.0L856,360.0L856,360.0L857,360.0L857,359.0L858,359.0L858,359.0L859,359.0L859,360.0L860,360.0L860,360.0L861,360.0L861,363.0L862,363.0L862,363.0L863,363.0L863,361.0L864,361.0L864,361.0L865,361.0L865,363.0L866,363.0L866,363.0L867,363.0L867,361.0L868,361.0L868,361.0L869,361.0L869,364.0L870,364.0L870,364.0L871,364.0L871,362.0L872,362.0L872,362.0L873,362.0L873,364.0L874,364.0L874,364.0L875,364.0L875,364.0L876,364.0L876,364.0L877,364.0L877,364.0L878,364.0L878,365.0L879,365.0L879,365.0L880,365.0L880,365.0L881,365.0L881,365.0L882,365.0L882,365.0L883,365.0L883,366.0L884,366.0L884,366.0L885,366.0L885,365.0L886,365.0L886,366.0L887,366.0L887,365.0L888,365.0L888,365.0L889,365.0L889,364.0L890,364.0L890,364.0L891,364.0L891,367.0L892,367.0L892,368.0L893,368.0L893,367.0L894,367.0L894,368.0L895,368.0L895,368.0L896,368.0L896,369.0L897,369.0L897,374.0L898,374.0L898,380.0L899,380.0L899,385.0L900,385.0L900,390.0L901,390.0L901,390.0L902,390.0L902,391.0L903,391.0L903,395.0L904,395.0L904,396.0L905,396.0L905,396.0L906,396.0L906,397.0L907,397.0L907,395.0L908,395.0L908,396.0L909,396.0L909,398.0L910,398.0L910,398.0L911,398.0L911,397.0L912,397.0L912,397.0L913,397.0L913,393.0L914,393.0L914,393.0L915,393.0L915,392.0L916,392.0L916,392.0L917,392.0L917,392.0L918,392.0L918,392.0L919,392.0L919,392.0L920,392.0L920,404.0L919,404.0L919,401.0L918,401.0L918,402.0L917,402.0L917,407.0L916,407.0L916,408.0L915,408.0L915,402.0L914,402.0L914,403.0L913,403.0L913,409.0L912,409.0L912,410.0L911,410.0L911,411.0L910,411.0L910,412.0L909,412.0L909,407.0L908,407.0L908,407.0L907,407.0L907,409.0L906,409.0L906,408.0L905,408.0L905,411.0L904,411.0L904,411.0L903,411.0L903,411.0L902,411.0L902,411.0L901,411.0L901,412.0L900,412.0L900,413.0L899,413.0L899,409.0L898,409.0L898,410.0L897,410.0L897,414.0L896,414.0L896,414.0L895,414.0L895,413.0L894,413.0L894,413.0L893,413.0L893,418.0L892,418.0L892,418.0L891,418.0L891,413.0L890,413.0L890,413.0L889,413.0L889,414.0L888,414.0L888,412.0L887,412.0L887,418.0L886,418.0L886,417.0L885,417.0L885,408.0L884,408.0L884,407.0L883,407.0L883,407.0L882,407.0L882,407.0L881,407.0L881,408.0L880,408.0L880,409.0L879,409.0L879,409.0L878,409.0L878,410.0L877,410.0L877,410.0L876,410.0L876,409.0L875,409.0L875,412.0L874,412.0L874,410.0L873,410.0L873,406.0L872,406.0L872,405.0L871,405.0L871,399.0L870,399.0L870,398.0L869,398.0L869,402.0L868,402.0L868,401.0L867,401.0L867,398.0L866,398.0L866,399.0L865,399.0L865,400.0L864,400.0L864,400.0L863,400.0L863,403.0L862,403.0L862,403.0L861,403.0L861,405.0L860,405.0L860,406.0L859,406.0L859,400.0L858,400.0L858,400.0L857,400.0L857,409.0L856,409.0L856,410.0L855,410.0L855,408.0L854,408.0L854,408.0L853,408.0L853,405.0L852,405.0L852,404.0L851,404.0L851,407.0L850,407.0L850,406.0L849,406.0L849,397.0L848,397.0L848,397.0L847,397.0L847,397.0L846,397.0L846,397.0L845,397.0L845,397.0L844,397.0L844,397.0L843,397.0L843,398.0L842,398.0L842,398.0L841,398.0L841,407.0L840,407.0L840,408.0L839,408.0L839,408.0L838,408.0L838,409.0L837,409.0L837,404.0L836,404.0L836,405.0L835,405.0L835,411.0L834,411.0L834,411.0L833,411.0L833,405.0L832,405.0L832,405.0L831,405.0L831,407.0L830,407.0L830,408.0L829,408.0L829,411.0L828,411.0L828,411.0L827,411.0L827,409.0L826,409.0L826,409.0L825,409.0L825,412.0L824,412.0L824,412.0L823,412.0L823,411.0L822,411.0L822,412.0L821,412.0L821,415.0L820,415.0L820,416.0L819,416.0L819,419.0L818,419.0L818,420.0L817,420.0L817,420.0L816,420.0L816,421.0L815,421.0L815,417.0L814,417.0L814,418.0L813,418.0L813,421.0L812,421.0L812,422.0L811,422.0L811,423.0L810,423.0L810,424.0L809,424.0L809,429.0L808,429.0L808,430.0L807,430.0L807,429.0L806,429.0L806,430.0L805,430.0L805,429.0L804,429.0L804,430.0L803,430.0L803,432.0L802,432.0L802,436.0L801,436.0L801,441.0L800,441.0L800,445.0L799,445.0L799,456.0L798,456.0L798,459.0L797,459.0L797,461.0L796,461.0L796,463.0L795,463.0L795,457.0L794,457.0L794,459.0L793,459.0L793,460.0L792,460.0L792,462.0L791,462.0L791,470.0L790,470.0L790,472.0L789,472.0L789,473.0L788,473.0L788,474.0L787,474.0L787,475.0L786,475.0L786,476.0L785,476.0L785,478.0L784,478.0L784,479.0L783,479.0L783,477.0L782,477.0L782,478.0L781,478.0L781,477.0L780,477.0L780,478.0L779,478.0L779,483.0L778,483.0L778,482.0L777,482.0L777,477.0L776,477.0L776,477.0L775,477.0L775,479.0L774,479.0L774,479.0L773,479.0L773,478.0L772,478.0L772,478.0L771,478.0L771,480.0L770,480.0L770,480.0L769,480.0L769,473.0L768,473.0L768,472.0L767,472.0L767,479.0L766,479.0L766,479.0L765,479.0L765,473.0L764,473.0L764,473.0L763,473.0L763,483.0L762,483.0L762,483.0L761,483.0L761,480.0L760,480.0L760,480.0L759,480.0L759,479.0L758,479.0L758,479.0L757,479.0L757,482.0L756,482.0L756,482.0L755,482.0L755,473.0L754,473.0L754,473.0L753,473.0L753,483.0L752,483.0L752,482.0L751,482.0L751,481.0L750,481.0L750,480.0L749,480.0L749,477.0L748,477.0L748,476.0L747,476.0L747,477.0L746,477.0L746,476.0L745,476.0L745,478.0L744,478.0L744,477.0L743,477.0L743,470.0L742,470.0L742,469.0L741,469.0L741,467.0L740,467.0L740,468.0L739,468.0L739,473.0L738,473.0L738,474.0L737,474.0L737,474.0L736,474.0L736,475.0L735,475.0L735,473.0L734,473.0L734,473.0L733,473.0L733,474.0L732,474.0L732,475.0L731,475.0L731,478.0L730,478.0L730,477.0L729,477.0L729,472.0L728,472.0L728,469.0L727,469.0L727,469.0L726,469.0L726,467.0L725,467.0L725,467.0L724,467.0L724,466.0L723,466.0L723,461.0L722,461.0L722,460.0L721,460.0L721,463.0L720,463.0L720,462.0L719,462.0L719,460.0L718,460.0L718,459.0L717,459.0L717,463.0L716,463.0L716,462.0L715,462.0L715,454.0L714,454.0L714,454.0L713,454.0L713,458.0L712,458.0L712,458.0L711,458.0L711,454.0L710,454.0L710,455.0L709,455.0L709,459.0L708,459.0L708,459.0L707,459.0L707,456.0L706,456.0L706,456.0L705,456.0L705,460.0L704,460.0L704,460.0L703,460.0L703,460.0L702,460.0L702,460.0L701,460.0L701,454.0L700,454.0L700,450.0L699,450.0L699,447.0L698,447.0L698,444.0L697,444.0L697,445.0L696,445.0L696,447.0L695,447.0L695,447.0L694,447.0L694,448.0L693,448.0L693,454.0L692,454.0L692,455.0L691,455.0L691,452.0L690,452.0L690,453.0L689,453.0L689,456.0L688,456.0L688,458.0L687,458.0L687,460.0L686,460.0L686,461.0L685,461.0L685,464.0L684,464.0L684,464.0L683,464.0L683,457.0L682,457.0L682,457.0L681,457.0L681,461.0L680,461.0L680,459.0L679,459.0L679,461.0L678,461.0L678,459.0L677,459.0L677,453.0L676,453.0L676,450.0L675,450.0L675,446.0L674,446.0L674,443.0L673,443.0L673,441.0L672,441.0L672,438.0L671,438.0L671,432.0L670,432.0L670,429.0L669,429.0L669,426.0L668,426.0L668,427.0L667,427.0L667,437.0L666,437.0L666,437.0L665,437.0L665,435.0L664,435.0L664,436.0L663,436.0L663,434.0L662,434.0L662,435.0L661,435.0L661,440.0L660,440.0L660,441.0L659,441.0L659,438.0L658,438.0L658,439.0L657,439.0L657,441.0L656,441.0L656,443.0L655,443.0L655,447.0L654,447.0L654,448.0L653,448.0L653,450.0L652,450.0L652,451.0L651,451.0L651,448.0L650,448.0L650,448.0L649,448.0L649,448.0L648,448.0L648,448.0L647,448.0L647,451.0L646,451.0L646,452.0L645,452.0L645,453.0L644,453.0L644,454.0L643,454.0L643,459.0L642,459.0L642,459.0L641,459.0L641,458.0L640,458.0L640,458.0L639,458.0L639,460.0L638,460.0L638,460.0L637,460.0L637,454.0L636,454.0L636,454.0L635,454.0L635,449.0L634,449.0L634,449.0L633,449.0L633,457.0L632,457.0L632,456.0L631,456.0L631,453.0L630,453.0L630,453.0L629,453.0L629,449.0L628,449.0L628,448.0L627,448.0L627,448.0L626,448.0L626,445.0L625,445.0L625,445.0L624,445.0L624,443.0L623,443.0L623,445.0L622,445.0L622,442.0L621,442.0L621,442.0L620,442.0L620,442.0L619,442.0L619,434.0L618,434.0L618,433.0L617,433.0L617,436.0L616,436.0L616,435.0L615,435.0L615,434.0L614,434.0L614,434.0L613,434.0L613,431.0L612,431.0L612,430.0L611,430.0L611,432.0L610,432.0L610,431.0L609,431.0L609,425.0L608,425.0L608,424.0L607,424.0L607,428.0L606,428.0L606,426.0L605,426.0L605,421.0L604,421.0L604,422.0L603,422.0L603,418.0L602,418.0L602,420.0L601,420.0L601,428.0L600,428.0L600,429.0L599,429.0L599,427.0L598,427.0L598,428.0L597,428.0L597,427.0L596,427.0L596,428.0L595,428.0L595,433.0L594,433.0L594,435.0L593,435.0L593,435.0L592,435.0L592,437.0L591,437.0L591,437.0L590,437.0L590,438.0L589,438.0L589,438.0L588,438.0L588,437.0L587,437.0L587,445.0L586,445.0L586,445.0L585,445.0L585,440.0L584,440.0L584,440.0L583,440.0L583,441.0L582,441.0L582,442.0L581,442.0L581,446.0L580,446.0L580,447.0L579,447.0L579,440.0L578,440.0L578,440.0L577,440.0L577,446.0L576,446.0L576,446.0L575,446.0L575,449.0L574,449.0L574,448.0L573,448.0L573,444.0L572,444.0L572,443.0L571,443.0L571,442.0L570,442.0L570,441.0L569,441.0L569,436.0L568,436.0L568,435.0L567,435.0L567,440.0L566,440.0L566,440.0L565,440.0L565,438.0L564,438.0L564,437.0L563,437.0L563,437.0L562,437.0L562,437.0L561,437.0L561,437.0L560,437.0L560,437.0L559,437.0L559,435.0L558,435.0L558,434.0L557,434.0L557,436.0L556,436.0L556,436.0L555,436.0L555,440.0L554,440.0L554,440.0L553,440.0L553,435.0L552,435.0L552,434.0L551,434.0L551,435.0L550,435.0L550,435.0L549,435.0L549,439.0L548,439.0L548,439.0L547,439.0L547,434.0L546,434.0L546,434.0L545,434.0Z"/></clipPath><linearGradient id="wmg" gradientUnits="userSpaceOnUse" x1="778" y1="0" x2="815" y2="0"><stop offset="0" stop-color="#000"/><stop offset="1" stop-color="#fff"/></linearGradient><mask id="wm" maskUnits="userSpaceOnUse" x="500" y="250" width="450" height="260"><rect x="500" y="250" width="450" height="260" fill="url(#wmg)"/></mask><filter id="wb" x="-5%" y="-50%" width="110%" height="200%"><feGaussianBlur stdDeviation="3"/></filter><linearGradient id="wl" gradientUnits="userSpaceOnUse" x1="560" y1="0" x2="622" y2="0"><stop offset="0" stop-color="#5587c3" stop-opacity="0.35"/><stop offset="1" stop-color="#5587c3" stop-opacity="0"/></linearGradient><filter id="wb2" x="-50%" y="-50%" width="200%" height="200%"><feGaussianBlur stdDeviation="8"/></filter></defs>
<g clip-path="url(#wfc)"><rect x="540" y="290" width="390" height="200" fill="url(#wg1)"/><rect x="540" y="290" width="390" height="200" fill="url(#wg2)" mask="url(#wm)"/><rect x="540" y="290" width="90" height="200" fill="url(#wl)"/><ellipse cx="748" cy="466" rx="52" ry="30" fill="#4a7dbc" fill-opacity="0.5" filter="url(#wb2)"/><ellipse cx="880" cy="408" rx="40" ry="14" fill="#4a7dbc" fill-opacity="0.4" filter="url(#wb2)"/><ellipse cx="585" cy="436" rx="40" ry="18" fill="#4a7dbc" fill-opacity="0.35" filter="url(#wb2)"/><polyline filter="url(#wb)" fill="none" stroke="#f5f0d6" stroke-width="11" stroke-opacity="0.85" points="612,347.3 618,345.7 624,344.0 630,339.5 636,334.6 642,331.4 648,330.2 654,328.8 660,326.6 666,324.5 672,322.4 678,320.4 684,318.4 690,316.6 696,314.9 702,313.2 708,311.5 714,317.3 720,327.1 726,329.3 732,330.2 738,329.0 744,327.6 750,325.4 756,323.4 762,321.7 768,323.0 774,324.5 780,329.7 786,334.7 792,332.1 798,329.6"/><polyline filter="url(#wb)" fill="none" stroke="#f5f0d6" stroke-width="10" stroke-opacity="0.6" points="628,380 650,372 677,363 700,356 720,348 742,340 761,334 779,331"/><path d="M617,376L611.1,395" stroke="#6b9bd0" stroke-opacity="0.05" stroke-width="2"/><path d="M834,373L835.3,392" stroke="#ffffff" stroke-opacity="0.03" stroke-width="2"/><path d="M623,348L618.0,377" stroke="#ffffff" stroke-opacity="0.04" stroke-width="3"/><path d="M702,343L696.7,398" stroke="#6b9bd0" stroke-opacity="0.06" stroke-width="1"/><path d="M663,347L663.4,373" stroke="#ffffff" stroke-opacity="0.06" stroke-width="1"/><path d="M881,384L877.7,395" stroke="#ffffff" stroke-opacity="0.05" stroke-width="3"/><path d="M707,356L708.8,389" stroke="#ffffff" stroke-opacity="0.07" stroke-width="2"/><path d="M595,361L590.6,401" stroke="#ffffff" stroke-opacity="0.05" stroke-width="3"/><path d="M826,367L820.3,386" stroke="#ffffff" stroke-opacity="0.07" stroke-width="1"/><path d="M828,364L825.6,382" stroke="#6b9bd0" stroke-opacity="0.04" stroke-width="3"/><path d="M823,360L824.9,394" stroke="#ffffff" stroke-opacity="0.06" stroke-width="2"/><path d="M671,367L667.8,417" stroke="#ffffff" stroke-opacity="0.05" stroke-width="1"/><path d="M636,336L630.4,384" stroke="#ffffff" stroke-opacity="0.05" stroke-width="3"/><path d="M829,368L823.4,387" stroke="#ffffff" stroke-opacity="0.06" stroke-width="2"/><path d="M650,346L651.8,371" stroke="#ffffff" stroke-opacity="0.07" stroke-width="2"/><path d="M695,318L689.0,383" stroke="#ffffff" stroke-opacity="0.04" stroke-width="3"/><path d="M612,365L612.2,397" stroke="#ffffff" stroke-opacity="0.04" stroke-width="1"/><path d="M705,370L701.4,407" stroke="#ffffff" stroke-opacity="0.05" stroke-width="2"/><path d="M613,370L612.7,403" stroke="#ffffff" stroke-opacity="0.06" stroke-width="3"/><path d="M736,380L735.1,433" stroke="#ffffff" stroke-opacity="0.06" stroke-width="1"/><path d="M832,370L832.0,393" stroke="#ffffff" stroke-opacity="0.07" stroke-width="1"/><path d="M869,378L863.3,395" stroke="#ffffff" stroke-opacity="0.03" stroke-width="2"/><path d="M623,361L622.0,397" stroke="#ffffff" stroke-opacity="0.06" stroke-width="2"/><path d="M820,351L818.0,376" stroke="#ffffff" stroke-opacity="0.06" stroke-width="1"/><path d="M839,361L839.8,381" stroke="#ffffff" stroke-opacity="0.06" stroke-width="2"/><path d="M675,336L672.1,389" stroke="#6b9bd0" stroke-opacity="0.05" stroke-width="3"/><path d="M717,373L712.2,429" stroke="#ffffff" stroke-opacity="0.03" stroke-width="2"/><path d="M903,399L897.5,403" stroke="#ffffff" stroke-opacity="0.03" stroke-width="2"/><path d="M620,375L616.3,414" stroke="#ffffff" stroke-opacity="0.06" stroke-width="3"/><path d="M808,368L802.7,415" stroke="#ffffff" stroke-opacity="0.04" stroke-width="3"/><path d="M578,374L575.1,393" stroke="#6b9bd0" stroke-opacity="0.07" stroke-width="2"/><path d="M608,369L603.1,389" stroke="#ffffff" stroke-opacity="0.07" stroke-width="2"/><path d="M627,379L622.3,410" stroke="#6b9bd0" stroke-opacity="0.05" stroke-width="3"/><path d="M800,351L796.5,401" stroke="#6b9bd0" stroke-opacity="0.04" stroke-width="2"/><path d="M570,382L571.4,404" stroke="#6b9bd0" stroke-opacity="0.03" stroke-width="1"/><path d="M718,342L716.7,373" stroke="#6b9bd0" stroke-opacity="0.07" stroke-width="2"/><path d="M789,383L789.7,448" stroke="#ffffff" stroke-opacity="0.03" stroke-width="2"/><path d="M895,390L891.5,402" stroke="#ffffff" stroke-opacity="0.05" stroke-width="2"/><path d="M789,391L790.5,455" stroke="#6b9bd0" stroke-opacity="0.07" stroke-width="2"/><path d="M611,348L606.1,385" stroke="#6b9bd0" stroke-opacity="0.05" stroke-width="2"/><path d="M818,344L815.3,381" stroke="#ffffff" stroke-opacity="0.04" stroke-width="2"/><path d="M722,345L717.9,406" stroke="#ffffff" stroke-opacity="0.05" stroke-width="3"/><path d="M855,375L853.0,386" stroke="#ffffff" stroke-opacity="0.03" stroke-width="3"/><path d="M851,365L849.4,387" stroke="#6b9bd0" stroke-opacity="0.05" stroke-width="2"/><path d="M616,352L612.1,387" stroke="#ffffff" stroke-opacity="0.04" stroke-width="2"/><path d="M580,391L575.7,418" stroke="#6b9bd0" stroke-opacity="0.06" stroke-width="2"/><path d="M743,381L741.0,434" stroke="#ffffff" stroke-opacity="0.04" stroke-width="2"/><path d="M617,356L614.5,383" stroke="#6b9bd0" stroke-opacity="0.06" stroke-width="2"/><path d="M581,367L578.9,394" stroke="#6b9bd0" stroke-opacity="0.07" stroke-width="1"/><path d="M770,393L766.0,470" stroke="#6b9bd0" stroke-opacity="0.07" stroke-width="1"/><path d="M684,330L683.8,383" stroke="#ffffff" stroke-opacity="0.07" stroke-width="3"/><path d="M613,368L614.4,388" stroke="#ffffff" stroke-opacity="0.04" stroke-width="2"/><path d="M635,371L629.9,416" stroke="#6b9bd0" stroke-opacity="0.06" stroke-width="1"/><path d="M723,363L723.3,417" stroke="#6b9bd0" stroke-opacity="0.04" stroke-width="1"/><path d="M575,385L574.2,428" stroke="#ffffff" stroke-opacity="0.07" stroke-width="2"/><path d="M813,362L812.6,390" stroke="#ffffff" stroke-opacity="0.07" stroke-width="2"/><path d="M598,354L593.8,381" stroke="#6b9bd0" stroke-opacity="0.03" stroke-width="3"/><path d="M759,341L755.9,375" stroke="#ffffff" stroke-opacity="0.06" stroke-width="3"/><path d="M671,323L672.8,357" stroke="#ffffff" stroke-opacity="0.04" stroke-width="2"/><path d="M669,335L668.0,365" stroke="#ffffff" stroke-opacity="0.03" stroke-width="2"/><path d="M684,352L679.2,422" stroke="#ffffff" stroke-opacity="0.07" stroke-width="3"/><path d="M597,361L596.7,400" stroke="#ffffff" stroke-opacity="0.05" stroke-width="2"/><path d="M771,358L773.0,425" stroke="#ffffff" stroke-opacity="0.06" stroke-width="2"/><path d="M738,343L737.3,403" stroke="#6b9bd0" stroke-opacity="0.03" stroke-width="3"/><path d="M761,396L757.2,449" stroke="#ffffff" stroke-opacity="0.03" stroke-width="2"/><path d="M785,399L785.1,433" stroke="#ffffff" stroke-opacity="0.05" stroke-width="2"/><path d="M791,339L792.4,397" stroke="#ffffff" stroke-opacity="0.04" stroke-width="2"/><path d="M735,356L731.0,427" stroke="#ffffff" stroke-opacity="0.06" stroke-width="3"/><path d="M590,373L590.0,402" stroke="#ffffff" stroke-opacity="0.04" stroke-width="2"/><path d="M755,345L754.7,424" stroke="#ffffff" stroke-opacity="0.04" stroke-width="2"/><path d="M711,335L706.9,398" stroke="#ffffff" stroke-opacity="0.03" stroke-width="3"/><path d="M808,376L808.5,405" stroke="#ffffff" stroke-opacity="0.07" stroke-width="2"/><path d="M824,349L824.2,381" stroke="#ffffff" stroke-opacity="0.06" stroke-width="2"/><path d="M737,389L734.1,440" stroke="#ffffff" stroke-opacity="0.05" stroke-width="2"/><path d="M696,341L692.6,396" stroke="#6b9bd0" stroke-opacity="0.05" stroke-width="3"/><path d="M623,390L620.4,420" stroke="#ffffff" stroke-opacity="0.04" stroke-width="3"/><path d="M658,340L658.8,379" stroke="#ffffff" stroke-opacity="0.06" stroke-width="1"/><path d="M720,347L716.1,399" stroke="#ffffff" stroke-opacity="0.04" stroke-width="3"/><path d="M696,327L694.6,365" stroke="#ffffff" stroke-opacity="0.07" stroke-width="2"/><path d="M603,364L597.8,401" stroke="#ffffff" stroke-opacity="0.06" stroke-width="3"/><path d="M588,363L589.3,393" stroke="#ffffff" stroke-opacity="0.06" stroke-width="1"/><path d="M720,343L717.0,373" stroke="#ffffff" stroke-opacity="0.07" stroke-width="2"/><path d="M799,363L797.8,417" stroke="#ffffff" stroke-opacity="0.03" stroke-width="2"/><path d="M681,323L677.0,368" stroke="#ffffff" stroke-opacity="0.04" stroke-width="2"/><path d="M575,396L571.5,423" stroke="#ffffff" stroke-opacity="0.04" stroke-width="2"/><path d="M586,390L586.4,422" stroke="#ffffff" stroke-opacity="0.05" stroke-width="2"/><path d="M897,384L894.3,399" stroke="#6b9bd0" stroke-opacity="0.06" stroke-width="2"/><path d="M727,359L721.1,391" stroke="#ffffff" stroke-opacity="0.05" stroke-width="2"/><path d="M899,388L896.5,399" stroke="#ffffff" stroke-opacity="0.07" stroke-width="2"/><path d="M786,343L781.3,376" stroke="#ffffff" stroke-opacity="0.05" stroke-width="1"/><path d="M596,374L595.0,406" stroke="#6b9bd0" stroke-opacity="0.03" stroke-width="2"/><path d="M828,353L829.4,373" stroke="#ffffff" stroke-opacity="0.05" stroke-width="1"/><path d="M766,360L766.7,431" stroke="#ffffff" stroke-opacity="0.04" stroke-width="1"/><path d="M817,353L816.7,383" stroke="#6b9bd0" stroke-opacity="0.03" stroke-width="2"/><path d="M897,388L892.6,399" stroke="#6b9bd0" stroke-opacity="0.05" stroke-width="3"/><path d="M663,355L658.0,379" stroke="#ffffff" stroke-opacity="0.05" stroke-width="2"/><path d="M668,326L664.6,367" stroke="#ffffff" stroke-opacity="0.06" stroke-width="3"/><path d="M876,375L872.5,398" stroke="#ffffff" stroke-opacity="0.06" stroke-width="2"/><path d="M787,361L781.0,405" stroke="#6b9bd0" stroke-opacity="0.04" stroke-width="3"/><path d="M808,346L808.5,386" stroke="#6b9bd0" stroke-opacity="0.06" stroke-width="3"/><path d="M624,347L621.5,380" stroke="#ffffff" stroke-opacity="0.03" stroke-width="1"/><path d="M590,383L588.1,403" stroke="#ffffff" stroke-opacity="0.06" stroke-width="1"/><path d="M828,375L822.5,402" stroke="#ffffff" stroke-opacity="0.03" stroke-width="1"/><path d="M669,330L670.3,382" stroke="#ffffff" stroke-opacity="0.07" stroke-width="2"/><path d="M683,324L684.2,370" stroke="#ffffff" stroke-opacity="0.04" stroke-width="2"/><path d="M803,335L799.1,374" stroke="#6b9bd0" stroke-opacity="0.04" stroke-width="2"/><path d="M733,357L734.5,397" stroke="#6b9bd0" stroke-opacity="0.04" stroke-width="2"/><path d="M762,336L756.4,407" stroke="#ffffff" stroke-opacity="0.06" stroke-width="2"/><path d="M801,357L799.3,401" stroke="#ffffff" stroke-opacity="0.04" stroke-width="3"/><path d="M760,344L760.1,424" stroke="#ffffff" stroke-opacity="0.04" stroke-width="3"/></g>
<path d="M508.0,469.5L777.5,517.5L936.5,433.2M507.5,297.8V469.5M507.5,298.5h7.5M507.5,326.5h7.5M507.5,355.5h7.5M507.5,384.5h7.5M507.5,412.5h7.5M507.5,441.5h7.5M507.5,470.5h7.5M777.5,517.5l-6.9,-1.2M800.2,505.5l-6.9,-1.2M822.9,493.4l-6.9,-1.2M845.6,481.4l-6.9,-1.2M868.4,469.3l-6.9,-1.2M891.1,457.3l-6.9,-1.2M913.8,445.2l-6.9,-1.2M936.5,433.2l-6.9,-1.2M508.0,469.5l6.2,-3.3M642.8,493.5l6.2,-3.3M777.5,517.5l6.2,-3.3M575.4,481.5l3.1,-1.6M710.1,505.5l3.1,-1.6" stroke="#fbf8b4" stroke-width="1" fill="none"/>
<path d="M625.5,478.2V308.2L762.5,234.2V404.2Z" stroke="#ff0000" stroke-width="1" fill="none"/>
<line x1="81.5" y1="646.5" x2="988.5" y2="646.5" stroke="#c8c8c8" stroke-width="1" stroke-dasharray="2 2"/>
<line x1="73.5" y1="646.5" x2="81.5" y2="646.5" stroke="#fbf8b4"/>
<line x1="988.5" y1="646.5" x2="996.5" y2="646.5" stroke="#fbf8b4"/>
<line x1="81.5" y1="682.5" x2="988.5" y2="682.5" stroke="#c8c8c8" stroke-width="1" stroke-dasharray="2 2"/>
<line x1="73.5" y1="682.5" x2="81.5" y2="682.5" stroke="#fbf8b4"/>
<line x1="988.5" y1="682.5" x2="996.5" y2="682.5" stroke="#fbf8b4"/>
<line x1="535.5" y1="628.5" x2="535.5" y2="711.5" stroke="#c8c8c8" stroke-width="1" stroke-dasharray="2 2"/>
<path d="M535.5,620.5v8M535.5,719.5v-8" stroke="#fbf8b4"/>
<path d="M304.5,620.5v4M304.5,719.5v-4" stroke="#fbf8b4"/>
<path d="M765.5,620.5v4M765.5,719.5v-4" stroke="#fbf8b4"/>
<clipPath id="bc"><rect x="73.5" y="620.5" width="923.0" height="99.0"/></clipPath>
<polyline clip-path="url(#bc)" fill="none" stroke="#ffff00" stroke-width="1" points="235.0,696.4 258.1,701.2 281.2,693.2 304.2,688.3 327.3,726.0 350.4,674.7 373.5,690.4 419.6,639.3 442.7,644.2 465.8,647.5 488.8,652.2 511.9,666.4 535.0,695.1 558.1,679.7"/>
<polyline clip-path="url(#bc)" fill="none" stroke="#ffff00" stroke-width="1" points="696.5,672.9 719.6,700.6"/>
<rect x="649.9" y="688.7" width="1" height="1" fill="#ffff00"/>
<rect x="765.2" y="696.8" width="1" height="1" fill="#ffff00"/>
<rect x="834.5" y="698.9" width="1" height="1" fill="#ffff00"/>
<line x1="419.5" y1="620.5" x2="419.5" y2="719.5" stroke="#ff0000" stroke-width="1"/>
<rect x="73.5" y="620.5" width="923.0" height="99.0" fill="none" stroke="#fbf8b4" stroke-width="1"/>
<text x="67" y="29.5" fill="#fbf8b4" text-anchor="start" >Sensor Node</text>
<text x="67" y="51" fill="#fbf8b4" text-anchor="start" >Name</text>
<text x="67" y="73" fill="#fbf8b4" text-anchor="start" >Lat (deg)</text>
<text x="67" y="95" fill="#fbf8b4" text-anchor="start" >Lon (deg)</text>
<text x="152" y="51" fill="#ffff00" text-anchor="start" >FARM_SN3</text>
<text x="152" y="73" fill="#ffff00" text-anchor="start" >-36.740848541</text>
<text x="152" y="95" fill="#ffff00" text-anchor="start" >145.266326904</text>
<text x="339" y="29.5" fill="#fbf8b4" text-anchor="start" >Event</text>
<text x="339" y="51" fill="#fbf8b4" text-anchor="start" >Start Time (UTC)</text>
<text x="339" y="73" fill="#fbf8b4" text-anchor="start" >End Time (UTC)</text>
<text x="339" y="95" fill="#fbf8b4" text-anchor="start" >Period (sec)</text>
<text x="480" y="51" fill="#ffff00" text-anchor="start" >2026-01-24T08:17:21Z</text>
<text x="480" y="73" fill="#ffff00" text-anchor="start" >2026-01-24T08:17:38Z</text>
<text x="480" y="95" fill="#ffff00" text-anchor="start" >17</text>
<text x="668" y="29.5" fill="#fbf8b4" text-anchor="start" >Interference</text>
<text x="668" y="51" fill="#fbf8b4" text-anchor="start" >Band</text>
<text x="668" y="73" fill="#fbf8b4" text-anchor="start" >Type</text>
<text x="668" y="95" fill="#fbf8b4" text-anchor="start" >Max Rx Power (dBm)</text>
<text x="855" y="51" fill="#ffff00" text-anchor="start" >L2</text>
<text x="855" y="73" fill="#ffff00" text-anchor="start" >Jammer</text>
<text x="855" y="95" fill="#ffff00" text-anchor="start" >-76.31</text>
<text x="226" y="180" fill="#fbf8b4" text-anchor="middle" >Sky Plot at the Epoch of Max Rx Power</text>
<text x="226" y="195" fill="#fbf8b4" text-anchor="middle" >2026-01-24T08:17:15.000Z</text>
<text x="722" y="187" fill="#fbf8b4" text-anchor="middle" >Waterfall Plot</text>
<text x="533" y="602" fill="#fbf8b4" text-anchor="middle" >Max Rx Power</text>
<text x="533" y="760" fill="#fbf8b4" text-anchor="middle" >Time (UTC)</text>
<text x="63" y="649.8" fill="#fbf8b4" text-anchor="end" >-80</text>
<text x="63" y="686.3" fill="#fbf8b4" text-anchor="end" >-100</text>
<text x="63" y="722.3" fill="#fbf8b4" text-anchor="end" >-120</text>
<text x="72.9" y="737.6" fill="#fbf8b4" text-anchor="middle" >08:17:00</text>
<text x="535" y="737.6" fill="#fbf8b4" text-anchor="middle" >08:17:20</text>
<text x="996.5" y="737.6" fill="#fbf8b4" text-anchor="middle" >08:17:40</text>
<text x="0" y="0" fill="#fbf8b4" text-anchor="middle" transform="translate(17,669.2) rotate(-90)">Power (dBm)</text>
<text x="494" y="301.8" fill="#fbf8b4" text-anchor="end" >0</text>
<text x="494" y="330.4166666666667" fill="#fbf8b4" text-anchor="end" >-20</text>
<text x="494" y="359.03333333333336" fill="#fbf8b4" text-anchor="end" >-40</text>
<text x="494" y="387.65" fill="#fbf8b4" text-anchor="end" >-60</text>
<text x="494" y="416.26666666666665" fill="#fbf8b4" text-anchor="end" >-80</text>
<text x="494" y="444.8833333333333" fill="#fbf8b4" text-anchor="end" >-100</text>
<text x="494" y="473.5" fill="#fbf8b4" text-anchor="end" >-120</text>
<text x="0" y="0" fill="#fbf8b4" text-anchor="middle" transform="translate(447.8,382.3) rotate(-90)">PSD (dBm)</text>
<text x="501" y="476.8" fill="#fbf8b4" text-anchor="middle" >08:17:00</text>
<text x="637.6" y="501.4" fill="#fbf8b4" text-anchor="middle" >08:17:20</text>
<text x="772.5" y="525.7" fill="#fbf8b4" text-anchor="middle" >08:17:40</text>
<text x="810.9" y="523.8" fill="#fbf8b4" text-anchor="middle" >1210</text>
<text x="833.3" y="511.59999999999997" fill="#fbf8b4" text-anchor="middle" >1215</text>
<text x="855.6999999999999" y="499.4" fill="#fbf8b4" text-anchor="middle" >1220</text>
<text x="878.0999999999999" y="487.19999999999993" fill="#fbf8b4" text-anchor="middle" >1225</text>
<text x="900.5" y="474.99999999999994" fill="#fbf8b4" text-anchor="middle" >1230</text>
<text x="922.9" y="462.79999999999995" fill="#fbf8b4" text-anchor="middle" >1235</text>
<text x="945.3" y="450.59999999999997" fill="#fbf8b4" text-anchor="middle" >1240</text>
<text x="967.6999999999999" y="438.4" fill="#fbf8b4" text-anchor="middle" >1245</text>
<text x="0" y="5.5" fill="#fbf8b4" text-anchor="middle" transform="translate(599.5,514.8) rotate(10.1)">Time (UTC)</text>
<text x="0" y="5.5" fill="#fbf8b4" text-anchor="middle" transform="translate(932.3,486.3) rotate(-28.2)">Frequency (MHz)</text>
</svg>
</body></html>
